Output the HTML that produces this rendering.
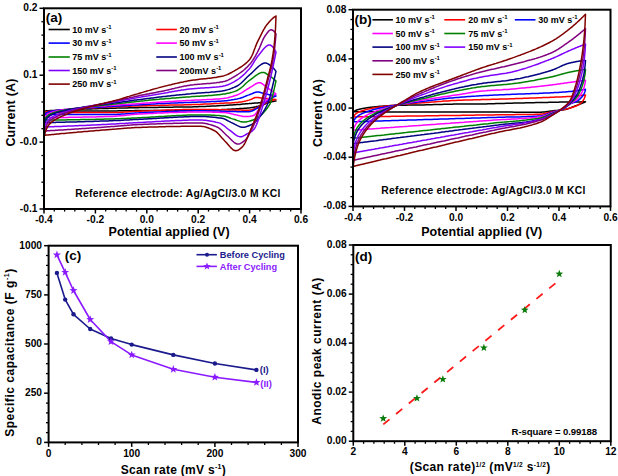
<!DOCTYPE html>
<html><head><meta charset="utf-8"><style>
html,body{margin:0;padding:0;background:#fff;}
svg{display:block;}
text{font-family:"Liberation Sans",sans-serif;font-weight:bold;fill:#000;}
.tk{font-size:10.2px;}
.lg{font-size:9px;}
.sup{font-size:6px;}
.ttl{font-size:12.5px;}
.pl{font-size:13.5px;}
.cv path{fill:none;stroke-width:1.5;stroke-linejoin:round;}
</style></head><body>
<svg width="618" height="476" viewBox="0 0 618 476">
<rect width="618" height="476" fill="#fff"/>
<g class="cv"><path d="M44.5,111.0 L45.0,111.0 L45.5,110.9 L46.0,110.9 L46.5,110.8 L47.0,110.8 L47.5,110.8 L48.0,110.7 L48.5,110.7 L49.0,110.7 L49.5,110.7 L50.0,110.6 L50.5,110.6 L51.0,110.6 L51.5,110.6 L52.0,110.5 L52.5,110.5 L53.0,110.5 L53.5,110.5 L54.0,110.4 L54.5,110.4 L55.0,110.4 L55.5,110.4 L56.0,110.3 L56.5,110.3 L57.0,110.3 L57.5,110.3 L58.0,110.2 L58.5,110.2 L59.0,110.2 L59.5,110.2 L60.0,110.1 L61.5,110.1 L63.0,110.0 L64.5,109.9 L66.0,109.9 L67.5,109.8 L69.0,109.7 L70.5,109.7 L72.0,109.6 L73.5,109.6 L75.0,109.5 L76.5,109.4 L78.0,109.4 L79.5,109.3 L81.0,109.3 L82.5,109.2 L84.0,109.1 L85.5,109.1 L87.0,109.0 L88.5,109.0 L90.0,108.9 L91.5,108.9 L93.0,108.8 L94.5,108.8 L96.0,108.7 L97.5,108.7 L99.0,108.6 L100.5,108.6 L102.0,108.5 L103.5,108.5 L105.0,108.4 L106.5,108.4 L108.0,108.4 L109.5,108.3 L111.0,108.3 L112.5,108.2 L114.0,108.2 L115.5,108.2 L117.0,108.1 L118.5,108.1 L120.0,108.0 L121.5,108.0 L123.0,108.0 L124.5,107.9 L126.0,107.9 L127.5,107.9 L129.0,107.8 L130.5,107.8 L132.0,107.8 L133.5,107.7 L135.0,107.7 L136.5,107.7 L138.0,107.7 L139.5,107.6 L141.0,107.6 L142.5,107.6 L144.0,107.6 L145.5,107.5 L147.0,107.5 L148.5,107.5 L150.0,107.5 L151.5,107.5 L153.0,107.4 L154.5,107.4 L156.0,107.4 L157.5,107.4 L159.0,107.3 L160.5,107.3 L162.0,107.3 L163.5,107.3 L165.0,107.3 L166.5,107.2 L168.0,107.2 L169.5,107.2 L171.0,107.2 L172.5,107.2 L174.0,107.1 L175.5,107.1 L177.0,107.1 L178.5,107.1 L180.0,107.1 L181.5,107.0 L183.0,107.0 L184.5,107.0 L186.0,107.0 L187.5,106.9 L189.0,106.9 L190.5,106.9 L192.0,106.9 L193.5,106.8 L195.0,106.8 L196.5,106.7 L198.0,106.7 L199.5,106.6 L201.0,106.6 L202.5,106.5 L204.0,106.4 L205.5,106.4 L207.0,106.3 L208.5,106.2 L210.0,106.2 L211.5,106.1 L213.0,106.0 L214.5,105.9 L216.0,105.9 L217.5,105.8 L219.0,105.7 L220.5,105.6 L222.0,105.6 L223.5,105.5 L225.0,105.4 L226.5,105.3 L228.0,105.2 L229.5,105.1 L231.0,105.0 L232.5,104.9 L234.0,104.8 L235.5,104.7 L237.0,104.6 L238.5,104.5 L240.0,104.4 L241.5,104.2 L243.0,104.1 L244.5,104.0 L246.0,103.8 L247.5,103.7 L249.0,103.6 L250.0,103.5 L250.5,103.5 L251.0,103.4 L251.5,103.4 L252.0,103.3 L252.5,103.3 L253.0,103.3 L253.5,103.2 L254.0,103.2 L254.5,103.1 L255.0,103.1 L255.5,103.1 L256.0,103.0 L256.5,103.0 L257.0,102.9 L257.5,102.9 L258.0,102.9 L258.5,102.8 L259.0,102.8 L259.5,102.7 L260.0,102.7 L260.5,102.6 L261.0,102.6 L261.5,102.5 L262.0,102.5 L262.5,102.5 L263.0,102.4 L263.5,102.4 L264.0,102.3 L264.5,102.3 L265.0,102.2 L265.5,102.2 L266.0,102.1 L266.5,102.1 L267.0,102.0 L267.5,102.0 L268.0,101.9 L268.5,101.8 L269.0,101.8 L269.5,101.7 L270.0,101.7 L270.5,101.6 L271.0,101.6 L271.5,101.5 L272.0,101.5 L272.5,101.4 L273.0,101.4 L273.5,101.3 L274.0,101.2 L274.5,101.2 L275.0,101.1 L275.5,101.1 L276.0,101.0 L276.0,101.0 L275.5,101.1 L275.0,101.1 L274.5,101.2 L274.0,101.3 L273.5,101.4 L273.0,101.5 L272.5,101.6 L272.0,101.7 L271.5,101.8 L271.0,101.9 L270.5,102.0 L270.0,102.1 L269.5,102.3 L269.0,102.4 L268.5,102.5 L268.0,102.7 L267.5,102.9 L267.0,103.1 L266.5,103.3 L266.0,103.6 L265.5,103.8 L265.0,104.0 L264.5,104.2 L264.0,104.5 L263.5,104.7 L263.0,104.9 L262.5,105.0 L262.0,105.2 L261.5,105.3 L261.0,105.5 L260.5,105.6 L260.0,105.8 L259.5,105.9 L259.0,106.0 L258.5,106.1 L258.0,106.3 L257.5,106.4 L257.0,106.5 L256.5,106.6 L256.0,106.8 L255.5,106.9 L255.0,107.0 L254.5,107.1 L254.0,107.2 L253.5,107.3 L253.0,107.4 L252.5,107.4 L252.0,107.5 L251.5,107.6 L251.0,107.7 L250.5,107.7 L250.0,107.8 L249.0,107.9 L247.5,108.0 L246.0,108.2 L244.5,108.3 L243.0,108.4 L241.5,108.5 L240.0,108.6 L238.5,108.7 L237.0,108.8 L235.5,108.9 L234.0,109.0 L232.5,109.1 L231.0,109.2 L229.5,109.3 L228.0,109.3 L226.5,109.4 L225.0,109.5 L223.5,109.6 L222.0,109.6 L220.5,109.7 L219.0,109.7 L217.5,109.8 L216.0,109.8 L214.5,109.9 L213.0,109.9 L211.5,110.0 L210.0,110.0 L208.5,110.1 L207.0,110.1 L205.5,110.1 L204.0,110.1 L202.5,110.2 L201.0,110.2 L199.5,110.2 L198.0,110.2 L196.5,110.2 L195.0,110.3 L193.5,110.3 L192.0,110.3 L190.5,110.3 L189.0,110.3 L187.5,110.3 L186.0,110.3 L184.5,110.3 L183.0,110.4 L181.5,110.4 L180.0,110.4 L178.5,110.4 L177.0,110.4 L175.5,110.4 L174.0,110.4 L172.5,110.4 L171.0,110.4 L169.5,110.4 L168.0,110.4 L166.5,110.4 L165.0,110.5 L163.5,110.5 L162.0,110.5 L160.5,110.5 L159.0,110.5 L157.5,110.5 L156.0,110.5 L154.5,110.5 L153.0,110.5 L151.5,110.5 L150.0,110.5 L148.5,110.5 L147.0,110.5 L145.5,110.6 L144.0,110.6 L142.5,110.6 L141.0,110.6 L139.5,110.6 L138.0,110.6 L136.5,110.6 L135.0,110.6 L133.5,110.7 L132.0,110.7 L130.5,110.7 L129.0,110.7 L127.5,110.7 L126.0,110.8 L124.5,110.8 L123.0,110.8 L121.5,110.8 L120.0,110.8 L118.5,110.8 L117.0,110.9 L115.5,110.9 L114.0,110.9 L112.5,110.9 L111.0,110.9 L109.5,110.9 L108.0,110.9 L106.5,110.9 L105.0,110.9 L103.5,110.9 L102.0,110.9 L100.5,110.9 L99.0,110.9 L97.5,110.9 L96.0,110.9 L94.5,110.9 L93.0,110.9 L91.5,110.9 L90.0,111.0 L88.5,111.0 L87.0,111.0 L85.5,111.0 L84.0,111.0 L82.5,111.0 L81.0,111.0 L79.5,111.0 L78.0,111.0 L76.5,111.0 L75.0,111.0 L73.5,111.0 L72.0,111.0 L70.5,111.0 L69.0,111.0 L67.5,111.0 L66.0,111.0 L64.5,111.0 L63.0,111.0 L61.5,111.0 L60.0,111.0 L59.5,111.0 L59.0,111.0 L58.5,111.0 L58.0,111.0 L57.5,111.0 L57.0,111.0 L56.5,111.0 L56.0,111.0 L55.5,111.0 L55.0,111.0 L54.5,111.0 L54.0,111.0 L53.5,111.0 L53.0,111.0 L52.5,111.0 L52.0,111.0 L51.5,111.0 L51.0,111.0 L50.5,111.0 L50.0,111.0 L49.5,111.0 L49.0,111.0 L48.5,111.0 L48.0,111.0 L47.5,111.0 L47.0,111.0 L46.5,111.0 L46.0,111.0 L45.5,111.0 L45.0,111.0 L44.5,111.0" stroke="#000000" stroke-width="1.80"/>
<path d="M44.5,112.5 L45.0,112.3 L45.5,112.1 L46.0,111.9 L46.5,111.8 L47.0,111.7 L47.5,111.6 L48.0,111.5 L48.5,111.4 L49.0,111.3 L49.5,111.3 L50.0,111.2 L50.5,111.1 L51.0,111.1 L51.5,111.0 L52.0,110.9 L52.5,110.9 L53.0,110.8 L53.5,110.8 L54.0,110.7 L54.5,110.7 L55.0,110.6 L55.5,110.6 L56.0,110.5 L56.5,110.5 L57.0,110.5 L57.5,110.4 L58.0,110.4 L58.5,110.3 L59.0,110.3 L59.5,110.2 L60.0,110.2 L61.5,110.1 L63.0,109.9 L64.5,109.8 L66.0,109.7 L67.5,109.6 L69.0,109.5 L70.5,109.4 L72.0,109.3 L73.5,109.2 L75.0,109.1 L76.5,109.0 L78.0,108.8 L79.5,108.7 L81.0,108.6 L82.5,108.5 L84.0,108.5 L85.5,108.4 L87.0,108.3 L88.5,108.2 L90.0,108.1 L91.5,108.0 L93.0,107.9 L94.5,107.8 L96.0,107.7 L97.5,107.6 L99.0,107.6 L100.5,107.5 L102.0,107.4 L103.5,107.3 L105.0,107.2 L106.5,107.2 L108.0,107.1 L109.5,107.0 L111.0,107.0 L112.5,106.9 L114.0,106.8 L115.5,106.8 L117.0,106.7 L118.5,106.6 L120.0,106.6 L121.5,106.5 L123.0,106.4 L124.5,106.4 L126.0,106.3 L127.5,106.3 L129.0,106.2 L130.5,106.2 L132.0,106.1 L133.5,106.1 L135.0,106.0 L136.5,106.0 L138.0,105.9 L139.5,105.9 L141.0,105.8 L142.5,105.8 L144.0,105.8 L145.5,105.7 L147.0,105.7 L148.5,105.6 L150.0,105.6 L151.5,105.6 L153.0,105.5 L154.5,105.5 L156.0,105.4 L157.5,105.4 L159.0,105.4 L160.5,105.3 L162.0,105.3 L163.5,105.3 L165.0,105.2 L166.5,105.2 L168.0,105.2 L169.5,105.1 L171.0,105.1 L172.5,105.1 L174.0,105.1 L175.5,105.0 L177.0,105.0 L178.5,105.0 L180.0,104.9 L181.5,104.9 L183.0,104.9 L184.5,104.8 L186.0,104.8 L187.5,104.8 L189.0,104.7 L190.5,104.7 L192.0,104.6 L193.5,104.6 L195.0,104.5 L196.5,104.5 L198.0,104.4 L199.5,104.4 L201.0,104.3 L202.5,104.2 L204.0,104.1 L205.5,104.1 L207.0,104.0 L208.5,103.9 L210.0,103.9 L211.5,103.8 L213.0,103.7 L214.5,103.6 L216.0,103.5 L217.5,103.5 L219.0,103.4 L220.5,103.3 L222.0,103.2 L223.5,103.2 L225.0,103.1 L226.5,103.0 L228.0,103.0 L229.5,102.9 L231.0,102.9 L232.5,102.8 L234.0,102.7 L235.5,102.6 L237.0,102.5 L238.5,102.3 L240.0,102.1 L241.5,101.9 L243.0,101.6 L244.5,101.2 L246.0,100.9 L247.5,100.5 L249.0,100.1 L250.0,99.8 L250.5,99.6 L251.0,99.4 L251.5,99.2 L252.0,99.0 L252.5,98.7 L253.0,98.4 L253.5,98.2 L254.0,98.0 L254.5,97.8 L255.0,97.6 L255.5,97.5 L256.0,97.5 L256.5,97.5 L257.0,97.5 L257.5,97.6 L258.0,97.6 L258.5,97.6 L259.0,97.7 L259.5,97.8 L260.0,97.8 L260.5,97.9 L261.0,98.0 L261.5,98.0 L262.0,98.1 L262.5,98.1 L263.0,98.2 L263.5,98.2 L264.0,98.3 L264.5,98.4 L265.0,98.4 L265.5,98.5 L266.0,98.5 L266.5,98.5 L267.0,98.6 L267.5,98.7 L268.0,98.7 L268.5,98.8 L269.0,98.8 L269.5,98.9 L270.0,98.9 L270.5,99.0 L271.0,99.0 L271.5,99.0 L272.0,99.1 L272.5,99.2 L273.0,99.2 L273.5,99.2 L274.0,99.3 L274.5,99.4 L275.0,99.4 L275.5,99.5 L276.0,99.5 L276.0,99.5 L275.5,99.6 L275.0,99.7 L274.5,99.8 L274.0,99.9 L273.5,100.1 L273.0,100.2 L272.5,100.3 L272.0,100.5 L271.5,100.6 L271.0,100.8 L270.5,101.0 L270.0,101.1 L269.5,101.3 L269.0,101.5 L268.5,101.7 L268.0,101.9 L267.5,102.1 L267.0,102.4 L266.5,102.6 L266.0,102.9 L265.5,103.2 L265.0,103.4 L264.5,103.7 L264.0,104.0 L263.5,104.3 L263.0,104.5 L262.5,104.8 L262.0,105.0 L261.5,105.2 L261.0,105.5 L260.5,105.7 L260.0,106.0 L259.5,106.2 L259.0,106.5 L258.5,106.8 L258.0,107.0 L257.5,107.3 L257.0,107.6 L256.5,107.8 L256.0,108.1 L255.5,108.3 L255.0,108.6 L254.5,108.8 L254.0,109.0 L253.5,109.2 L253.0,109.4 L252.5,109.6 L252.0,109.7 L251.5,109.9 L251.0,110.0 L250.5,110.1 L250.0,110.1 L249.0,110.2 L247.5,110.2 L246.0,110.2 L244.5,110.2 L243.0,110.2 L241.5,110.1 L240.0,110.1 L238.5,110.1 L237.0,110.1 L235.5,110.1 L234.0,110.0 L232.5,110.0 L231.0,110.0 L229.5,109.9 L228.0,109.9 L226.5,109.8 L225.0,109.8 L223.5,109.8 L222.0,109.7 L220.5,109.7 L219.0,109.7 L217.5,109.6 L216.0,109.6 L214.5,109.6 L213.0,109.5 L211.5,109.5 L210.0,109.5 L208.5,109.5 L207.0,109.4 L205.5,109.4 L204.0,109.4 L202.5,109.4 L201.0,109.4 L199.5,109.4 L198.0,109.4 L196.5,109.4 L195.0,109.4 L193.5,109.4 L192.0,109.5 L190.5,109.5 L189.0,109.5 L187.5,109.5 L186.0,109.6 L184.5,109.6 L183.0,109.6 L181.5,109.7 L180.0,109.7 L178.5,109.7 L177.0,109.8 L175.5,109.8 L174.0,109.9 L172.5,109.9 L171.0,110.0 L169.5,110.0 L168.0,110.1 L166.5,110.1 L165.0,110.2 L163.5,110.3 L162.0,110.3 L160.5,110.4 L159.0,110.4 L157.5,110.5 L156.0,110.6 L154.5,110.6 L153.0,110.7 L151.5,110.7 L150.0,110.8 L148.5,110.9 L147.0,110.9 L145.5,111.0 L144.0,111.0 L142.5,111.1 L141.0,111.2 L139.5,111.2 L138.0,111.3 L136.5,111.4 L135.0,111.4 L133.5,111.5 L132.0,111.6 L130.5,111.7 L129.0,111.8 L127.5,111.9 L126.0,112.0 L124.5,112.1 L123.0,112.2 L121.5,112.2 L120.0,112.3 L118.5,112.4 L117.0,112.5 L115.5,112.5 L114.0,112.5 L112.5,112.6 L111.0,112.6 L109.5,112.6 L108.0,112.6 L106.5,112.6 L105.0,112.6 L103.5,112.6 L102.0,112.6 L100.5,112.6 L99.0,112.6 L97.5,112.6 L96.0,112.6 L94.5,112.6 L93.0,112.6 L91.5,112.6 L90.0,112.6 L88.5,112.6 L87.0,112.6 L85.5,112.6 L84.0,112.6 L82.5,112.6 L81.0,112.6 L79.5,112.6 L78.0,112.6 L76.5,112.6 L75.0,112.6 L73.5,112.6 L72.0,112.6 L70.5,112.6 L69.0,112.6 L67.5,112.6 L66.0,112.6 L64.5,112.6 L63.0,112.6 L61.5,112.6 L60.0,112.6 L59.5,112.6 L59.0,112.6 L58.5,112.6 L58.0,112.5 L57.5,112.5 L57.0,112.5 L56.5,112.5 L56.0,112.5 L55.5,112.5 L55.0,112.5 L54.5,112.5 L54.0,112.5 L53.5,112.5 L53.0,112.5 L52.5,112.5 L52.0,112.5 L51.5,112.5 L51.0,112.5 L50.5,112.5 L50.0,112.5 L49.5,112.5 L49.0,112.5 L48.5,112.5 L48.0,112.5 L47.5,112.5 L47.0,112.5 L46.5,112.5 L46.0,112.5 L45.5,112.5 L45.0,112.5 L44.5,112.5" stroke="#ff0000" stroke-width="1.80"/>
<path d="M44.5,114.5 L45.0,114.0 L45.5,113.5 L46.0,113.2 L46.5,112.9 L47.0,112.6 L47.5,112.4 L48.0,112.2 L48.5,112.0 L49.0,111.8 L49.5,111.7 L50.0,111.5 L50.5,111.4 L51.0,111.3 L51.5,111.2 L52.0,111.1 L52.5,111.0 L53.0,110.9 L53.5,110.8 L54.0,110.8 L54.5,110.7 L55.0,110.6 L55.5,110.5 L56.0,110.5 L56.5,110.4 L57.0,110.3 L57.5,110.3 L58.0,110.2 L58.5,110.2 L59.0,110.1 L59.5,110.1 L60.0,110.0 L61.5,109.9 L63.0,109.7 L64.5,109.6 L66.0,109.5 L67.5,109.4 L69.0,109.2 L70.5,109.1 L72.0,109.0 L73.5,108.9 L75.0,108.8 L76.5,108.7 L78.0,108.6 L79.5,108.5 L81.0,108.4 L82.5,108.3 L84.0,108.2 L85.5,108.1 L87.0,108.0 L88.5,107.9 L90.0,107.8 L91.5,107.7 L93.0,107.6 L94.5,107.5 L96.0,107.4 L97.5,107.3 L99.0,107.2 L100.5,107.1 L102.0,107.0 L103.5,106.9 L105.0,106.8 L106.5,106.7 L108.0,106.6 L109.5,106.5 L111.0,106.4 L112.5,106.3 L114.0,106.3 L115.5,106.2 L117.0,106.1 L118.5,106.0 L120.0,105.9 L121.5,105.8 L123.0,105.7 L124.5,105.7 L126.0,105.6 L127.5,105.5 L129.0,105.4 L130.5,105.3 L132.0,105.2 L133.5,105.1 L135.0,105.1 L136.5,105.0 L138.0,104.9 L139.5,104.8 L141.0,104.7 L142.5,104.6 L144.0,104.5 L145.5,104.4 L147.0,104.3 L148.5,104.2 L150.0,104.2 L151.5,104.1 L153.0,104.0 L154.5,103.9 L156.0,103.8 L157.5,103.7 L159.0,103.6 L160.5,103.6 L162.0,103.5 L163.5,103.4 L165.0,103.4 L166.5,103.3 L168.0,103.2 L169.5,103.2 L171.0,103.1 L172.5,103.1 L174.0,103.0 L175.5,102.9 L177.0,102.9 L178.5,102.8 L180.0,102.8 L181.5,102.7 L183.0,102.7 L184.5,102.6 L186.0,102.6 L187.5,102.5 L189.0,102.4 L190.5,102.4 L192.0,102.3 L193.5,102.3 L195.0,102.2 L196.5,102.2 L198.0,102.1 L199.5,102.1 L201.0,102.0 L202.5,102.0 L204.0,101.9 L205.5,101.9 L207.0,101.8 L208.5,101.7 L210.0,101.7 L211.5,101.6 L213.0,101.6 L214.5,101.5 L216.0,101.4 L217.5,101.3 L219.0,101.3 L220.5,101.2 L222.0,101.1 L223.5,101.0 L225.0,100.8 L226.5,100.7 L228.0,100.5 L229.5,100.3 L231.0,100.1 L232.5,99.8 L234.0,99.6 L235.5,99.3 L237.0,99.0 L238.5,98.6 L240.0,98.2 L241.5,97.7 L243.0,97.2 L244.5,96.6 L246.0,96.0 L247.5,95.4 L249.0,94.9 L250.0,94.5 L250.5,94.3 L251.0,94.1 L251.5,93.9 L252.0,93.7 L252.5,93.5 L253.0,93.3 L253.5,93.0 L254.0,92.8 L254.5,92.6 L255.0,92.5 L255.5,92.3 L256.0,92.2 L256.5,92.1 L257.0,92.0 L257.5,92.0 L258.0,92.0 L258.5,92.1 L259.0,92.1 L259.5,92.2 L260.0,92.3 L260.5,92.5 L261.0,92.6 L261.5,92.8 L262.0,92.9 L262.5,93.1 L263.0,93.2 L263.5,93.4 L264.0,93.5 L264.5,93.7 L265.0,93.8 L265.5,93.9 L266.0,94.0 L266.5,94.1 L267.0,94.2 L267.5,94.3 L268.0,94.4 L268.5,94.5 L269.0,94.7 L269.5,94.8 L270.0,94.9 L270.5,95.0 L271.0,95.1 L271.5,95.2 L272.0,95.3 L272.5,95.4 L273.0,95.4 L273.5,95.5 L274.0,95.6 L274.5,95.7 L275.0,95.8 L275.5,95.9 L276.0,96.0 L276.0,96.0 L275.5,96.2 L275.0,96.4 L274.5,96.6 L274.0,96.8 L273.5,97.0 L273.0,97.2 L272.5,97.5 L272.0,97.7 L271.5,98.0 L271.0,98.2 L270.5,98.5 L270.0,98.8 L269.5,99.1 L269.0,99.4 L268.5,99.7 L268.0,100.1 L267.5,100.5 L267.0,100.9 L266.5,101.3 L266.0,101.7 L265.5,102.2 L265.0,102.6 L264.5,103.1 L264.0,103.5 L263.5,103.9 L263.0,104.3 L262.5,104.7 L262.0,105.0 L261.5,105.3 L261.0,105.6 L260.5,106.0 L260.0,106.3 L259.5,106.6 L259.0,107.0 L258.5,107.3 L258.0,107.6 L257.5,107.9 L257.0,108.3 L256.5,108.6 L256.0,108.9 L255.5,109.2 L255.0,109.5 L254.5,109.8 L254.0,110.0 L253.5,110.3 L253.0,110.5 L252.5,110.8 L252.0,111.0 L251.5,111.1 L251.0,111.3 L250.5,111.5 L250.0,111.6 L249.0,111.7 L247.5,111.8 L246.0,111.8 L244.5,111.8 L243.0,111.8 L241.5,111.7 L240.0,111.7 L238.5,111.7 L237.0,111.7 L235.5,111.6 L234.0,111.6 L232.5,111.6 L231.0,111.5 L229.5,111.5 L228.0,111.4 L226.5,111.4 L225.0,111.3 L223.5,111.3 L222.0,111.2 L220.5,111.2 L219.0,111.1 L217.5,111.1 L216.0,111.1 L214.5,111.0 L213.0,111.0 L211.5,110.9 L210.0,110.9 L208.5,110.9 L207.0,110.9 L205.5,110.8 L204.0,110.8 L202.5,110.8 L201.0,110.8 L199.5,110.8 L198.0,110.8 L196.5,110.8 L195.0,110.8 L193.5,110.8 L192.0,110.9 L190.5,110.9 L189.0,110.9 L187.5,110.9 L186.0,111.0 L184.5,111.0 L183.0,111.0 L181.5,111.1 L180.0,111.1 L178.5,111.2 L177.0,111.2 L175.5,111.3 L174.0,111.3 L172.5,111.4 L171.0,111.4 L169.5,111.5 L168.0,111.5 L166.5,111.6 L165.0,111.7 L163.5,111.7 L162.0,111.8 L160.5,111.9 L159.0,111.9 L157.5,112.0 L156.0,112.1 L154.5,112.1 L153.0,112.2 L151.5,112.3 L150.0,112.3 L148.5,112.4 L147.0,112.5 L145.5,112.6 L144.0,112.6 L142.5,112.7 L141.0,112.8 L139.5,112.8 L138.0,112.9 L136.5,113.0 L135.0,113.1 L133.5,113.2 L132.0,113.3 L130.5,113.4 L129.0,113.5 L127.5,113.7 L126.0,113.8 L124.5,113.9 L123.0,114.0 L121.5,114.1 L120.0,114.2 L118.5,114.3 L117.0,114.4 L115.5,114.5 L114.0,114.5 L112.5,114.6 L111.0,114.6 L109.5,114.6 L108.0,114.6 L106.5,114.6 L105.0,114.6 L103.5,114.6 L102.0,114.6 L100.5,114.6 L99.0,114.6 L97.5,114.6 L96.0,114.6 L94.5,114.6 L93.0,114.6 L91.5,114.6 L90.0,114.6 L88.5,114.6 L87.0,114.6 L85.5,114.6 L84.0,114.6 L82.5,114.6 L81.0,114.6 L79.5,114.6 L78.0,114.6 L76.5,114.6 L75.0,114.6 L73.5,114.6 L72.0,114.6 L70.5,114.6 L69.0,114.6 L67.5,114.6 L66.0,114.6 L64.5,114.6 L63.0,114.6 L61.5,114.6 L60.0,114.6 L59.5,114.6 L59.0,114.6 L58.5,114.6 L58.0,114.5 L57.5,114.5 L57.0,114.5 L56.5,114.5 L56.0,114.5 L55.5,114.5 L55.0,114.5 L54.5,114.5 L54.0,114.5 L53.5,114.5 L53.0,114.5 L52.5,114.5 L52.0,114.5 L51.5,114.5 L51.0,114.5 L50.5,114.5 L50.0,114.5 L49.5,114.5 L49.0,114.5 L48.5,114.5 L48.0,114.5 L47.5,114.5 L47.0,114.5 L46.5,114.5 L46.0,114.5 L45.5,114.5 L45.0,114.5 L44.5,114.5" stroke="#0000ff" stroke-width="1.80"/>
<path d="M44.5,117.5 L45.0,116.7 L45.5,116.0 L46.0,115.5 L46.5,115.0 L47.0,114.6 L47.5,114.2 L48.0,113.9 L48.5,113.6 L49.0,113.3 L49.5,113.1 L50.0,112.9 L50.5,112.7 L51.0,112.5 L51.5,112.3 L52.0,112.2 L52.5,112.0 L53.0,111.9 L53.5,111.7 L54.0,111.6 L54.5,111.5 L55.0,111.3 L55.5,111.2 L56.0,111.1 L56.5,111.0 L57.0,110.9 L57.5,110.8 L58.0,110.7 L58.5,110.6 L59.0,110.5 L59.5,110.4 L60.0,110.3 L61.5,110.0 L63.0,109.8 L64.5,109.6 L66.0,109.4 L67.5,109.2 L69.0,109.0 L70.5,108.9 L72.0,108.7 L73.5,108.5 L75.0,108.4 L76.5,108.2 L78.0,108.1 L79.5,107.9 L81.0,107.8 L82.5,107.7 L84.0,107.5 L85.5,107.4 L87.0,107.3 L88.5,107.2 L90.0,107.0 L91.5,106.9 L93.0,106.8 L94.5,106.7 L96.0,106.6 L97.5,106.4 L99.0,106.3 L100.5,106.2 L102.0,106.1 L103.5,106.0 L105.0,105.9 L106.5,105.8 L108.0,105.6 L109.5,105.5 L111.0,105.4 L112.5,105.3 L114.0,105.2 L115.5,105.1 L117.0,105.0 L118.5,104.9 L120.0,104.8 L121.5,104.7 L123.0,104.6 L124.5,104.5 L126.0,104.4 L127.5,104.4 L129.0,104.3 L130.5,104.2 L132.0,104.1 L133.5,104.0 L135.0,103.9 L136.5,103.8 L138.0,103.7 L139.5,103.6 L141.0,103.5 L142.5,103.3 L144.0,103.2 L145.5,103.1 L147.0,103.0 L148.5,102.9 L150.0,102.8 L151.5,102.7 L153.0,102.6 L154.5,102.5 L156.0,102.4 L157.5,102.3 L159.0,102.2 L160.5,102.1 L162.0,102.0 L163.5,101.9 L165.0,101.8 L166.5,101.7 L168.0,101.6 L169.5,101.5 L171.0,101.5 L172.5,101.4 L174.0,101.3 L175.5,101.2 L177.0,101.1 L178.5,101.0 L180.0,101.0 L181.5,100.9 L183.0,100.8 L184.5,100.7 L186.0,100.6 L187.5,100.5 L189.0,100.5 L190.5,100.4 L192.0,100.3 L193.5,100.2 L195.0,100.1 L196.5,100.1 L198.0,100.0 L199.5,99.9 L201.0,99.9 L202.5,99.8 L204.0,99.7 L205.5,99.7 L207.0,99.6 L208.5,99.5 L210.0,99.5 L211.5,99.4 L213.0,99.3 L214.5,99.2 L216.0,99.1 L217.5,99.0 L219.0,98.9 L220.5,98.7 L222.0,98.6 L223.5,98.4 L225.0,98.2 L226.5,98.0 L228.0,97.7 L229.5,97.3 L231.0,96.9 L232.5,96.5 L234.0,96.0 L235.5,95.5 L237.0,95.0 L238.5,94.4 L240.0,93.6 L241.5,92.8 L243.0,91.9 L244.5,90.9 L246.0,89.9 L247.5,89.0 L249.0,88.1 L250.0,87.5 L250.5,87.2 L251.0,86.9 L251.5,86.6 L252.0,86.3 L252.5,85.9 L253.0,85.6 L253.5,85.3 L254.0,84.9 L254.5,84.6 L255.0,84.3 L255.5,84.0 L256.0,83.7 L256.5,83.5 L257.0,83.3 L257.5,83.1 L258.0,82.9 L258.5,82.8 L259.0,82.7 L259.5,82.7 L260.0,82.7 L260.5,82.9 L261.0,83.0 L261.5,83.3 L262.0,83.6 L262.5,83.9 L263.0,84.3 L263.5,84.7 L264.0,85.1 L264.5,85.5 L265.0,85.9 L265.5,86.4 L266.0,86.8 L266.5,87.1 L267.0,87.5 L267.5,87.8 L268.0,88.2 L268.5,88.5 L269.0,88.9 L269.5,89.2 L270.0,89.6 L270.5,89.9 L271.0,90.3 L271.5,90.6 L272.0,91.0 L272.5,91.4 L273.0,91.7 L273.5,92.1 L274.0,92.5 L274.5,92.9 L275.0,93.2 L275.5,93.6 L276.0,94.0 L276.0,94.0 L275.5,94.2 L275.0,94.4 L274.5,94.7 L274.0,95.0 L273.5,95.2 L273.0,95.5 L272.5,95.8 L272.0,96.1 L271.5,96.4 L271.0,96.8 L270.5,97.1 L270.0,97.5 L269.5,97.8 L269.0,98.2 L268.5,98.6 L268.0,99.0 L267.5,99.4 L267.0,99.9 L266.5,100.3 L266.0,100.8 L265.5,101.3 L265.0,101.8 L264.5,102.3 L264.0,102.9 L263.5,103.4 L263.0,103.9 L262.5,104.5 L262.0,105.0 L261.5,105.6 L261.0,106.2 L260.5,106.9 L260.0,107.6 L259.5,108.3 L259.0,109.0 L258.5,109.8 L258.0,110.6 L257.5,111.3 L257.0,112.0 L256.5,112.7 L256.0,113.3 L255.5,113.9 L255.0,114.5 L254.5,114.9 L254.0,115.3 L253.5,115.5 L253.0,115.7 L252.5,115.8 L252.0,115.9 L251.5,116.0 L251.0,116.1 L250.5,116.2 L250.0,116.3 L249.0,116.4 L247.5,116.6 L246.0,116.6 L244.5,116.5 L243.0,116.4 L241.5,116.1 L240.0,115.8 L238.5,115.4 L237.0,115.1 L235.5,114.7 L234.0,114.4 L232.5,114.1 L231.0,113.7 L229.5,113.3 L228.0,113.0 L226.5,112.7 L225.0,112.6 L223.5,112.5 L222.0,112.5 L220.5,112.4 L219.0,112.3 L217.5,112.3 L216.0,112.2 L214.5,112.2 L213.0,112.2 L211.5,112.1 L210.0,112.1 L208.5,112.1 L207.0,112.0 L205.5,112.0 L204.0,112.0 L202.5,112.0 L201.0,112.0 L199.5,112.0 L198.0,112.0 L196.5,112.0 L195.0,112.0 L193.5,112.0 L192.0,112.1 L190.5,112.1 L189.0,112.1 L187.5,112.1 L186.0,112.2 L184.5,112.2 L183.0,112.2 L181.5,112.3 L180.0,112.3 L178.5,112.3 L177.0,112.4 L175.5,112.4 L174.0,112.5 L172.5,112.5 L171.0,112.6 L169.5,112.6 L168.0,112.7 L166.5,112.8 L165.0,112.8 L163.5,112.9 L162.0,112.9 L160.5,113.0 L159.0,113.1 L157.5,113.1 L156.0,113.2 L154.5,113.3 L153.0,113.4 L151.5,113.4 L150.0,113.5 L148.5,113.6 L147.0,113.7 L145.5,113.7 L144.0,113.8 L142.5,113.9 L141.0,114.0 L139.5,114.0 L138.0,114.1 L136.5,114.2 L135.0,114.3 L133.5,114.5 L132.0,114.6 L130.5,114.8 L129.0,114.9 L127.5,115.1 L126.0,115.2 L124.5,115.4 L123.0,115.5 L121.5,115.7 L120.0,115.8 L118.5,116.0 L117.0,116.1 L115.5,116.2 L114.0,116.3 L112.5,116.4 L111.0,116.5 L109.5,116.5 L108.0,116.6 L106.5,116.6 L105.0,116.6 L103.5,116.7 L102.0,116.7 L100.5,116.8 L99.0,116.8 L97.5,116.8 L96.0,116.9 L94.5,116.9 L93.0,116.9 L91.5,117.0 L90.0,117.0 L88.5,117.0 L87.0,117.1 L85.5,117.1 L84.0,117.1 L82.5,117.1 L81.0,117.2 L79.5,117.2 L78.0,117.2 L76.5,117.2 L75.0,117.3 L73.5,117.3 L72.0,117.3 L70.5,117.3 L69.0,117.3 L67.5,117.4 L66.0,117.4 L64.5,117.4 L63.0,117.4 L61.5,117.4 L60.0,117.4 L59.5,117.4 L59.0,117.4 L58.5,117.4 L58.0,117.5 L57.5,117.5 L57.0,117.5 L56.5,117.5 L56.0,117.5 L55.5,117.5 L55.0,117.5 L54.5,117.5 L54.0,117.5 L53.5,117.5 L53.0,117.5 L52.5,117.5 L52.0,117.5 L51.5,117.5 L51.0,117.5 L50.5,117.5 L50.0,117.5 L49.5,117.5 L49.0,117.5 L48.5,117.5 L48.0,117.5 L47.5,117.5 L47.0,117.5 L46.5,117.5 L46.0,117.5 L45.5,117.5 L45.0,117.5 L44.5,117.5" stroke="#ff00ff" stroke-width="1.80"/>
<path d="M44.5,120.0 L45.0,119.0 L45.5,118.2 L46.0,117.5 L46.5,116.9 L47.0,116.4 L47.5,115.9 L48.0,115.5 L48.5,115.1 L49.0,114.8 L49.5,114.5 L50.0,114.3 L50.5,114.0 L51.0,113.8 L51.5,113.6 L52.0,113.3 L52.5,113.2 L53.0,113.0 L53.5,112.8 L54.0,112.6 L54.5,112.5 L55.0,112.3 L55.5,112.2 L56.0,112.0 L56.5,111.9 L57.0,111.7 L57.5,111.6 L58.0,111.5 L58.5,111.3 L59.0,111.2 L59.5,111.1 L60.0,111.0 L61.5,110.7 L63.0,110.4 L64.5,110.1 L66.0,109.8 L67.5,109.6 L69.0,109.3 L70.5,109.1 L72.0,108.9 L73.5,108.7 L75.0,108.5 L76.5,108.3 L78.0,108.1 L79.5,107.9 L81.0,107.7 L82.5,107.5 L84.0,107.4 L85.5,107.2 L87.0,107.0 L88.5,106.8 L90.0,106.7 L91.5,106.5 L93.0,106.3 L94.5,106.2 L96.0,106.0 L97.5,105.9 L99.0,105.7 L100.5,105.5 L102.0,105.4 L103.5,105.2 L105.0,105.1 L106.5,104.9 L108.0,104.7 L109.5,104.6 L111.0,104.4 L112.5,104.2 L114.0,104.1 L115.5,103.9 L117.0,103.7 L118.5,103.6 L120.0,103.4 L121.5,103.2 L123.0,103.1 L124.5,102.9 L126.0,102.7 L127.5,102.5 L129.0,102.4 L130.5,102.2 L132.0,102.0 L133.5,101.9 L135.0,101.7 L136.5,101.5 L138.0,101.4 L139.5,101.2 L141.0,101.1 L142.5,100.9 L144.0,100.8 L145.5,100.6 L147.0,100.4 L148.5,100.3 L150.0,100.1 L151.5,100.0 L153.0,99.8 L154.5,99.7 L156.0,99.6 L157.5,99.4 L159.0,99.3 L160.5,99.1 L162.0,99.0 L163.5,98.9 L165.0,98.7 L166.5,98.6 L168.0,98.5 L169.5,98.4 L171.0,98.3 L172.5,98.1 L174.0,98.0 L175.5,97.9 L177.0,97.8 L178.5,97.7 L180.0,97.6 L181.5,97.5 L183.0,97.3 L184.5,97.2 L186.0,97.1 L187.5,97.0 L189.0,96.9 L190.5,96.8 L192.0,96.6 L193.5,96.5 L195.0,96.4 L196.5,96.3 L198.0,96.2 L199.5,96.2 L201.0,96.1 L202.5,96.0 L204.0,95.9 L205.5,95.8 L207.0,95.7 L208.5,95.6 L210.0,95.5 L211.5,95.4 L213.0,95.2 L214.5,95.1 L216.0,95.0 L217.5,94.8 L219.0,94.7 L220.5,94.5 L222.0,94.3 L223.5,94.1 L225.0,93.9 L226.5,93.6 L228.0,93.3 L229.5,93.0 L231.0,92.5 L232.5,92.1 L234.0,91.6 L235.5,91.1 L237.0,90.5 L238.5,89.7 L240.0,88.7 L241.5,87.5 L243.0,86.2 L244.5,84.8 L246.0,83.3 L247.5,82.0 L249.0,80.7 L250.0,80.0 L250.5,79.7 L251.0,79.3 L251.5,78.9 L252.0,78.5 L252.5,78.2 L253.0,77.8 L253.5,77.4 L254.0,77.0 L254.5,76.6 L255.0,76.2 L255.5,75.8 L256.0,75.5 L256.5,75.1 L257.0,74.8 L257.5,74.4 L258.0,74.1 L258.5,73.8 L259.0,73.5 L259.5,73.3 L260.0,73.1 L260.5,72.9 L261.0,72.7 L261.5,72.6 L262.0,72.5 L262.5,72.4 L263.0,72.4 L263.5,72.4 L264.0,72.5 L264.5,72.7 L265.0,72.9 L265.5,73.2 L266.0,73.5 L266.5,73.8 L267.0,74.1 L267.5,74.5 L268.0,74.8 L268.5,75.2 L269.0,75.5 L269.5,75.8 L270.0,76.1 L270.5,76.5 L271.0,76.8 L271.5,77.2 L272.0,77.6 L272.5,78.0 L273.0,78.4 L273.5,78.8 L274.0,79.2 L274.5,79.6 L275.0,80.1 L275.5,80.5 L276.0,81.0 L276.0,81.0 L275.5,83.2 L275.0,85.4 L274.5,87.7 L274.0,89.9 L273.5,92.1 L273.0,94.2 L272.5,96.2 L272.0,98.0 L271.5,99.8 L271.0,101.4 L270.5,102.7 L270.0,103.9 L269.5,104.9 L269.0,105.6 L268.5,106.4 L268.0,107.1 L267.5,107.8 L267.0,108.4 L266.5,109.1 L266.0,109.7 L265.5,110.3 L265.0,110.9 L264.5,111.5 L264.0,112.1 L263.5,112.6 L263.0,113.1 L262.5,113.6 L262.0,114.1 L261.5,114.6 L261.0,115.0 L260.5,115.4 L260.0,115.9 L259.5,116.2 L259.0,116.6 L258.5,117.0 L258.0,117.3 L257.5,117.7 L257.0,118.0 L256.5,118.3 L256.0,118.6 L255.5,118.8 L255.0,119.1 L254.5,119.3 L254.0,119.6 L253.5,119.8 L253.0,120.0 L252.5,120.2 L252.0,120.3 L251.5,120.5 L251.0,120.7 L250.5,120.8 L250.0,120.9 L249.0,121.2 L247.5,121.6 L246.0,121.9 L244.5,122.0 L243.0,122.0 L241.5,121.7 L240.0,121.4 L238.5,120.9 L237.0,120.4 L235.5,119.8 L234.0,119.3 L232.5,118.9 L231.0,118.4 L229.5,117.8 L228.0,117.2 L226.5,116.7 L225.0,116.3 L223.5,116.0 L222.0,115.9 L220.5,115.7 L219.0,115.6 L217.5,115.5 L216.0,115.4 L214.5,115.3 L213.0,115.2 L211.5,115.2 L210.0,115.1 L208.5,115.0 L207.0,115.0 L205.5,115.0 L204.0,114.9 L202.5,114.9 L201.0,114.9 L199.5,114.9 L198.0,114.9 L196.5,114.9 L195.0,114.9 L193.5,115.0 L192.0,115.0 L190.5,115.0 L189.0,115.1 L187.5,115.1 L186.0,115.2 L184.5,115.2 L183.0,115.3 L181.5,115.4 L180.0,115.4 L178.5,115.5 L177.0,115.6 L175.5,115.7 L174.0,115.7 L172.5,115.8 L171.0,115.9 L169.5,116.0 L168.0,116.1 L166.5,116.2 L165.0,116.3 L163.5,116.4 L162.0,116.5 L160.5,116.5 L159.0,116.6 L157.5,116.7 L156.0,116.8 L154.5,116.9 L153.0,117.0 L151.5,117.1 L150.0,117.2 L148.5,117.3 L147.0,117.4 L145.5,117.4 L144.0,117.5 L142.5,117.6 L141.0,117.7 L139.5,117.7 L138.0,117.8 L136.5,117.9 L135.0,117.9 L133.5,118.0 L132.0,118.1 L130.5,118.2 L129.0,118.2 L127.5,118.3 L126.0,118.4 L124.5,118.5 L123.0,118.5 L121.5,118.6 L120.0,118.7 L118.5,118.7 L117.0,118.8 L115.5,118.8 L114.0,118.9 L112.5,118.9 L111.0,119.0 L109.5,119.0 L108.0,119.0 L106.5,119.1 L105.0,119.1 L103.5,119.2 L102.0,119.2 L100.5,119.2 L99.0,119.3 L97.5,119.3 L96.0,119.3 L94.5,119.4 L93.0,119.4 L91.5,119.4 L90.0,119.5 L88.5,119.5 L87.0,119.5 L85.5,119.5 L84.0,119.6 L82.5,119.6 L81.0,119.6 L79.5,119.7 L78.0,119.7 L76.5,119.7 L75.0,119.7 L73.5,119.8 L72.0,119.8 L70.5,119.8 L69.0,119.8 L67.5,119.8 L66.0,119.9 L64.5,119.9 L63.0,119.9 L61.5,119.9 L60.0,119.9 L59.5,119.9 L59.0,119.9 L58.5,119.9 L58.0,119.9 L57.5,119.9 L57.0,120.0 L56.5,120.0 L56.0,120.0 L55.5,120.0 L55.0,120.0 L54.5,120.0 L54.0,120.0 L53.5,120.0 L53.0,120.0 L52.5,120.0 L52.0,120.0 L51.5,120.0 L51.0,120.0 L50.5,120.0 L50.0,120.0 L49.5,120.0 L49.0,120.0 L48.5,120.0 L48.0,120.0 L47.5,120.0 L47.0,120.0 L46.5,120.0 L46.0,120.0 L45.5,120.0 L45.0,120.0 L44.5,120.0" stroke="#008000" stroke-width="1.80"/>
<path d="M44.5,122.5 L45.0,121.3 L45.5,120.3 L46.0,119.5 L46.5,118.8 L47.0,118.2 L47.5,117.6 L48.0,117.1 L48.5,116.7 L49.0,116.3 L49.5,116.0 L50.0,115.6 L50.5,115.3 L51.0,115.1 L51.5,114.8 L52.0,114.6 L52.5,114.3 L53.0,114.1 L53.5,113.9 L54.0,113.7 L54.5,113.5 L55.0,113.3 L55.5,113.1 L56.0,112.9 L56.5,112.7 L57.0,112.6 L57.5,112.4 L58.0,112.3 L58.5,112.1 L59.0,111.9 L59.5,111.8 L60.0,111.7 L61.5,111.2 L63.0,110.9 L64.5,110.5 L66.0,110.2 L67.5,109.8 L69.0,109.5 L70.5,109.2 L72.0,109.0 L73.5,108.7 L75.0,108.4 L76.5,108.2 L78.0,107.9 L79.5,107.7 L81.0,107.5 L82.5,107.2 L84.0,107.0 L85.5,106.8 L87.0,106.6 L88.5,106.4 L90.0,106.2 L91.5,106.0 L93.0,105.8 L94.5,105.6 L96.0,105.4 L97.5,105.2 L99.0,105.0 L100.5,104.8 L102.0,104.6 L103.5,104.4 L105.0,104.2 L106.5,104.0 L108.0,103.8 L109.5,103.6 L111.0,103.4 L112.5,103.2 L114.0,103.0 L115.5,102.8 L117.0,102.6 L118.5,102.4 L120.0,102.2 L121.5,102.0 L123.0,101.8 L124.5,101.6 L126.0,101.4 L127.5,101.2 L129.0,100.9 L130.5,100.7 L132.0,100.5 L133.5,100.3 L135.0,100.1 L136.5,99.9 L138.0,99.7 L139.5,99.6 L141.0,99.4 L142.5,99.2 L144.0,99.0 L145.5,98.8 L147.0,98.6 L148.5,98.4 L150.0,98.2 L151.5,98.0 L153.0,97.9 L154.5,97.7 L156.0,97.5 L157.5,97.3 L159.0,97.1 L160.5,97.0 L162.0,96.8 L163.5,96.6 L165.0,96.5 L166.5,96.3 L168.0,96.1 L169.5,96.0 L171.0,95.8 L172.5,95.6 L174.0,95.5 L175.5,95.3 L177.0,95.1 L178.5,95.0 L180.0,94.8 L181.5,94.7 L183.0,94.5 L184.5,94.4 L186.0,94.2 L187.5,94.0 L189.0,93.9 L190.5,93.8 L192.0,93.6 L193.5,93.5 L195.0,93.4 L196.5,93.2 L198.0,93.1 L199.5,93.0 L201.0,92.9 L202.5,92.8 L204.0,92.7 L205.5,92.6 L207.0,92.5 L208.5,92.4 L210.0,92.3 L211.5,92.1 L213.0,92.0 L214.5,91.9 L216.0,91.7 L217.5,91.5 L219.0,91.4 L220.5,91.2 L222.0,91.0 L223.5,90.7 L225.0,90.4 L226.5,90.1 L228.0,89.6 L229.5,89.2 L231.0,88.6 L232.5,88.0 L234.0,87.4 L235.5,86.7 L237.0,86.0 L238.5,85.1 L240.0,84.0 L241.5,82.7 L243.0,81.3 L244.5,79.8 L246.0,78.2 L247.5,76.7 L249.0,75.4 L250.0,74.5 L250.5,74.1 L251.0,73.7 L251.5,73.2 L252.0,72.7 L252.5,72.3 L253.0,71.8 L253.5,71.3 L254.0,70.8 L254.5,70.3 L255.0,69.8 L255.5,69.3 L256.0,68.8 L256.5,68.3 L257.0,67.8 L257.5,67.4 L258.0,66.9 L258.5,66.5 L259.0,66.0 L259.5,65.6 L260.0,65.3 L260.5,64.9 L261.0,64.6 L261.5,64.2 L262.0,64.0 L262.5,63.7 L263.0,63.5 L263.5,63.3 L264.0,63.2 L264.5,63.1 L265.0,63.0 L265.5,63.0 L266.0,63.1 L266.5,63.2 L267.0,63.4 L267.5,63.6 L268.0,63.9 L268.5,64.2 L269.0,64.5 L269.5,64.8 L270.0,65.2 L270.5,65.5 L271.0,65.9 L271.5,66.3 L272.0,66.7 L272.5,67.2 L273.0,67.7 L273.5,68.2 L274.0,68.8 L274.5,69.4 L275.0,70.1 L275.5,70.7 L276.0,71.4 L276.0,71.4 L275.5,73.7 L275.0,75.9 L274.5,78.0 L274.0,80.1 L273.5,82.2 L273.0,84.2 L272.5,86.4 L272.0,88.5 L271.5,90.6 L271.0,92.7 L270.5,94.7 L270.0,96.6 L269.5,98.5 L269.0,100.2 L268.5,101.7 L268.0,103.1 L267.5,104.3 L267.0,105.4 L266.5,106.3 L266.0,107.2 L265.5,108.1 L265.0,109.0 L264.5,109.9 L264.0,110.7 L263.5,111.5 L263.0,112.3 L262.5,113.1 L262.0,113.8 L261.5,114.6 L261.0,115.3 L260.5,116.0 L260.0,116.6 L259.5,117.3 L259.0,117.9 L258.5,118.5 L258.0,119.1 L257.5,119.6 L257.0,120.2 L256.5,120.7 L256.0,121.2 L255.5,121.6 L255.0,122.1 L254.5,122.5 L254.0,122.9 L253.5,123.3 L253.0,123.6 L252.5,124.0 L252.0,124.3 L251.5,124.6 L251.0,124.8 L250.5,125.1 L250.0,125.3 L249.0,125.7 L247.5,126.3 L246.0,126.8 L244.5,127.2 L243.0,127.3 L241.5,127.2 L240.0,126.7 L238.5,126.1 L237.0,125.4 L235.5,124.6 L234.0,123.8 L232.5,123.1 L231.0,122.4 L229.5,121.6 L228.0,120.8 L226.5,120.0 L225.0,119.2 L223.5,118.6 L222.0,118.3 L220.5,118.1 L219.0,117.9 L217.5,117.7 L216.0,117.5 L214.5,117.3 L213.0,117.2 L211.5,117.0 L210.0,116.9 L208.5,116.8 L207.0,116.7 L205.5,116.6 L204.0,116.6 L202.5,116.5 L201.0,116.5 L199.5,116.5 L198.0,116.5 L196.5,116.5 L195.0,116.5 L193.5,116.6 L192.0,116.6 L190.5,116.6 L189.0,116.7 L187.5,116.7 L186.0,116.8 L184.5,116.8 L183.0,116.9 L181.5,116.9 L180.0,117.0 L178.5,117.1 L177.0,117.2 L175.5,117.2 L174.0,117.3 L172.5,117.4 L171.0,117.5 L169.5,117.6 L168.0,117.7 L166.5,117.7 L165.0,117.8 L163.5,117.9 L162.0,118.0 L160.5,118.1 L159.0,118.2 L157.5,118.3 L156.0,118.4 L154.5,118.5 L153.0,118.6 L151.5,118.7 L150.0,118.8 L148.5,118.8 L147.0,118.9 L145.5,119.0 L144.0,119.1 L142.5,119.2 L141.0,119.3 L139.5,119.3 L138.0,119.4 L136.5,119.5 L135.0,119.6 L133.5,119.6 L132.0,119.7 L130.5,119.8 L129.0,119.9 L127.5,120.0 L126.0,120.0 L124.5,120.1 L123.0,120.2 L121.5,120.3 L120.0,120.4 L118.5,120.4 L117.0,120.5 L115.5,120.6 L114.0,120.6 L112.5,120.7 L111.0,120.8 L109.5,120.8 L108.0,120.9 L106.5,120.9 L105.0,121.0 L103.5,121.0 L102.0,121.1 L100.5,121.1 L99.0,121.2 L97.5,121.2 L96.0,121.3 L94.5,121.3 L93.0,121.4 L91.5,121.4 L90.0,121.5 L88.5,121.5 L87.0,121.6 L85.5,121.6 L84.0,121.7 L82.5,121.7 L81.0,121.8 L79.5,121.8 L78.0,121.8 L76.5,121.9 L75.0,121.9 L73.5,122.0 L72.0,122.0 L70.5,122.0 L69.0,122.1 L67.5,122.1 L66.0,122.1 L64.5,122.2 L63.0,122.2 L61.5,122.2 L60.0,122.3 L59.5,122.3 L59.0,122.3 L58.5,122.3 L58.0,122.3 L57.5,122.3 L57.0,122.3 L56.5,122.3 L56.0,122.3 L55.5,122.4 L55.0,122.4 L54.5,122.4 L54.0,122.4 L53.5,122.4 L53.0,122.4 L52.5,122.4 L52.0,122.4 L51.5,122.4 L51.0,122.4 L50.5,122.4 L50.0,122.4 L49.5,122.4 L49.0,122.5 L48.5,122.5 L48.0,122.5 L47.5,122.5 L47.0,122.5 L46.5,122.5 L46.0,122.5 L45.5,122.5 L45.0,122.5 L44.5,122.5" stroke="#000080" stroke-width="1.80"/>
<path d="M44.5,127.0 L45.0,125.6 L45.5,124.3 L46.0,123.3 L46.5,122.4 L47.0,121.6 L47.5,121.0 L48.0,120.4 L48.5,119.8 L49.0,119.3 L49.5,118.9 L50.0,118.5 L50.5,118.1 L51.0,117.8 L51.5,117.5 L52.0,117.2 L52.5,116.9 L53.0,116.6 L53.5,116.3 L54.0,116.1 L54.5,115.8 L55.0,115.6 L55.5,115.4 L56.0,115.2 L56.5,114.9 L57.0,114.7 L57.5,114.5 L58.0,114.3 L58.5,114.1 L59.0,113.9 L59.5,113.8 L60.0,113.6 L61.5,113.0 L63.0,112.5 L64.5,112.1 L66.0,111.6 L67.5,111.2 L69.0,110.8 L70.5,110.4 L72.0,110.0 L73.5,109.6 L75.0,109.3 L76.5,108.9 L78.0,108.6 L79.5,108.3 L81.0,108.0 L82.5,107.7 L84.0,107.4 L85.5,107.1 L87.0,106.8 L88.5,106.5 L90.0,106.2 L91.5,105.9 L93.0,105.7 L94.5,105.4 L96.0,105.1 L97.5,104.9 L99.0,104.6 L100.5,104.3 L102.0,104.1 L103.5,103.8 L105.0,103.6 L106.5,103.3 L108.0,103.1 L109.5,102.8 L111.0,102.6 L112.5,102.3 L114.0,102.0 L115.5,101.7 L117.0,101.5 L118.5,101.2 L120.0,100.9 L121.5,100.6 L123.0,100.3 L124.5,100.0 L126.0,99.7 L127.5,99.4 L129.0,99.2 L130.5,98.9 L132.0,98.6 L133.5,98.3 L135.0,98.0 L136.5,97.8 L138.0,97.5 L139.5,97.2 L141.0,97.0 L142.5,96.7 L144.0,96.4 L145.5,96.2 L147.0,95.9 L148.5,95.7 L150.0,95.4 L151.5,95.2 L153.0,94.9 L154.5,94.7 L156.0,94.4 L157.5,94.2 L159.0,93.9 L160.5,93.7 L162.0,93.4 L163.5,93.2 L165.0,92.9 L166.5,92.7 L168.0,92.4 L169.5,92.1 L171.0,91.9 L172.5,91.6 L174.0,91.4 L175.5,91.1 L177.0,90.9 L178.5,90.6 L180.0,90.4 L181.5,90.1 L183.0,89.9 L184.5,89.7 L186.0,89.5 L187.5,89.3 L189.0,89.1 L190.5,88.9 L192.0,88.8 L193.5,88.7 L195.0,88.5 L196.5,88.4 L198.0,88.3 L199.5,88.2 L201.0,88.1 L202.5,88.0 L204.0,87.9 L205.5,87.8 L207.0,87.8 L208.5,87.7 L210.0,87.6 L211.5,87.5 L213.0,87.3 L214.5,87.2 L216.0,87.1 L217.5,86.9 L219.0,86.8 L220.5,86.6 L222.0,86.4 L223.5,86.1 L225.0,85.8 L226.5,85.3 L228.0,84.8 L229.5,84.1 L231.0,83.4 L232.5,82.6 L234.0,81.8 L235.5,80.9 L237.0,80.0 L238.5,79.0 L240.0,77.9 L241.5,76.7 L243.0,75.4 L244.5,74.0 L246.0,72.4 L247.5,70.8 L249.0,69.2 L250.0,68.0 L250.5,67.4 L251.0,66.7 L251.5,66.0 L252.0,65.3 L252.5,64.5 L253.0,63.7 L253.5,62.8 L254.0,62.0 L254.5,61.2 L255.0,60.4 L255.5,59.6 L256.0,58.8 L256.5,58.0 L257.0,57.3 L257.5,56.6 L258.0,56.0 L258.5,55.4 L259.0,54.8 L259.5,54.1 L260.0,53.5 L260.5,52.9 L261.0,52.2 L261.5,51.6 L262.0,50.9 L262.5,50.3 L263.0,49.7 L263.5,49.1 L264.0,48.5 L264.5,48.0 L265.0,47.5 L265.5,47.0 L266.0,46.6 L266.5,46.2 L267.0,45.8 L267.5,45.5 L268.0,45.3 L268.5,45.1 L269.0,45.0 L269.5,45.0 L270.0,45.1 L270.5,45.2 L271.0,45.5 L271.5,45.8 L272.0,46.2 L272.5,46.7 L273.0,47.3 L273.5,48.0 L274.0,48.7 L274.5,49.4 L275.0,50.3 L275.5,51.1 L276.0,52.0 L276.0,52.0 L275.5,54.5 L275.0,57.1 L274.5,59.5 L274.0,62.0 L273.5,64.4 L273.0,66.7 L272.5,69.1 L272.0,71.3 L271.5,73.6 L271.0,75.8 L270.5,77.9 L270.0,80.0 L269.5,82.0 L269.0,84.0 L268.5,86.0 L268.0,88.0 L267.5,89.9 L267.0,91.8 L266.5,93.7 L266.0,95.5 L265.5,97.3 L265.0,99.0 L264.5,100.7 L264.0,102.3 L263.5,103.9 L263.0,105.5 L262.5,107.0 L262.0,108.6 L261.5,110.1 L261.0,111.7 L260.5,113.3 L260.0,114.8 L259.5,116.4 L259.0,117.9 L258.5,119.3 L258.0,120.7 L257.5,122.1 L257.0,123.4 L256.5,124.6 L256.0,125.7 L255.5,126.8 L255.0,127.7 L254.5,128.5 L254.0,129.3 L253.5,129.8 L253.0,130.3 L252.5,130.8 L252.0,131.1 L251.5,131.5 L251.0,131.8 L250.5,132.1 L250.0,132.4 L249.0,132.9 L247.5,133.7 L246.0,134.5 L244.5,135.4 L243.0,136.2 L241.5,136.7 L240.0,136.8 L238.5,136.4 L237.0,135.7 L235.5,134.8 L234.0,133.6 L232.5,132.4 L231.0,131.2 L229.5,130.1 L228.0,129.0 L226.5,127.8 L225.0,126.5 L223.5,125.3 L222.0,124.3 L220.5,123.4 L219.0,122.9 L217.5,122.5 L216.0,122.2 L214.5,121.8 L213.0,121.5 L211.5,121.2 L210.0,120.9 L208.5,120.7 L207.0,120.5 L205.5,120.3 L204.0,120.2 L202.5,120.1 L201.0,120.0 L199.5,120.0 L198.0,120.0 L196.5,120.0 L195.0,120.0 L193.5,120.1 L192.0,120.1 L190.5,120.1 L189.0,120.1 L187.5,120.2 L186.0,120.2 L184.5,120.3 L183.0,120.3 L181.5,120.4 L180.0,120.4 L178.5,120.5 L177.0,120.6 L175.5,120.6 L174.0,120.7 L172.5,120.8 L171.0,120.8 L169.5,120.9 L168.0,121.0 L166.5,121.1 L165.0,121.1 L163.5,121.2 L162.0,121.3 L160.5,121.4 L159.0,121.5 L157.5,121.6 L156.0,121.6 L154.5,121.7 L153.0,121.8 L151.5,121.9 L150.0,122.0 L148.5,122.1 L147.0,122.1 L145.5,122.2 L144.0,122.3 L142.5,122.4 L141.0,122.5 L139.5,122.5 L138.0,122.6 L136.5,122.7 L135.0,122.8 L133.5,122.8 L132.0,122.9 L130.5,123.0 L129.0,123.1 L127.5,123.2 L126.0,123.3 L124.5,123.4 L123.0,123.5 L121.5,123.6 L120.0,123.6 L118.5,123.7 L117.0,123.8 L115.5,123.9 L114.0,124.0 L112.5,124.1 L111.0,124.1 L109.5,124.2 L108.0,124.3 L106.5,124.4 L105.0,124.4 L103.5,124.5 L102.0,124.6 L100.5,124.7 L99.0,124.7 L97.5,124.8 L96.0,124.9 L94.5,125.0 L93.0,125.0 L91.5,125.1 L90.0,125.2 L88.5,125.2 L87.0,125.3 L85.5,125.4 L84.0,125.4 L82.5,125.5 L81.0,125.6 L79.5,125.6 L78.0,125.7 L76.5,125.8 L75.0,125.8 L73.5,125.9 L72.0,126.0 L70.5,126.0 L69.0,126.1 L67.5,126.1 L66.0,126.2 L64.5,126.3 L63.0,126.3 L61.5,126.4 L60.0,126.4 L59.5,126.5 L59.0,126.5 L58.5,126.5 L58.0,126.5 L57.5,126.5 L57.0,126.6 L56.5,126.6 L56.0,126.6 L55.5,126.6 L55.0,126.6 L54.5,126.6 L54.0,126.7 L53.5,126.7 L53.0,126.7 L52.5,126.7 L52.0,126.7 L51.5,126.8 L51.0,126.8 L50.5,126.8 L50.0,126.8 L49.5,126.8 L49.0,126.8 L48.5,126.9 L48.0,126.9 L47.5,126.9 L47.0,126.9 L46.5,126.9 L46.0,126.9 L45.5,127.0 L45.0,127.0 L44.5,127.0" stroke="#8000ff" stroke-width="1.80"/>
<path d="M44.5,131.0 L45.0,129.3 L45.5,127.8 L46.0,126.6 L46.5,125.5 L47.0,124.6 L47.5,123.7 L48.0,123.0 L48.5,122.4 L49.0,121.8 L49.5,121.3 L50.0,120.8 L50.5,120.4 L51.0,120.0 L51.5,119.6 L52.0,119.2 L52.5,118.9 L53.0,118.6 L53.5,118.3 L54.0,118.0 L54.5,117.7 L55.0,117.4 L55.5,117.2 L56.0,116.9 L56.5,116.6 L57.0,116.4 L57.5,116.2 L58.0,115.9 L58.5,115.7 L59.0,115.5 L59.5,115.3 L60.0,115.0 L61.5,114.4 L63.0,113.8 L64.5,113.3 L66.0,112.7 L67.5,112.2 L69.0,111.7 L70.5,111.3 L72.0,110.8 L73.5,110.4 L75.0,109.9 L76.5,109.5 L78.0,109.1 L79.5,108.7 L81.0,108.4 L82.5,108.0 L84.0,107.6 L85.5,107.3 L87.0,106.9 L88.5,106.6 L90.0,106.3 L91.5,105.9 L93.0,105.6 L94.5,105.3 L96.0,105.0 L97.5,104.7 L99.0,104.3 L100.5,104.0 L102.0,103.7 L103.5,103.4 L105.0,103.1 L106.5,102.8 L108.0,102.6 L109.5,102.3 L111.0,102.0 L112.5,101.7 L114.0,101.3 L115.5,101.0 L117.0,100.7 L118.5,100.3 L120.0,100.0 L121.5,99.6 L123.0,99.3 L124.5,98.9 L126.0,98.6 L127.5,98.2 L129.0,97.9 L130.5,97.5 L132.0,97.2 L133.5,96.9 L135.0,96.5 L136.5,96.2 L138.0,95.9 L139.5,95.6 L141.0,95.3 L142.5,95.0 L144.0,94.7 L145.5,94.4 L147.0,94.1 L148.5,93.9 L150.0,93.6 L151.5,93.3 L153.0,93.0 L154.5,92.7 L156.0,92.4 L157.5,92.1 L159.0,91.8 L160.5,91.5 L162.0,91.2 L163.5,90.9 L165.0,90.6 L166.5,90.3 L168.0,89.9 L169.5,89.6 L171.0,89.2 L172.5,88.8 L174.0,88.5 L175.5,88.1 L177.0,87.8 L178.5,87.4 L180.0,87.1 L181.5,86.8 L183.0,86.4 L184.5,86.1 L186.0,85.9 L187.5,85.6 L189.0,85.4 L190.5,85.1 L192.0,84.9 L193.5,84.8 L195.0,84.6 L196.5,84.4 L198.0,84.3 L199.5,84.2 L201.0,84.1 L202.5,83.9 L204.0,83.8 L205.5,83.7 L207.0,83.6 L208.5,83.5 L210.0,83.4 L211.5,83.2 L213.0,83.1 L214.5,82.9 L216.0,82.8 L217.5,82.6 L219.0,82.4 L220.5,82.1 L222.0,81.9 L223.5,81.6 L225.0,81.2 L226.5,80.7 L228.0,80.1 L229.5,79.3 L231.0,78.6 L232.5,77.7 L234.0,76.8 L235.5,75.9 L237.0,75.0 L238.5,74.0 L240.0,73.0 L241.5,71.9 L243.0,70.8 L244.5,69.5 L246.0,68.1 L247.5,66.7 L249.0,65.1 L250.0,64.0 L250.5,63.4 L251.0,62.8 L251.5,62.1 L252.0,61.4 L252.5,60.7 L253.0,59.9 L253.5,59.1 L254.0,58.3 L254.5,57.5 L255.0,56.6 L255.5,55.8 L256.0,54.9 L256.5,54.0 L257.0,53.1 L257.5,52.2 L258.0,51.2 L258.5,50.2 L259.0,49.1 L259.5,48.0 L260.0,46.8 L260.5,45.6 L261.0,44.4 L261.5,43.1 L262.0,41.9 L262.5,40.8 L263.0,39.6 L263.5,38.6 L264.0,37.6 L264.5,36.8 L265.0,36.0 L265.5,35.3 L266.0,34.6 L266.5,33.9 L267.0,33.2 L267.5,32.5 L268.0,31.9 L268.5,31.3 L269.0,30.8 L269.5,30.4 L270.0,30.1 L270.5,29.9 L271.0,29.8 L271.5,29.8 L272.0,30.0 L272.5,30.2 L273.0,30.5 L273.5,30.8 L274.0,31.3 L274.5,31.8 L275.0,32.5 L275.5,33.2 L276.0,34.0 L276.0,34.0 L275.5,39.6 L275.0,45.0 L274.5,49.9 L274.0,54.0 L273.5,57.2 L273.0,60.1 L272.5,62.7 L272.0,65.1 L271.5,67.3 L271.0,69.3 L270.5,71.2 L270.0,73.1 L269.5,74.9 L269.0,76.8 L268.5,78.6 L268.0,80.6 L267.5,82.6 L267.0,84.5 L266.5,86.5 L266.0,88.4 L265.5,90.4 L265.0,92.2 L264.5,94.1 L264.0,95.9 L263.5,97.7 L263.0,99.5 L262.5,101.2 L262.0,102.8 L261.5,104.4 L261.0,105.9 L260.5,107.4 L260.0,108.9 L259.5,110.3 L259.0,111.8 L258.5,113.2 L258.0,114.6 L257.5,115.9 L257.0,117.3 L256.5,118.6 L256.0,119.9 L255.5,121.1 L255.0,122.3 L254.5,123.5 L254.0,124.7 L253.5,125.8 L253.0,126.9 L252.5,128.0 L252.0,129.0 L251.5,130.0 L251.0,130.9 L250.5,131.9 L250.0,132.9 L249.0,134.7 L247.5,137.3 L246.0,139.3 L244.5,140.7 L243.0,141.9 L241.5,142.9 L240.0,143.7 L238.5,144.1 L237.0,144.0 L235.5,143.3 L234.0,142.3 L232.5,141.0 L231.0,139.5 L229.5,138.0 L228.0,136.5 L226.5,135.2 L225.0,133.8 L223.5,132.3 L222.0,130.8 L220.5,129.3 L219.0,128.1 L217.5,127.2 L216.0,126.6 L214.5,126.0 L213.0,125.5 L211.5,125.0 L210.0,124.6 L208.5,124.2 L207.0,123.8 L205.5,123.5 L204.0,123.3 L202.5,123.1 L201.0,123.0 L199.5,123.0 L198.0,123.0 L196.5,123.0 L195.0,123.0 L193.5,123.0 L192.0,123.0 L190.5,123.1 L189.0,123.1 L187.5,123.1 L186.0,123.1 L184.5,123.1 L183.0,123.2 L181.5,123.2 L180.0,123.2 L178.5,123.2 L177.0,123.3 L175.5,123.3 L174.0,123.3 L172.5,123.4 L171.0,123.4 L169.5,123.5 L168.0,123.5 L166.5,123.6 L165.0,123.6 L163.5,123.6 L162.0,123.7 L160.5,123.7 L159.0,123.8 L157.5,123.8 L156.0,123.9 L154.5,124.0 L153.0,124.0 L151.5,124.1 L150.0,124.1 L148.5,124.2 L147.0,124.2 L145.5,124.3 L144.0,124.3 L142.5,124.4 L141.0,124.5 L139.5,124.5 L138.0,124.6 L136.5,124.7 L135.0,124.8 L133.5,124.8 L132.0,124.9 L130.5,125.1 L129.0,125.2 L127.5,125.3 L126.0,125.4 L124.5,125.5 L123.0,125.7 L121.5,125.8 L120.0,125.9 L118.5,126.0 L117.0,126.2 L115.5,126.3 L114.0,126.4 L112.5,126.5 L111.0,126.6 L109.5,126.7 L108.0,126.8 L106.5,126.9 L105.0,127.0 L103.5,127.2 L102.0,127.3 L100.5,127.4 L99.0,127.5 L97.5,127.6 L96.0,127.7 L94.5,127.8 L93.0,127.9 L91.5,128.0 L90.0,128.1 L88.5,128.2 L87.0,128.3 L85.5,128.4 L84.0,128.5 L82.5,128.6 L81.0,128.7 L79.5,128.8 L78.0,128.9 L76.5,129.0 L75.0,129.1 L73.5,129.2 L72.0,129.3 L70.5,129.4 L69.0,129.5 L67.5,129.6 L66.0,129.7 L64.5,129.8 L63.0,129.9 L61.5,129.9 L60.0,130.0 L59.5,130.1 L59.0,130.1 L58.5,130.1 L58.0,130.2 L57.5,130.2 L57.0,130.2 L56.5,130.3 L56.0,130.3 L55.5,130.3 L55.0,130.4 L54.5,130.4 L54.0,130.4 L53.5,130.4 L53.0,130.5 L52.5,130.5 L52.0,130.5 L51.5,130.6 L51.0,130.6 L50.5,130.6 L50.0,130.7 L49.5,130.7 L49.0,130.7 L48.5,130.8 L48.0,130.8 L47.5,130.8 L47.0,130.8 L46.5,130.9 L46.0,130.9 L45.5,130.9 L45.0,131.0 L44.5,131.0" stroke="#800080" stroke-width="1.80"/>
<path d="M44.5,135.3 L45.0,133.3 L45.5,131.6 L46.0,130.2 L46.5,129.0 L47.0,127.9 L47.5,126.9 L48.0,126.1 L48.5,125.4 L49.0,124.7 L49.5,124.1 L50.0,123.6 L50.5,123.1 L51.0,122.6 L51.5,122.2 L52.0,121.8 L52.5,121.4 L53.0,121.1 L53.5,120.7 L54.0,120.4 L54.5,120.1 L55.0,119.8 L55.5,119.5 L56.0,119.2 L56.5,118.9 L57.0,118.6 L57.5,118.4 L58.0,118.1 L58.5,117.9 L59.0,117.6 L59.5,117.4 L60.0,117.1 L61.5,116.4 L63.0,115.8 L64.5,115.1 L66.0,114.5 L67.5,113.9 L69.0,113.3 L70.5,112.8 L72.0,112.2 L73.5,111.7 L75.0,111.2 L76.5,110.7 L78.0,110.3 L79.5,109.8 L81.0,109.3 L82.5,108.9 L84.0,108.5 L85.5,108.0 L87.0,107.6 L88.5,107.2 L90.0,106.8 L91.5,106.4 L93.0,106.0 L94.5,105.6 L96.0,105.2 L97.5,104.8 L99.0,104.5 L100.5,104.1 L102.0,103.7 L103.5,103.4 L105.0,103.0 L106.5,102.6 L108.0,102.3 L109.5,101.9 L111.0,101.6 L112.5,101.2 L114.0,100.8 L115.5,100.4 L117.0,100.0 L118.5,99.6 L120.0,99.1 L121.5,98.7 L123.0,98.2 L124.5,97.7 L126.0,97.3 L127.5,96.8 L129.0,96.4 L130.5,95.9 L132.0,95.4 L133.5,95.0 L135.0,94.5 L136.5,94.1 L138.0,93.7 L139.5,93.2 L141.0,92.8 L142.5,92.4 L144.0,91.9 L145.5,91.5 L147.0,91.0 L148.5,90.6 L150.0,90.2 L151.5,89.7 L153.0,89.3 L154.5,88.9 L156.0,88.5 L157.5,88.1 L159.0,87.6 L160.5,87.3 L162.0,86.9 L163.5,86.5 L165.0,86.1 L166.5,85.8 L168.0,85.4 L169.5,85.0 L171.0,84.7 L172.5,84.3 L174.0,83.9 L175.5,83.6 L177.0,83.3 L178.5,82.9 L180.0,82.6 L181.5,82.3 L183.0,82.0 L184.5,81.6 L186.0,81.4 L187.5,81.1 L189.0,80.8 L190.5,80.5 L192.0,80.3 L193.5,80.1 L195.0,79.9 L196.5,79.7 L198.0,79.5 L199.5,79.3 L201.0,79.1 L202.5,79.0 L204.0,78.8 L205.5,78.7 L207.0,78.5 L208.5,78.3 L210.0,78.2 L211.5,78.0 L213.0,77.8 L214.5,77.6 L216.0,77.4 L217.5,77.1 L219.0,76.8 L220.5,76.5 L222.0,76.2 L223.5,75.9 L225.0,75.4 L226.5,74.9 L228.0,74.3 L229.5,73.5 L231.0,72.8 L232.5,71.9 L234.0,71.1 L235.5,70.2 L237.0,69.3 L238.5,68.4 L240.0,67.5 L241.5,66.6 L243.0,65.5 L244.5,64.4 L246.0,63.2 L247.5,61.8 L249.0,60.2 L250.0,59.0 L250.5,58.3 L251.0,57.5 L251.5,56.5 L252.0,55.5 L252.5,54.4 L253.0,53.2 L253.5,51.9 L254.0,50.6 L254.5,49.3 L255.0,48.0 L255.5,46.6 L256.0,45.4 L256.5,44.1 L257.0,42.9 L257.5,41.8 L258.0,40.8 L258.5,39.8 L259.0,38.8 L259.5,37.8 L260.0,36.8 L260.5,35.8 L261.0,34.8 L261.5,33.8 L262.0,32.8 L262.5,31.9 L263.0,30.9 L263.5,30.0 L264.0,29.2 L264.5,28.3 L265.0,27.5 L265.5,26.7 L266.0,25.9 L266.5,25.2 L267.0,24.6 L267.5,24.0 L268.0,23.4 L268.5,22.8 L269.0,22.2 L269.5,21.6 L270.0,21.1 L270.5,20.5 L271.0,20.0 L271.5,19.5 L272.0,19.0 L272.5,18.6 L273.0,18.1 L273.5,17.7 L274.0,17.3 L274.5,16.9 L275.0,16.6 L275.5,16.3 L276.0,16.0 L276.0,16.0 L275.5,28.5 L275.0,35.8 L274.5,41.7 L274.0,46.6 L273.5,50.6 L273.0,54.1 L272.5,57.2 L272.0,60.1 L271.5,62.7 L271.0,65.0 L270.5,67.2 L270.0,69.3 L269.5,71.2 L269.0,73.1 L268.5,75.0 L268.0,76.8 L267.5,78.7 L267.0,80.6 L266.5,82.6 L266.0,84.6 L265.5,86.5 L265.0,88.5 L264.5,90.4 L264.0,92.3 L263.5,94.1 L263.0,96.0 L262.5,97.8 L262.0,99.5 L261.5,101.2 L261.0,102.8 L260.5,104.4 L260.0,105.9 L259.5,107.4 L259.0,108.8 L258.5,110.2 L258.0,111.6 L257.5,113.0 L257.0,114.3 L256.5,115.6 L256.0,116.9 L255.5,118.1 L255.0,119.4 L254.5,120.6 L254.0,121.8 L253.5,123.0 L253.0,124.2 L252.5,125.4 L252.0,126.5 L251.5,127.7 L251.0,128.8 L250.5,130.0 L250.0,131.2 L249.0,133.6 L247.5,137.4 L246.0,141.0 L244.5,144.0 L243.0,146.2 L241.5,147.6 L240.0,148.9 L238.5,150.0 L237.0,150.6 L235.5,150.8 L234.0,150.3 L232.5,149.3 L231.0,147.9 L229.5,146.3 L228.0,144.5 L226.5,142.7 L225.0,141.2 L223.5,139.6 L222.0,137.9 L220.5,136.2 L219.0,134.5 L217.5,132.9 L216.0,131.6 L214.5,130.7 L213.0,130.0 L211.5,129.3 L210.0,128.6 L208.5,128.0 L207.0,127.5 L205.5,127.0 L204.0,126.6 L202.5,126.4 L201.0,126.2 L199.5,126.2 L198.0,126.2 L196.5,126.2 L195.0,126.2 L193.5,126.2 L192.0,126.2 L190.5,126.2 L189.0,126.3 L187.5,126.3 L186.0,126.3 L184.5,126.3 L183.0,126.3 L181.5,126.3 L180.0,126.4 L178.5,126.4 L177.0,126.4 L175.5,126.4 L174.0,126.5 L172.5,126.5 L171.0,126.5 L169.5,126.6 L168.0,126.6 L166.5,126.6 L165.0,126.7 L163.5,126.7 L162.0,126.7 L160.5,126.8 L159.0,126.8 L157.5,126.9 L156.0,126.9 L154.5,126.9 L153.0,127.0 L151.5,127.0 L150.0,127.1 L148.5,127.1 L147.0,127.2 L145.5,127.2 L144.0,127.3 L142.5,127.3 L141.0,127.4 L139.5,127.4 L138.0,127.5 L136.5,127.5 L135.0,127.6 L133.5,127.7 L132.0,127.8 L130.5,127.9 L129.0,128.0 L127.5,128.1 L126.0,128.2 L124.5,128.3 L123.0,128.4 L121.5,128.6 L120.0,128.7 L118.5,128.8 L117.0,128.9 L115.5,129.1 L114.0,129.2 L112.5,129.3 L111.0,129.4 L109.5,129.5 L108.0,129.7 L106.5,129.8 L105.0,129.9 L103.5,130.0 L102.0,130.1 L100.5,130.2 L99.0,130.4 L97.5,130.5 L96.0,130.6 L94.5,130.7 L93.0,130.9 L91.5,131.0 L90.0,131.1 L88.5,131.2 L87.0,131.4 L85.5,131.5 L84.0,131.6 L82.5,131.7 L81.0,131.9 L79.5,132.0 L78.0,132.1 L76.5,132.3 L75.0,132.4 L73.5,132.5 L72.0,132.7 L70.5,132.8 L69.0,132.9 L67.5,133.1 L66.0,133.2 L64.5,133.4 L63.0,133.5 L61.5,133.6 L60.0,133.8 L59.5,133.8 L59.0,133.9 L58.5,133.9 L58.0,134.0 L57.5,134.0 L57.0,134.1 L56.5,134.1 L56.0,134.2 L55.5,134.2 L55.0,134.3 L54.5,134.3 L54.0,134.4 L53.5,134.4 L53.0,134.5 L52.5,134.5 L52.0,134.6 L51.5,134.6 L51.0,134.7 L50.5,134.7 L50.0,134.7 L49.5,134.8 L49.0,134.8 L48.5,134.9 L48.0,134.9 L47.5,135.0 L47.0,135.0 L46.5,135.1 L46.0,135.1 L45.5,135.2 L45.0,135.2 L44.5,135.3" stroke="#800000" stroke-width="1.80"/></g>
<rect x="44.0" y="8.3" width="257.0" height="200.7" fill="none" stroke="#000" stroke-width="2"/>
<line x1="54.3" y1="209.0" x2="54.3" y2="211.6" stroke="#000" stroke-width="1.3"/>
<line x1="64.6" y1="209.0" x2="64.6" y2="211.6" stroke="#000" stroke-width="1.3"/>
<line x1="74.8" y1="209.0" x2="74.8" y2="211.6" stroke="#000" stroke-width="1.3"/>
<line x1="85.1" y1="209.0" x2="85.1" y2="211.6" stroke="#000" stroke-width="1.3"/>
<line x1="105.7" y1="209.0" x2="105.7" y2="211.6" stroke="#000" stroke-width="1.3"/>
<line x1="116.0" y1="209.0" x2="116.0" y2="211.6" stroke="#000" stroke-width="1.3"/>
<line x1="126.2" y1="209.0" x2="126.2" y2="211.6" stroke="#000" stroke-width="1.3"/>
<line x1="136.5" y1="209.0" x2="136.5" y2="211.6" stroke="#000" stroke-width="1.3"/>
<line x1="157.1" y1="209.0" x2="157.1" y2="211.6" stroke="#000" stroke-width="1.3"/>
<line x1="167.4" y1="209.0" x2="167.4" y2="211.6" stroke="#000" stroke-width="1.3"/>
<line x1="177.6" y1="209.0" x2="177.6" y2="211.6" stroke="#000" stroke-width="1.3"/>
<line x1="187.9" y1="209.0" x2="187.9" y2="211.6" stroke="#000" stroke-width="1.3"/>
<line x1="208.5" y1="209.0" x2="208.5" y2="211.6" stroke="#000" stroke-width="1.3"/>
<line x1="218.8" y1="209.0" x2="218.8" y2="211.6" stroke="#000" stroke-width="1.3"/>
<line x1="229.0" y1="209.0" x2="229.0" y2="211.6" stroke="#000" stroke-width="1.3"/>
<line x1="239.3" y1="209.0" x2="239.3" y2="211.6" stroke="#000" stroke-width="1.3"/>
<line x1="259.9" y1="209.0" x2="259.9" y2="211.6" stroke="#000" stroke-width="1.3"/>
<line x1="270.2" y1="209.0" x2="270.2" y2="211.6" stroke="#000" stroke-width="1.3"/>
<line x1="280.4" y1="209.0" x2="280.4" y2="211.6" stroke="#000" stroke-width="1.3"/>
<line x1="290.7" y1="209.0" x2="290.7" y2="211.6" stroke="#000" stroke-width="1.3"/>
<line x1="44.0" y1="21.7" x2="41.4" y2="21.7" stroke="#000" stroke-width="1.3"/>
<line x1="44.0" y1="35.1" x2="41.4" y2="35.1" stroke="#000" stroke-width="1.3"/>
<line x1="44.0" y1="48.4" x2="41.4" y2="48.4" stroke="#000" stroke-width="1.3"/>
<line x1="44.0" y1="61.8" x2="41.4" y2="61.8" stroke="#000" stroke-width="1.3"/>
<line x1="44.0" y1="88.6" x2="41.4" y2="88.6" stroke="#000" stroke-width="1.3"/>
<line x1="44.0" y1="102.0" x2="41.4" y2="102.0" stroke="#000" stroke-width="1.3"/>
<line x1="44.0" y1="115.3" x2="41.4" y2="115.3" stroke="#000" stroke-width="1.3"/>
<line x1="44.0" y1="128.7" x2="41.4" y2="128.7" stroke="#000" stroke-width="1.3"/>
<line x1="44.0" y1="155.5" x2="41.4" y2="155.5" stroke="#000" stroke-width="1.3"/>
<line x1="44.0" y1="168.9" x2="41.4" y2="168.9" stroke="#000" stroke-width="1.3"/>
<line x1="44.0" y1="182.2" x2="41.4" y2="182.2" stroke="#000" stroke-width="1.3"/>
<line x1="44.0" y1="195.6" x2="41.4" y2="195.6" stroke="#000" stroke-width="1.3"/>
<line x1="44.0" y1="209.0" x2="44.0" y2="213.5" stroke="#000" stroke-width="1.5"/>
<text x="44.0" y="223.2" class="tk" text-anchor="middle">-0.4</text>
<line x1="95.4" y1="209.0" x2="95.4" y2="213.5" stroke="#000" stroke-width="1.5"/>
<text x="95.4" y="223.2" class="tk" text-anchor="middle">-0.2</text>
<line x1="146.8" y1="209.0" x2="146.8" y2="213.5" stroke="#000" stroke-width="1.5"/>
<text x="146.8" y="223.2" class="tk" text-anchor="middle">0.0</text>
<line x1="198.2" y1="209.0" x2="198.2" y2="213.5" stroke="#000" stroke-width="1.5"/>
<text x="198.2" y="223.2" class="tk" text-anchor="middle">0.2</text>
<line x1="249.6" y1="209.0" x2="249.6" y2="213.5" stroke="#000" stroke-width="1.5"/>
<text x="249.6" y="223.2" class="tk" text-anchor="middle">0.4</text>
<line x1="301.0" y1="209.0" x2="301.0" y2="213.5" stroke="#000" stroke-width="1.5"/>
<text x="301.0" y="223.2" class="tk" text-anchor="middle">0.6</text>
<line x1="44.0" y1="8.3" x2="39.5" y2="8.3" stroke="#000" stroke-width="1.5"/>
<text x="37.4" y="11.1" class="tk" text-anchor="end">0.2</text>
<line x1="44.0" y1="75.2" x2="39.5" y2="75.2" stroke="#000" stroke-width="1.5"/>
<text x="37.4" y="78.0" class="tk" text-anchor="end">0.1</text>
<line x1="44.0" y1="142.1" x2="39.5" y2="142.1" stroke="#000" stroke-width="1.5"/>
<text x="37.4" y="144.9" class="tk" text-anchor="end">-0.0</text>
<line x1="44.0" y1="209.0" x2="39.5" y2="209.0" stroke="#000" stroke-width="1.5"/>
<text x="37.4" y="211.8" class="tk" text-anchor="end">-0.1</text>
<g class="cv"><path d="M353.2,111.8 L353.7,111.4 L354.2,111.1 L354.7,110.9 L355.2,110.6 L355.7,110.4 L356.2,110.2 L356.7,110.0 L357.2,109.8 L357.7,109.7 L358.2,109.5 L358.7,109.4 L359.2,109.3 L359.7,109.2 L360.2,109.0 L360.7,108.9 L361.2,108.8 L361.7,108.7 L362.2,108.6 L362.7,108.5 L363.2,108.4 L363.7,108.3 L364.2,108.2 L364.7,108.2 L365.2,108.1 L365.7,108.0 L366.2,107.9 L366.7,107.8 L367.2,107.8 L367.7,107.7 L368.2,107.6 L368.7,107.5 L369.2,107.5 L369.7,107.4 L370.2,107.3 L370.7,107.3 L371.2,107.2 L371.7,107.2 L372.0,107.1 L374.0,106.9 L376.0,106.7 L378.0,106.5 L380.0,106.3 L382.0,106.2 L384.0,106.0 L386.0,105.9 L388.0,105.8 L390.0,105.7 L392.0,105.6 L394.0,105.5 L396.0,105.4 L398.0,105.3 L400.0,105.3 L402.0,105.2 L404.0,105.2 L406.0,105.2 L408.0,105.1 L410.0,105.1 L412.0,105.1 L414.0,105.0 L416.0,105.0 L418.0,105.0 L420.0,105.0 L422.0,104.9 L424.0,104.9 L426.0,104.8 L428.0,104.8 L430.0,104.7 L432.0,104.7 L434.0,104.6 L436.0,104.6 L438.0,104.5 L440.0,104.5 L442.0,104.4 L444.0,104.3 L446.0,104.3 L448.0,104.2 L450.0,104.2 L452.0,104.2 L454.0,104.1 L456.0,104.1 L458.0,104.1 L460.0,104.1 L462.0,104.1 L464.0,104.0 L466.0,104.0 L468.0,104.0 L470.0,104.0 L472.0,104.0 L474.0,104.0 L476.0,104.0 L478.0,104.0 L480.0,104.0 L482.0,103.9 L484.0,103.9 L486.0,103.9 L488.0,103.8 L490.0,103.8 L492.0,103.7 L494.0,103.7 L496.0,103.6 L498.0,103.6 L500.0,103.5 L502.0,103.4 L504.0,103.4 L506.0,103.3 L508.0,103.3 L510.0,103.2 L512.0,103.2 L514.0,103.1 L516.0,103.1 L518.0,103.0 L520.0,103.0 L522.0,102.9 L524.0,102.9 L526.0,102.8 L528.0,102.8 L530.0,102.7 L532.0,102.7 L534.0,102.7 L536.0,102.6 L538.0,102.6 L540.0,102.5 L540.5,102.5 L541.0,102.5 L541.5,102.5 L542.0,102.5 L542.5,102.5 L543.0,102.5 L543.5,102.4 L544.0,102.4 L544.5,102.4 L545.0,102.4 L545.5,102.4 L546.0,102.4 L546.5,102.4 L547.0,102.4 L547.5,102.4 L548.0,102.4 L548.5,102.3 L549.0,102.3 L549.5,102.3 L550.0,102.3 L550.5,102.3 L551.0,102.3 L551.5,102.3 L552.0,102.3 L552.5,102.3 L553.0,102.3 L553.5,102.3 L554.0,102.2 L554.5,102.2 L555.0,102.2 L555.5,102.2 L556.0,102.2 L556.5,102.2 L557.0,102.2 L557.5,102.2 L558.0,102.2 L558.5,102.2 L559.0,102.2 L559.5,102.1 L560.0,102.1 L560.5,102.1 L561.0,102.1 L561.5,102.1 L562.0,102.1 L562.5,102.1 L563.0,102.1 L563.5,102.1 L564.0,102.1 L564.5,102.1 L565.0,102.1 L565.5,102.1 L566.0,102.0 L566.5,102.0 L567.0,102.0 L567.5,102.0 L568.0,102.0 L568.5,102.0 L569.0,102.0 L569.5,102.0 L570.0,102.0 L570.5,102.0 L571.0,102.0 L571.5,102.0 L572.0,102.0 L572.5,102.0 L573.0,101.9 L573.5,101.9 L574.0,101.9 L574.5,101.9 L575.0,101.9 L575.5,101.9 L576.0,101.9 L576.5,101.9 L577.0,101.9 L577.5,101.9 L578.0,101.9 L578.5,101.9 L579.0,101.9 L579.5,101.9 L580.0,101.9 L580.5,101.9 L581.0,101.8 L581.5,101.8 L582.0,101.8 L582.5,101.8 L583.0,101.8 L583.5,101.8 L584.0,101.8 L584.5,101.8 L585.0,101.8 L585.5,101.8 L585.5,101.8 L585.0,102.0 L584.5,102.2 L584.0,102.5 L583.5,102.7 L583.0,102.9 L582.5,103.1 L582.0,103.3 L581.5,103.5 L581.0,103.7 L580.5,103.9 L580.0,104.1 L579.5,104.3 L579.0,104.5 L578.5,104.7 L578.0,104.9 L577.5,105.1 L577.0,105.3 L576.5,105.4 L576.0,105.6 L575.5,105.8 L575.0,106.0 L574.5,106.2 L574.0,106.4 L573.5,106.6 L573.0,106.8 L572.5,107.0 L572.0,107.2 L571.5,107.4 L571.0,107.6 L570.5,107.8 L570.0,108.0 L569.5,108.2 L569.0,108.4 L568.5,108.6 L568.0,108.7 L567.5,108.9 L567.0,109.0 L566.5,109.2 L566.0,109.3 L565.5,109.4 L565.0,109.5 L564.5,109.6 L564.0,109.7 L563.5,109.7 L563.0,109.8 L562.5,109.9 L562.0,109.9 L561.5,110.0 L561.0,110.0 L560.5,110.1 L560.0,110.1 L559.5,110.2 L559.0,110.2 L558.5,110.3 L558.0,110.3 L557.5,110.4 L557.0,110.4 L556.5,110.5 L556.0,110.5 L555.5,110.6 L555.0,110.6 L554.5,110.6 L554.0,110.7 L553.5,110.7 L553.0,110.8 L552.5,110.9 L552.0,110.9 L551.5,111.0 L551.0,111.0 L550.5,111.1 L550.0,111.2 L549.5,111.3 L549.0,111.3 L548.5,111.4 L548.0,111.5 L547.5,111.5 L547.0,111.6 L546.5,111.7 L546.0,111.7 L545.5,111.8 L545.0,111.9 L544.5,111.9 L544.0,112.0 L543.5,112.0 L543.0,112.1 L542.5,112.1 L542.0,112.1 L541.5,112.2 L541.0,112.2 L540.5,112.2 L540.0,112.2 L538.0,112.2 L536.0,112.2 L534.0,112.2 L532.0,112.2 L530.0,112.2 L528.0,112.2 L526.0,112.2 L524.0,112.2 L522.0,112.2 L520.0,112.2 L518.0,112.2 L516.0,112.2 L514.0,112.2 L512.0,112.1 L510.0,112.1 L508.0,112.1 L506.0,112.1 L504.0,112.1 L502.0,112.1 L500.0,112.1 L498.0,112.1 L496.0,112.1 L494.0,112.1 L492.0,112.1 L490.0,112.1 L488.0,112.1 L486.0,112.1 L484.0,112.1 L482.0,112.1 L480.0,112.1 L478.0,112.1 L476.0,112.1 L474.0,112.1 L472.0,112.1 L470.0,112.1 L468.0,112.0 L466.0,112.0 L464.0,112.0 L462.0,112.0 L460.0,112.0 L458.0,112.0 L456.0,112.0 L454.0,112.0 L452.0,112.0 L450.0,112.0 L448.0,112.0 L446.0,112.0 L444.0,112.0 L442.0,112.0 L440.0,112.0 L438.0,112.0 L436.0,112.0 L434.0,112.0 L432.0,112.0 L430.0,112.0 L428.0,112.0 L426.0,112.0 L424.0,112.0 L422.0,111.9 L420.0,111.9 L418.0,111.9 L416.0,111.9 L414.0,111.9 L412.0,111.9 L410.0,111.9 L408.0,111.9 L406.0,111.9 L404.0,111.9 L402.0,111.9 L400.0,111.9 L398.0,111.9 L396.0,111.9 L394.0,111.9 L392.0,111.9 L390.0,111.9 L388.0,111.9 L386.0,111.9 L384.0,111.9 L382.0,111.9 L380.0,111.9 L378.0,111.9 L376.0,111.8 L374.0,111.8 L372.0,111.8 L371.7,111.8 L371.2,111.8 L370.7,111.8 L370.2,111.8 L369.7,111.8 L369.2,111.8 L368.7,111.8 L368.2,111.8 L367.7,111.8 L367.2,111.8 L366.7,111.8 L366.2,111.8 L365.7,111.8 L365.2,111.8 L364.7,111.8 L364.2,111.8 L363.7,111.8 L363.2,111.8 L362.7,111.8 L362.2,111.8 L361.7,111.8 L361.2,111.8 L360.7,111.8 L360.2,111.8 L359.7,111.8 L359.2,111.8 L358.7,111.8 L358.2,111.8 L357.7,111.8 L357.2,111.8 L356.7,111.8 L356.2,111.8 L355.7,111.8 L355.2,111.8 L354.7,111.8 L354.2,111.8 L353.7,111.8 L353.2,111.8" stroke="#000000" stroke-width="1.80"/>
<path d="M353.2,116.9 L353.7,116.1 L354.2,115.5 L354.7,114.9 L355.2,114.4 L355.7,114.0 L356.2,113.6 L356.7,113.2 L357.2,112.9 L357.7,112.6 L358.2,112.3 L358.7,112.1 L359.2,111.9 L359.7,111.7 L360.2,111.5 L360.7,111.3 L361.2,111.1 L361.7,110.9 L362.2,110.7 L362.7,110.6 L363.2,110.4 L363.7,110.3 L364.2,110.1 L364.7,110.0 L365.2,109.9 L365.7,109.7 L366.2,109.6 L366.7,109.5 L367.2,109.4 L367.7,109.2 L368.2,109.1 L368.7,109.0 L369.2,108.9 L369.7,108.8 L370.2,108.7 L370.7,108.6 L371.2,108.5 L371.7,108.4 L372.0,108.3 L374.0,107.9 L376.0,107.6 L378.0,107.2 L380.0,106.9 L382.0,106.6 L384.0,106.4 L386.0,106.1 L388.0,105.9 L390.0,105.6 L392.0,105.4 L394.0,105.2 L396.0,105.0 L398.0,104.8 L400.0,104.6 L402.0,104.4 L404.0,104.2 L406.0,104.1 L408.0,103.9 L410.0,103.7 L412.0,103.6 L414.0,103.4 L416.0,103.3 L418.0,103.1 L420.0,103.0 L422.0,102.8 L424.0,102.7 L426.0,102.5 L428.0,102.4 L430.0,102.2 L432.0,102.0 L434.0,101.9 L436.0,101.7 L438.0,101.6 L440.0,101.4 L442.0,101.3 L444.0,101.1 L446.0,101.0 L448.0,100.9 L450.0,100.7 L452.0,100.6 L454.0,100.5 L456.0,100.4 L458.0,100.3 L460.0,100.3 L462.0,100.2 L464.0,100.1 L466.0,100.1 L468.0,100.0 L470.0,99.9 L472.0,99.9 L474.0,99.8 L476.0,99.8 L478.0,99.7 L480.0,99.7 L482.0,99.6 L484.0,99.5 L486.0,99.5 L488.0,99.4 L490.0,99.4 L492.0,99.3 L494.0,99.3 L496.0,99.2 L498.0,99.2 L500.0,99.1 L502.0,99.0 L504.0,99.0 L506.0,98.9 L508.0,98.9 L510.0,98.8 L512.0,98.7 L514.0,98.7 L516.0,98.6 L518.0,98.5 L520.0,98.5 L522.0,98.4 L524.0,98.3 L526.0,98.3 L528.0,98.2 L530.0,98.1 L532.0,98.0 L534.0,98.0 L536.0,97.9 L538.0,97.8 L540.0,97.7 L540.5,97.7 L541.0,97.7 L541.5,97.7 L542.0,97.7 L542.5,97.6 L543.0,97.6 L543.5,97.6 L544.0,97.6 L544.5,97.6 L545.0,97.5 L545.5,97.5 L546.0,97.5 L546.5,97.5 L547.0,97.5 L547.5,97.4 L548.0,97.4 L548.5,97.4 L549.0,97.4 L549.5,97.4 L550.0,97.3 L550.5,97.3 L551.0,97.3 L551.5,97.3 L552.0,97.3 L552.5,97.2 L553.0,97.2 L553.5,97.2 L554.0,97.2 L554.5,97.2 L555.0,97.1 L555.5,97.1 L556.0,97.1 L556.5,97.1 L557.0,97.1 L557.5,97.0 L558.0,97.0 L558.5,97.0 L559.0,97.0 L559.5,97.0 L560.0,96.9 L560.5,96.9 L561.0,96.9 L561.5,96.9 L562.0,96.9 L562.5,96.8 L563.0,96.8 L563.5,96.8 L564.0,96.8 L564.5,96.7 L565.0,96.7 L565.5,96.7 L566.0,96.7 L566.5,96.6 L567.0,96.6 L567.5,96.6 L568.0,96.6 L568.5,96.5 L569.0,96.5 L569.5,96.5 L570.0,96.4 L570.5,96.4 L571.0,96.4 L571.5,96.3 L572.0,96.3 L572.5,96.3 L573.0,96.2 L573.5,96.2 L574.0,96.1 L574.5,96.1 L575.0,96.1 L575.5,96.0 L576.0,96.0 L576.5,95.9 L577.0,95.9 L577.5,95.8 L578.0,95.8 L578.5,95.7 L579.0,95.7 L579.5,95.6 L580.0,95.6 L580.5,95.5 L581.0,95.5 L581.5,95.4 L582.0,95.4 L582.5,95.3 L583.0,95.3 L583.5,95.2 L584.0,95.2 L584.5,95.1 L585.0,95.1 L585.5,95.0 L585.5,95.0 L585.0,96.5 L584.5,97.9 L584.0,99.1 L583.5,100.0 L583.0,100.7 L582.5,101.4 L582.0,102.0 L581.5,102.5 L581.0,103.0 L580.5,103.4 L580.0,103.8 L579.5,104.2 L579.0,104.5 L578.5,104.8 L578.0,105.1 L577.5,105.3 L577.0,105.6 L576.5,105.8 L576.0,106.0 L575.5,106.3 L575.0,106.5 L574.5,106.6 L574.0,106.8 L573.5,107.0 L573.0,107.2 L572.5,107.3 L572.0,107.5 L571.5,107.7 L571.0,107.8 L570.5,108.0 L570.0,108.1 L569.5,108.3 L569.0,108.4 L568.5,108.5 L568.0,108.7 L567.5,108.8 L567.0,108.9 L566.5,109.0 L566.0,109.1 L565.5,109.3 L565.0,109.4 L564.5,109.5 L564.0,109.6 L563.5,109.7 L563.0,109.8 L562.5,109.9 L562.0,110.0 L561.5,110.1 L561.0,110.2 L560.5,110.3 L560.0,110.4 L559.5,110.4 L559.0,110.5 L558.5,110.6 L558.0,110.7 L557.5,110.8 L557.0,110.8 L556.5,110.9 L556.0,111.0 L555.5,111.1 L555.0,111.2 L554.5,111.2 L554.0,111.3 L553.5,111.4 L553.0,111.5 L552.5,111.6 L552.0,111.7 L551.5,111.8 L551.0,111.9 L550.5,112.1 L550.0,112.2 L549.5,112.3 L549.0,112.4 L548.5,112.6 L548.0,112.7 L547.5,112.8 L547.0,113.0 L546.5,113.1 L546.0,113.2 L545.5,113.3 L545.0,113.5 L544.5,113.6 L544.0,113.7 L543.5,113.8 L543.0,113.9 L542.5,114.0 L542.0,114.0 L541.5,114.1 L541.0,114.1 L540.5,114.2 L540.0,114.2 L538.0,114.3 L536.0,114.3 L534.0,114.4 L532.0,114.4 L530.0,114.5 L528.0,114.5 L526.0,114.5 L524.0,114.6 L522.0,114.6 L520.0,114.6 L518.0,114.6 L516.0,114.6 L514.0,114.7 L512.0,114.7 L510.0,114.7 L508.0,114.7 L506.0,114.7 L504.0,114.8 L502.0,114.8 L500.0,114.8 L498.0,114.8 L496.0,114.8 L494.0,114.9 L492.0,114.9 L490.0,114.9 L488.0,115.0 L486.0,115.0 L484.0,115.0 L482.0,115.0 L480.0,115.1 L478.0,115.1 L476.0,115.1 L474.0,115.2 L472.0,115.2 L470.0,115.2 L468.0,115.2 L466.0,115.3 L464.0,115.3 L462.0,115.3 L460.0,115.4 L458.0,115.4 L456.0,115.4 L454.0,115.4 L452.0,115.5 L450.0,115.5 L448.0,115.5 L446.0,115.6 L444.0,115.6 L442.0,115.6 L440.0,115.6 L438.0,115.7 L436.0,115.7 L434.0,115.7 L432.0,115.8 L430.0,115.8 L428.0,115.8 L426.0,115.8 L424.0,115.9 L422.0,115.9 L420.0,115.9 L418.0,116.0 L416.0,116.0 L414.0,116.0 L412.0,116.1 L410.0,116.1 L408.0,116.1 L406.0,116.1 L404.0,116.2 L402.0,116.2 L400.0,116.2 L398.0,116.3 L396.0,116.3 L394.0,116.3 L392.0,116.3 L390.0,116.4 L388.0,116.4 L386.0,116.4 L384.0,116.5 L382.0,116.5 L380.0,116.5 L378.0,116.5 L376.0,116.6 L374.0,116.6 L372.0,116.6 L371.7,116.6 L371.2,116.6 L370.7,116.6 L370.2,116.7 L369.7,116.7 L369.2,116.7 L368.7,116.7 L368.2,116.7 L367.7,116.7 L367.2,116.7 L366.7,116.7 L366.2,116.7 L365.7,116.7 L365.2,116.7 L364.7,116.7 L364.2,116.7 L363.7,116.7 L363.2,116.8 L362.7,116.8 L362.2,116.8 L361.7,116.8 L361.2,116.8 L360.7,116.8 L360.2,116.8 L359.7,116.8 L359.2,116.8 L358.7,116.8 L358.2,116.8 L357.7,116.8 L357.2,116.8 L356.7,116.8 L356.2,116.9 L355.7,116.9 L355.2,116.9 L354.7,116.9 L354.2,116.9 L353.7,116.9 L353.2,116.9" stroke="#ff0000" stroke-width="1.80"/>
<path d="M353.2,121.8 L353.7,120.8 L354.2,119.9 L354.7,119.2 L355.2,118.5 L355.7,118.0 L356.2,117.4 L356.7,117.0 L357.2,116.5 L357.7,116.1 L358.2,115.8 L358.7,115.4 L359.2,115.1 L359.7,114.8 L360.2,114.6 L360.7,114.3 L361.2,114.1 L361.7,113.8 L362.2,113.6 L362.7,113.4 L363.2,113.1 L363.7,112.9 L364.2,112.7 L364.7,112.5 L365.2,112.4 L365.7,112.2 L366.2,112.0 L366.7,111.8 L367.2,111.6 L367.7,111.5 L368.2,111.3 L368.7,111.1 L369.2,111.0 L369.7,110.8 L370.2,110.7 L370.7,110.5 L371.2,110.4 L371.7,110.2 L372.0,110.1 L374.0,109.6 L376.0,109.1 L378.0,108.6 L380.0,108.1 L382.0,107.7 L384.0,107.3 L386.0,106.9 L388.0,106.5 L390.0,106.1 L392.0,105.8 L394.0,105.5 L396.0,105.1 L398.0,104.8 L400.0,104.5 L402.0,104.2 L404.0,103.9 L406.0,103.6 L408.0,103.3 L410.0,103.1 L412.0,102.8 L414.0,102.5 L416.0,102.2 L418.0,102.0 L420.0,101.7 L422.0,101.5 L424.0,101.2 L426.0,101.0 L428.0,100.7 L430.0,100.5 L432.0,100.2 L434.0,100.0 L436.0,99.7 L438.0,99.5 L440.0,99.2 L442.0,99.0 L444.0,98.7 L446.0,98.5 L448.0,98.3 L450.0,98.1 L452.0,97.9 L454.0,97.7 L456.0,97.5 L458.0,97.4 L460.0,97.2 L462.0,97.0 L464.0,96.9 L466.0,96.7 L468.0,96.6 L470.0,96.5 L472.0,96.3 L474.0,96.2 L476.0,96.1 L478.0,95.9 L480.0,95.8 L482.0,95.7 L484.0,95.6 L486.0,95.5 L488.0,95.4 L490.0,95.3 L492.0,95.2 L494.0,95.1 L496.0,95.0 L498.0,94.9 L500.0,94.8 L502.0,94.7 L504.0,94.7 L506.0,94.6 L508.0,94.5 L510.0,94.4 L512.0,94.3 L514.0,94.2 L516.0,94.2 L518.0,94.1 L520.0,94.0 L522.0,93.9 L524.0,93.9 L526.0,93.8 L528.0,93.7 L530.0,93.7 L532.0,93.6 L534.0,93.5 L536.0,93.4 L538.0,93.4 L540.0,93.3 L540.5,93.3 L541.0,93.3 L541.5,93.2 L542.0,93.2 L542.5,93.2 L543.0,93.2 L543.5,93.1 L544.0,93.1 L544.5,93.1 L545.0,93.1 L545.5,93.1 L546.0,93.0 L546.5,93.0 L547.0,93.0 L547.5,93.0 L548.0,92.9 L548.5,92.9 L549.0,92.9 L549.5,92.9 L550.0,92.9 L550.5,92.8 L551.0,92.8 L551.5,92.8 L552.0,92.7 L552.5,92.7 L553.0,92.7 L553.5,92.7 L554.0,92.6 L554.5,92.6 L555.0,92.6 L555.5,92.6 L556.0,92.5 L556.5,92.5 L557.0,92.5 L557.5,92.4 L558.0,92.4 L558.5,92.4 L559.0,92.4 L559.5,92.3 L560.0,92.3 L560.5,92.3 L561.0,92.2 L561.5,92.2 L562.0,92.2 L562.5,92.1 L563.0,92.1 L563.5,92.0 L564.0,92.0 L564.5,92.0 L565.0,91.9 L565.5,91.9 L566.0,91.9 L566.5,91.8 L567.0,91.8 L567.5,91.7 L568.0,91.7 L568.5,91.6 L569.0,91.6 L569.5,91.6 L570.0,91.5 L570.5,91.5 L571.0,91.4 L571.5,91.4 L572.0,91.3 L572.5,91.2 L573.0,91.2 L573.5,91.1 L574.0,91.1 L574.5,91.0 L575.0,90.9 L575.5,90.9 L576.0,90.8 L576.5,90.7 L577.0,90.7 L577.5,90.6 L578.0,90.5 L578.5,90.4 L579.0,90.4 L579.5,90.3 L580.0,90.2 L580.5,90.1 L581.0,90.1 L581.5,90.0 L582.0,89.9 L582.5,89.8 L583.0,89.7 L583.5,89.6 L584.0,89.6 L584.5,89.5 L585.0,89.4 L585.5,89.3 L585.5,89.3 L585.0,91.5 L584.5,92.8 L584.0,93.9 L583.5,94.7 L583.0,95.5 L582.5,96.2 L582.0,96.8 L581.5,97.4 L581.0,97.9 L580.5,98.4 L580.0,98.9 L579.5,99.4 L579.0,99.8 L578.5,100.2 L578.0,100.6 L577.5,100.9 L577.0,101.2 L576.5,101.5 L576.0,101.7 L575.5,101.9 L575.0,102.1 L574.5,102.3 L574.0,102.5 L573.5,102.6 L573.0,102.8 L572.5,103.0 L572.0,103.2 L571.5,103.4 L571.0,103.6 L570.5,103.9 L570.0,104.2 L569.5,104.5 L569.0,104.8 L568.5,105.2 L568.0,105.5 L567.5,105.9 L567.0,106.3 L566.5,106.7 L566.0,107.0 L565.5,107.4 L565.0,107.8 L564.5,108.1 L564.0,108.5 L563.5,108.8 L563.0,109.1 L562.5,109.4 L562.0,109.6 L561.5,109.8 L561.0,110.0 L560.5,110.1 L560.0,110.3 L559.5,110.4 L559.0,110.6 L558.5,110.7 L558.0,110.8 L557.5,110.9 L557.0,111.0 L556.5,111.2 L556.0,111.3 L555.5,111.4 L555.0,111.5 L554.5,111.6 L554.0,111.7 L553.5,111.9 L553.0,112.0 L552.5,112.1 L552.0,112.3 L551.5,112.5 L551.0,112.6 L550.5,112.8 L550.0,113.0 L549.5,113.2 L549.0,113.4 L548.5,113.6 L548.0,113.8 L547.5,114.0 L547.0,114.2 L546.5,114.3 L546.0,114.5 L545.5,114.7 L545.0,114.9 L544.5,115.1 L544.0,115.2 L543.5,115.4 L543.0,115.5 L542.5,115.6 L542.0,115.7 L541.5,115.8 L541.0,115.9 L540.5,116.0 L540.0,116.0 L538.0,116.1 L536.0,116.2 L534.0,116.3 L532.0,116.4 L530.0,116.5 L528.0,116.6 L526.0,116.7 L524.0,116.7 L522.0,116.8 L520.0,116.9 L518.0,116.9 L516.0,116.9 L514.0,117.0 L512.0,117.0 L510.0,117.1 L508.0,117.1 L506.0,117.1 L504.0,117.2 L502.0,117.2 L500.0,117.3 L498.0,117.3 L496.0,117.4 L494.0,117.4 L492.0,117.5 L490.0,117.6 L488.0,117.6 L486.0,117.7 L484.0,117.7 L482.0,117.8 L480.0,117.9 L478.0,117.9 L476.0,118.0 L474.0,118.0 L472.0,118.1 L470.0,118.2 L468.0,118.2 L466.0,118.3 L464.0,118.4 L462.0,118.4 L460.0,118.5 L458.0,118.5 L456.0,118.6 L454.0,118.7 L452.0,118.7 L450.0,118.8 L448.0,118.9 L446.0,118.9 L444.0,119.0 L442.0,119.0 L440.0,119.1 L438.0,119.2 L436.0,119.2 L434.0,119.3 L432.0,119.4 L430.0,119.4 L428.0,119.5 L426.0,119.5 L424.0,119.6 L422.0,119.7 L420.0,119.7 L418.0,119.8 L416.0,119.9 L414.0,119.9 L412.0,120.0 L410.0,120.0 L408.0,120.1 L406.0,120.2 L404.0,120.2 L402.0,120.3 L400.0,120.3 L398.0,120.4 L396.0,120.5 L394.0,120.5 L392.0,120.6 L390.0,120.7 L388.0,120.7 L386.0,120.8 L384.0,120.8 L382.0,120.9 L380.0,121.0 L378.0,121.0 L376.0,121.1 L374.0,121.2 L372.0,121.2 L371.7,121.2 L371.2,121.2 L370.7,121.3 L370.2,121.3 L369.7,121.3 L369.2,121.3 L368.7,121.3 L368.2,121.3 L367.7,121.3 L367.2,121.4 L366.7,121.4 L366.2,121.4 L365.7,121.4 L365.2,121.4 L364.7,121.4 L364.2,121.5 L363.7,121.5 L363.2,121.5 L362.7,121.5 L362.2,121.5 L361.7,121.5 L361.2,121.6 L360.7,121.6 L360.2,121.6 L359.7,121.6 L359.2,121.6 L358.7,121.6 L358.2,121.6 L357.7,121.7 L357.2,121.7 L356.7,121.7 L356.2,121.7 L355.7,121.7 L355.2,121.7 L354.7,121.8 L354.2,121.8 L353.7,121.8 L353.2,121.8" stroke="#0000ff" stroke-width="1.80"/>
<path d="M353.2,130.2 L353.7,128.7 L354.2,127.4 L354.7,126.3 L355.2,125.3 L355.7,124.4 L356.2,123.6 L356.7,122.9 L357.2,122.3 L357.7,121.7 L358.2,121.1 L358.7,120.6 L359.2,120.2 L359.7,119.7 L360.2,119.3 L360.7,118.9 L361.2,118.5 L361.7,118.2 L362.2,117.8 L362.7,117.5 L363.2,117.2 L363.7,116.9 L364.2,116.6 L364.7,116.3 L365.2,116.0 L365.7,115.7 L366.2,115.4 L366.7,115.2 L367.2,114.9 L367.7,114.7 L368.2,114.4 L368.7,114.2 L369.2,113.9 L369.7,113.7 L370.2,113.5 L370.7,113.3 L371.2,113.0 L371.7,112.8 L372.0,112.7 L374.0,111.9 L376.0,111.1 L378.0,110.4 L380.0,109.7 L382.0,109.1 L384.0,108.5 L386.0,107.9 L388.0,107.4 L390.0,106.9 L392.0,106.4 L394.0,105.9 L396.0,105.4 L398.0,105.0 L400.0,104.5 L402.0,104.1 L404.0,103.7 L406.0,103.2 L408.0,102.8 L410.0,102.4 L412.0,102.0 L414.0,101.6 L416.0,101.2 L418.0,100.9 L420.0,100.5 L422.0,100.2 L424.0,99.8 L426.0,99.5 L428.0,99.2 L430.0,98.9 L432.0,98.6 L434.0,98.3 L436.0,98.0 L438.0,97.7 L440.0,97.4 L442.0,97.1 L444.0,96.8 L446.0,96.5 L448.0,96.2 L450.0,95.9 L452.0,95.6 L454.0,95.3 L456.0,95.0 L458.0,94.7 L460.0,94.4 L462.0,94.1 L464.0,93.7 L466.0,93.4 L468.0,93.1 L470.0,92.7 L472.0,92.4 L474.0,92.1 L476.0,91.8 L478.0,91.5 L480.0,91.3 L482.0,91.1 L484.0,90.9 L486.0,90.8 L488.0,90.6 L490.0,90.5 L492.0,90.3 L494.0,90.2 L496.0,90.1 L498.0,90.0 L500.0,89.9 L502.0,89.8 L504.0,89.6 L506.0,89.5 L508.0,89.4 L510.0,89.2 L512.0,89.0 L514.0,88.9 L516.0,88.7 L518.0,88.5 L520.0,88.3 L522.0,88.1 L524.0,88.0 L526.0,87.8 L528.0,87.6 L530.0,87.4 L532.0,87.1 L534.0,86.9 L536.0,86.7 L538.0,86.5 L540.0,86.3 L540.5,86.2 L541.0,86.2 L541.5,86.1 L542.0,86.1 L542.5,86.0 L543.0,85.9 L543.5,85.9 L544.0,85.8 L544.5,85.8 L545.0,85.7 L545.5,85.7 L546.0,85.6 L546.5,85.5 L547.0,85.5 L547.5,85.4 L548.0,85.4 L548.5,85.3 L549.0,85.2 L549.5,85.2 L550.0,85.1 L550.5,85.1 L551.0,85.0 L551.5,84.9 L552.0,84.9 L552.5,84.8 L553.0,84.8 L553.5,84.7 L554.0,84.6 L554.5,84.6 L555.0,84.5 L555.5,84.4 L556.0,84.4 L556.5,84.3 L557.0,84.2 L557.5,84.1 L558.0,84.1 L558.5,84.0 L559.0,83.9 L559.5,83.9 L560.0,83.8 L560.5,83.7 L561.0,83.6 L561.5,83.6 L562.0,83.5 L562.5,83.4 L563.0,83.4 L563.5,83.3 L564.0,83.2 L564.5,83.1 L565.0,83.1 L565.5,83.0 L566.0,82.9 L566.5,82.9 L567.0,82.8 L567.5,82.7 L568.0,82.6 L568.5,82.6 L569.0,82.5 L569.5,82.4 L570.0,82.4 L570.5,82.3 L571.0,82.2 L571.5,82.2 L572.0,82.1 L572.5,82.0 L573.0,81.9 L573.5,81.9 L574.0,81.8 L574.5,81.7 L575.0,81.7 L575.5,81.6 L576.0,81.5 L576.5,81.5 L577.0,81.4 L577.5,81.3 L578.0,81.2 L578.5,81.2 L579.0,81.1 L579.5,81.0 L580.0,81.0 L580.5,80.9 L581.0,80.8 L581.5,80.8 L582.0,80.7 L582.5,80.6 L583.0,80.5 L583.5,80.5 L584.0,80.4 L584.5,80.3 L585.0,80.3 L585.5,80.2 L585.5,80.2 L585.0,83.6 L584.5,85.8 L584.0,87.5 L583.5,88.9 L583.0,90.1 L582.5,91.2 L582.0,92.2 L581.5,93.1 L581.0,94.0 L580.5,94.8 L580.0,95.5 L579.5,96.3 L579.0,96.9 L578.5,97.6 L578.0,98.2 L577.5,98.8 L577.0,99.2 L576.5,99.7 L576.0,100.1 L575.5,100.5 L575.0,100.8 L574.5,101.1 L574.0,101.4 L573.5,101.7 L573.0,102.0 L572.5,102.3 L572.0,102.6 L571.5,102.9 L571.0,103.2 L570.5,103.5 L570.0,103.9 L569.5,104.2 L569.0,104.6 L568.5,104.9 L568.0,105.3 L567.5,105.7 L567.0,106.0 L566.5,106.4 L566.0,106.8 L565.5,107.1 L565.0,107.5 L564.5,107.8 L564.0,108.1 L563.5,108.4 L563.0,108.7 L562.5,109.0 L562.0,109.3 L561.5,109.5 L561.0,109.7 L560.5,109.9 L560.0,110.1 L559.5,110.3 L559.0,110.5 L558.5,110.7 L558.0,110.9 L557.5,111.0 L557.0,111.2 L556.5,111.4 L556.0,111.5 L555.5,111.7 L555.0,111.8 L554.5,112.0 L554.0,112.2 L553.5,112.3 L553.0,112.5 L552.5,112.7 L552.0,112.9 L551.5,113.0 L551.0,113.2 L550.5,113.4 L550.0,113.6 L549.5,113.8 L549.0,114.0 L548.5,114.2 L548.0,114.4 L547.5,114.6 L547.0,114.8 L546.5,115.0 L546.0,115.2 L545.5,115.4 L545.0,115.5 L544.5,115.7 L544.0,115.9 L543.5,116.0 L543.0,116.2 L542.5,116.3 L542.0,116.4 L541.5,116.5 L541.0,116.6 L540.5,116.7 L540.0,116.8 L538.0,117.1 L536.0,117.3 L534.0,117.5 L532.0,117.7 L530.0,117.9 L528.0,118.1 L526.0,118.2 L524.0,118.4 L522.0,118.5 L520.0,118.6 L518.0,118.8 L516.0,118.9 L514.0,119.0 L512.0,119.1 L510.0,119.2 L508.0,119.3 L506.0,119.4 L504.0,119.5 L502.0,119.6 L500.0,119.7 L498.0,119.8 L496.0,120.0 L494.0,120.1 L492.0,120.2 L490.0,120.4 L488.0,120.5 L486.0,120.7 L484.0,120.8 L482.0,121.0 L480.0,121.1 L478.0,121.2 L476.0,121.4 L474.0,121.5 L472.0,121.7 L470.0,121.8 L468.0,122.0 L466.0,122.1 L464.0,122.3 L462.0,122.4 L460.0,122.5 L458.0,122.7 L456.0,122.8 L454.0,123.0 L452.0,123.1 L450.0,123.3 L448.0,123.4 L446.0,123.5 L444.0,123.7 L442.0,123.8 L440.0,124.0 L438.0,124.1 L436.0,124.3 L434.0,124.4 L432.0,124.5 L430.0,124.7 L428.0,124.8 L426.0,125.0 L424.0,125.1 L422.0,125.3 L420.0,125.4 L418.0,125.6 L416.0,125.7 L414.0,125.8 L412.0,126.0 L410.0,126.1 L408.0,126.3 L406.0,126.4 L404.0,126.6 L402.0,126.7 L400.0,126.8 L398.0,127.0 L396.0,127.1 L394.0,127.3 L392.0,127.4 L390.0,127.6 L388.0,127.7 L386.0,127.8 L384.0,128.0 L382.0,128.1 L380.0,128.3 L378.0,128.4 L376.0,128.6 L374.0,128.7 L372.0,128.9 L371.7,128.9 L371.2,128.9 L370.7,128.9 L370.2,129.0 L369.7,129.0 L369.2,129.1 L368.7,129.1 L368.2,129.1 L367.7,129.2 L367.2,129.2 L366.7,129.2 L366.2,129.3 L365.7,129.3 L365.2,129.3 L364.7,129.4 L364.2,129.4 L363.7,129.4 L363.2,129.5 L362.7,129.5 L362.2,129.6 L361.7,129.6 L361.2,129.6 L360.7,129.7 L360.2,129.7 L359.7,129.7 L359.2,129.8 L358.7,129.8 L358.2,129.8 L357.7,129.9 L357.2,129.9 L356.7,129.9 L356.2,130.0 L355.7,130.0 L355.2,130.1 L354.7,130.1 L354.2,130.1 L353.7,130.2 L353.2,130.2" stroke="#ff00ff" stroke-width="1.80"/>
<path d="M353.2,138.3 L353.7,136.3 L354.2,134.6 L354.7,133.1 L355.2,131.8 L355.7,130.6 L356.2,129.5 L356.7,128.6 L357.2,127.7 L357.7,126.9 L358.2,126.2 L358.7,125.5 L359.2,124.9 L359.7,124.3 L360.2,123.8 L360.7,123.2 L361.2,122.7 L361.7,122.3 L362.2,121.8 L362.7,121.3 L363.2,120.9 L363.7,120.5 L364.2,120.1 L364.7,119.7 L365.2,119.3 L365.7,119.0 L366.2,118.6 L366.7,118.3 L367.2,117.9 L367.7,117.6 L368.2,117.3 L368.7,116.9 L369.2,116.6 L369.7,116.3 L370.2,116.0 L370.7,115.7 L371.2,115.5 L371.7,115.2 L372.0,115.0 L374.0,113.9 L376.0,113.0 L378.0,112.0 L380.0,111.2 L382.0,110.4 L384.0,109.6 L386.0,108.9 L388.0,108.2 L390.0,107.5 L392.0,106.9 L394.0,106.2 L396.0,105.6 L398.0,105.1 L400.0,104.5 L402.0,103.9 L404.0,103.4 L406.0,102.8 L408.0,102.3 L410.0,101.8 L412.0,101.3 L414.0,100.8 L416.0,100.3 L418.0,99.8 L420.0,99.3 L422.0,98.8 L424.0,98.3 L426.0,97.9 L428.0,97.4 L430.0,96.9 L432.0,96.4 L434.0,96.0 L436.0,95.5 L438.0,95.0 L440.0,94.6 L442.0,94.1 L444.0,93.7 L446.0,93.2 L448.0,92.8 L450.0,92.3 L452.0,91.9 L454.0,91.5 L456.0,91.1 L458.0,90.7 L460.0,90.3 L462.0,90.0 L464.0,89.6 L466.0,89.2 L468.0,88.8 L470.0,88.5 L472.0,88.1 L474.0,87.8 L476.0,87.4 L478.0,87.1 L480.0,86.9 L482.0,86.6 L484.0,86.4 L486.0,86.2 L488.0,86.0 L490.0,85.8 L492.0,85.6 L494.0,85.5 L496.0,85.3 L498.0,85.1 L500.0,85.0 L502.0,84.8 L504.0,84.6 L506.0,84.4 L508.0,84.2 L510.0,84.0 L512.0,83.8 L514.0,83.5 L516.0,83.2 L518.0,83.0 L520.0,82.7 L522.0,82.4 L524.0,82.1 L526.0,81.7 L528.0,81.4 L530.0,81.1 L532.0,80.7 L534.0,80.4 L536.0,80.0 L538.0,79.6 L540.0,79.2 L540.5,79.1 L541.0,79.0 L541.5,78.9 L542.0,78.8 L542.5,78.7 L543.0,78.6 L543.5,78.5 L544.0,78.4 L544.5,78.3 L545.0,78.2 L545.5,78.1 L546.0,78.0 L546.5,77.9 L547.0,77.8 L547.5,77.7 L548.0,77.6 L548.5,77.5 L549.0,77.4 L549.5,77.3 L550.0,77.2 L550.5,77.1 L551.0,77.0 L551.5,76.9 L552.0,76.8 L552.5,76.7 L553.0,76.5 L553.5,76.4 L554.0,76.3 L554.5,76.2 L555.0,76.0 L555.5,75.9 L556.0,75.8 L556.5,75.6 L557.0,75.5 L557.5,75.4 L558.0,75.2 L558.5,75.1 L559.0,74.9 L559.5,74.8 L560.0,74.6 L560.5,74.5 L561.0,74.4 L561.5,74.2 L562.0,74.1 L562.5,73.9 L563.0,73.8 L563.5,73.7 L564.0,73.5 L564.5,73.4 L565.0,73.3 L565.5,73.1 L566.0,73.0 L566.5,72.9 L567.0,72.8 L567.5,72.6 L568.0,72.5 L568.5,72.4 L569.0,72.3 L569.5,72.2 L570.0,72.1 L570.5,72.0 L571.0,71.9 L571.5,71.8 L572.0,71.7 L572.5,71.6 L573.0,71.5 L573.5,71.4 L574.0,71.3 L574.5,71.2 L575.0,71.1 L575.5,71.0 L576.0,70.9 L576.5,70.8 L577.0,70.7 L577.5,70.7 L578.0,70.6 L578.5,70.5 L579.0,70.4 L579.5,70.3 L580.0,70.2 L580.5,70.1 L581.0,70.1 L581.5,70.0 L582.0,69.9 L582.5,69.8 L583.0,69.8 L583.5,69.7 L584.0,69.6 L584.5,69.5 L585.0,69.5 L585.5,69.4 L585.5,69.4 L585.0,74.3 L584.5,77.4 L584.0,79.8 L583.5,81.8 L583.0,83.5 L582.5,85.1 L582.0,86.6 L581.5,87.9 L581.0,89.1 L580.5,90.2 L580.0,91.3 L579.5,92.3 L579.0,93.3 L578.5,94.3 L578.0,95.2 L577.5,96.0 L577.0,96.7 L576.5,97.4 L576.0,98.0 L575.5,98.6 L575.0,99.1 L574.5,99.6 L574.0,100.1 L573.5,100.5 L573.0,101.0 L572.5,101.4 L572.0,101.8 L571.5,102.2 L571.0,102.7 L570.5,103.1 L570.0,103.5 L569.5,103.9 L569.0,104.3 L568.5,104.7 L568.0,105.1 L567.5,105.5 L567.0,105.9 L566.5,106.3 L566.0,106.6 L565.5,107.0 L565.0,107.3 L564.5,107.7 L564.0,108.0 L563.5,108.3 L563.0,108.7 L562.5,108.9 L562.0,109.2 L561.5,109.5 L561.0,109.8 L560.5,110.0 L560.0,110.2 L559.5,110.5 L559.0,110.7 L558.5,110.9 L558.0,111.1 L557.5,111.3 L557.0,111.5 L556.5,111.7 L556.0,111.9 L555.5,112.0 L555.0,112.2 L554.5,112.4 L554.0,112.6 L553.5,112.8 L553.0,113.0 L552.5,113.2 L552.0,113.4 L551.5,113.6 L551.0,113.8 L550.5,114.1 L550.0,114.3 L549.5,114.5 L549.0,114.7 L548.5,115.0 L548.0,115.2 L547.5,115.4 L547.0,115.6 L546.5,115.8 L546.0,116.1 L545.5,116.3 L545.0,116.5 L544.5,116.7 L544.0,116.8 L543.5,117.0 L543.0,117.2 L542.5,117.4 L542.0,117.5 L541.5,117.7 L541.0,117.8 L540.5,117.9 L540.0,118.0 L538.0,118.4 L536.0,118.7 L534.0,119.0 L532.0,119.3 L530.0,119.6 L528.0,119.8 L526.0,120.1 L524.0,120.3 L522.0,120.5 L520.0,120.7 L518.0,120.9 L516.0,121.1 L514.0,121.2 L512.0,121.4 L510.0,121.6 L508.0,121.7 L506.0,121.9 L504.0,122.1 L502.0,122.2 L500.0,122.4 L498.0,122.6 L496.0,122.8 L494.0,123.0 L492.0,123.2 L490.0,123.4 L488.0,123.7 L486.0,123.9 L484.0,124.1 L482.0,124.3 L480.0,124.5 L478.0,124.7 L476.0,125.0 L474.0,125.2 L472.0,125.4 L470.0,125.6 L468.0,125.8 L466.0,126.0 L464.0,126.3 L462.0,126.5 L460.0,126.7 L458.0,126.9 L456.0,127.1 L454.0,127.3 L452.0,127.6 L450.0,127.8 L448.0,128.0 L446.0,128.2 L444.0,128.4 L442.0,128.6 L440.0,128.9 L438.0,129.1 L436.0,129.3 L434.0,129.5 L432.0,129.7 L430.0,130.0 L428.0,130.2 L426.0,130.4 L424.0,130.6 L422.0,130.8 L420.0,131.0 L418.0,131.3 L416.0,131.5 L414.0,131.7 L412.0,131.9 L410.0,132.1 L408.0,132.3 L406.0,132.6 L404.0,132.8 L402.0,133.0 L400.0,133.2 L398.0,133.4 L396.0,133.6 L394.0,133.9 L392.0,134.1 L390.0,134.3 L388.0,134.5 L386.0,134.7 L384.0,135.0 L382.0,135.2 L380.0,135.4 L378.0,135.6 L376.0,135.8 L374.0,136.0 L372.0,136.3 L371.7,136.3 L371.2,136.3 L370.7,136.4 L370.2,136.5 L369.7,136.5 L369.2,136.6 L368.7,136.6 L368.2,136.7 L367.7,136.7 L367.2,136.8 L366.7,136.8 L366.2,136.9 L365.7,136.9 L365.2,137.0 L364.7,137.1 L364.2,137.1 L363.7,137.2 L363.2,137.2 L362.7,137.3 L362.2,137.3 L361.7,137.4 L361.2,137.4 L360.7,137.5 L360.2,137.5 L359.7,137.6 L359.2,137.6 L358.7,137.7 L358.2,137.8 L357.7,137.8 L357.2,137.9 L356.7,137.9 L356.2,138.0 L355.7,138.0 L355.2,138.1 L354.7,138.1 L354.2,138.2 L353.7,138.2 L353.2,138.3" stroke="#008000" stroke-width="1.80"/>
<path d="M353.2,143.6 L353.7,141.3 L354.2,139.4 L354.7,137.6 L355.2,136.1 L355.7,134.7 L356.2,133.5 L356.7,132.4 L357.2,131.4 L357.7,130.5 L358.2,129.7 L358.7,128.9 L359.2,128.1 L359.7,127.4 L360.2,126.8 L360.7,126.2 L361.2,125.6 L361.7,125.0 L362.2,124.5 L362.7,124.0 L363.2,123.5 L363.7,123.0 L364.2,122.5 L364.7,122.0 L365.2,121.6 L365.7,121.2 L366.2,120.8 L366.7,120.4 L367.2,120.0 L367.7,119.6 L368.2,119.2 L368.7,118.8 L369.2,118.5 L369.7,118.1 L370.2,117.8 L370.7,117.4 L371.2,117.1 L371.7,116.8 L372.0,116.6 L374.0,115.3 L376.0,114.2 L378.0,113.1 L380.0,112.1 L382.0,111.2 L384.0,110.3 L386.0,109.4 L388.0,108.6 L390.0,107.8 L392.0,107.1 L394.0,106.3 L396.0,105.6 L398.0,104.9 L400.0,104.3 L402.0,103.6 L404.0,102.9 L406.0,102.3 L408.0,101.6 L410.0,101.0 L412.0,100.4 L414.0,99.8 L416.0,99.2 L418.0,98.6 L420.0,98.0 L422.0,97.4 L424.0,96.9 L426.0,96.3 L428.0,95.8 L430.0,95.2 L432.0,94.6 L434.0,94.1 L436.0,93.5 L438.0,93.0 L440.0,92.5 L442.0,91.9 L444.0,91.4 L446.0,90.9 L448.0,90.4 L450.0,89.9 L452.0,89.4 L454.0,89.0 L456.0,88.5 L458.0,88.1 L460.0,87.6 L462.0,87.2 L464.0,86.8 L466.0,86.3 L468.0,85.9 L470.0,85.5 L472.0,85.1 L474.0,84.7 L476.0,84.4 L478.0,84.0 L480.0,83.7 L482.0,83.4 L484.0,83.1 L486.0,82.9 L488.0,82.6 L490.0,82.4 L492.0,82.2 L494.0,82.0 L496.0,81.8 L498.0,81.6 L500.0,81.4 L502.0,81.1 L504.0,80.9 L506.0,80.7 L508.0,80.4 L510.0,80.1 L512.0,79.8 L514.0,79.5 L516.0,79.1 L518.0,78.7 L520.0,78.4 L522.0,78.0 L524.0,77.5 L526.0,77.1 L528.0,76.7 L530.0,76.2 L532.0,75.7 L534.0,75.2 L536.0,74.7 L538.0,74.2 L540.0,73.7 L540.5,73.5 L541.0,73.4 L541.5,73.3 L542.0,73.1 L542.5,73.0 L543.0,72.9 L543.5,72.7 L544.0,72.6 L544.5,72.4 L545.0,72.3 L545.5,72.1 L546.0,72.0 L546.5,71.9 L547.0,71.7 L547.5,71.6 L548.0,71.4 L548.5,71.3 L549.0,71.1 L549.5,71.0 L550.0,70.8 L550.5,70.7 L551.0,70.5 L551.5,70.3 L552.0,70.2 L552.5,70.0 L553.0,69.8 L553.5,69.6 L554.0,69.4 L554.5,69.2 L555.0,69.0 L555.5,68.8 L556.0,68.6 L556.5,68.3 L557.0,68.1 L557.5,67.9 L558.0,67.6 L558.5,67.4 L559.0,67.2 L559.5,66.9 L560.0,66.7 L560.5,66.4 L561.0,66.2 L561.5,66.0 L562.0,65.7 L562.5,65.5 L563.0,65.3 L563.5,65.1 L564.0,64.9 L564.5,64.7 L565.0,64.5 L565.5,64.3 L566.0,64.1 L566.5,63.9 L567.0,63.8 L567.5,63.6 L568.0,63.5 L568.5,63.3 L569.0,63.2 L569.5,63.1 L570.0,63.0 L570.5,62.9 L571.0,62.7 L571.5,62.6 L572.0,62.5 L572.5,62.4 L573.0,62.3 L573.5,62.2 L574.0,62.1 L574.5,62.0 L575.0,61.9 L575.5,61.8 L576.0,61.7 L576.5,61.6 L577.0,61.5 L577.5,61.4 L578.0,61.3 L578.5,61.3 L579.0,61.2 L579.5,61.1 L580.0,61.0 L580.5,61.0 L581.0,60.9 L581.5,60.8 L582.0,60.8 L582.5,60.7 L583.0,60.7 L583.5,60.6 L584.0,60.6 L584.5,60.6 L585.0,60.5 L585.5,60.5 L585.5,60.5 L585.0,66.5 L584.5,70.4 L584.0,73.4 L583.5,75.8 L583.0,78.0 L582.5,80.0 L582.0,81.8 L581.5,83.4 L581.0,84.9 L580.5,86.3 L580.0,87.7 L579.5,89.0 L579.0,90.2 L578.5,91.4 L578.0,92.5 L577.5,93.5 L577.0,94.5 L576.5,95.3 L576.0,96.1 L575.5,96.9 L575.0,97.6 L574.5,98.2 L574.0,98.9 L573.5,99.5 L573.0,100.1 L572.5,100.6 L572.0,101.2 L571.5,101.7 L571.0,102.2 L570.5,102.6 L570.0,103.1 L569.5,103.5 L569.0,104.0 L568.5,104.4 L568.0,104.8 L567.5,105.2 L567.0,105.6 L566.5,106.0 L566.0,106.3 L565.5,106.7 L565.0,107.1 L564.5,107.4 L564.0,107.7 L563.5,108.1 L563.0,108.4 L562.5,108.7 L562.0,109.0 L561.5,109.3 L561.0,109.6 L560.5,109.9 L560.0,110.1 L559.5,110.4 L559.0,110.7 L558.5,110.9 L558.0,111.2 L557.5,111.4 L557.0,111.6 L556.5,111.9 L556.0,112.1 L555.5,112.3 L555.0,112.6 L554.5,112.8 L554.0,113.0 L553.5,113.3 L553.0,113.5 L552.5,113.7 L552.0,114.0 L551.5,114.2 L551.0,114.5 L550.5,114.8 L550.0,115.0 L549.5,115.3 L549.0,115.6 L548.5,115.8 L548.0,116.1 L547.5,116.4 L547.0,116.7 L546.5,116.9 L546.0,117.2 L545.5,117.4 L545.0,117.7 L544.5,117.9 L544.0,118.1 L543.5,118.3 L543.0,118.5 L542.5,118.7 L542.0,118.9 L541.5,119.1 L541.0,119.2 L540.5,119.4 L540.0,119.5 L538.0,119.9 L536.0,120.3 L534.0,120.7 L532.0,121.1 L530.0,121.4 L528.0,121.7 L526.0,122.0 L524.0,122.2 L522.0,122.5 L520.0,122.7 L518.0,122.9 L516.0,123.1 L514.0,123.3 L512.0,123.5 L510.0,123.7 L508.0,123.9 L506.0,124.1 L504.0,124.3 L502.0,124.5 L500.0,124.7 L498.0,125.0 L496.0,125.2 L494.0,125.4 L492.0,125.7 L490.0,126.0 L488.0,126.2 L486.0,126.5 L484.0,126.7 L482.0,127.0 L480.0,127.2 L478.0,127.5 L476.0,127.8 L474.0,128.0 L472.0,128.3 L470.0,128.5 L468.0,128.8 L466.0,129.0 L464.0,129.3 L462.0,129.6 L460.0,129.8 L458.0,130.1 L456.0,130.3 L454.0,130.6 L452.0,130.9 L450.0,131.1 L448.0,131.4 L446.0,131.6 L444.0,131.9 L442.0,132.1 L440.0,132.4 L438.0,132.7 L436.0,132.9 L434.0,133.2 L432.0,133.4 L430.0,133.7 L428.0,133.9 L426.0,134.2 L424.0,134.5 L422.0,134.7 L420.0,135.0 L418.0,135.2 L416.0,135.5 L414.0,135.8 L412.0,136.0 L410.0,136.3 L408.0,136.5 L406.0,136.8 L404.0,137.0 L402.0,137.3 L400.0,137.6 L398.0,137.8 L396.0,138.1 L394.0,138.3 L392.0,138.6 L390.0,138.9 L388.0,139.1 L386.0,139.4 L384.0,139.6 L382.0,139.9 L380.0,140.1 L378.0,140.4 L376.0,140.7 L374.0,140.9 L372.0,141.2 L371.7,141.2 L371.2,141.3 L370.7,141.3 L370.2,141.4 L369.7,141.5 L369.2,141.5 L368.7,141.6 L368.2,141.7 L367.7,141.7 L367.2,141.8 L366.7,141.9 L366.2,141.9 L365.7,142.0 L365.2,142.1 L364.7,142.1 L364.2,142.2 L363.7,142.2 L363.2,142.3 L362.7,142.4 L362.2,142.4 L361.7,142.5 L361.2,142.6 L360.7,142.6 L360.2,142.7 L359.7,142.8 L359.2,142.8 L358.7,142.9 L358.2,143.0 L357.7,143.0 L357.2,143.1 L356.7,143.1 L356.2,143.2 L355.7,143.3 L355.2,143.3 L354.7,143.4 L354.2,143.5 L353.7,143.5 L353.2,143.6" stroke="#000080" stroke-width="1.80"/>
<path d="M353.2,152.9 L353.7,150.2 L354.2,147.8 L354.7,145.7 L355.2,143.8 L355.7,142.1 L356.2,140.6 L356.7,139.3 L357.2,138.1 L357.7,136.9 L358.2,135.9 L358.7,134.9 L359.2,134.0 L359.7,133.1 L360.2,132.3 L360.7,131.6 L361.2,130.8 L361.7,130.1 L362.2,129.4 L362.7,128.8 L363.2,128.2 L363.7,127.6 L364.2,127.0 L364.7,126.4 L365.2,125.9 L365.7,125.3 L366.2,124.8 L366.7,124.3 L367.2,123.8 L367.7,123.3 L368.2,122.9 L368.7,122.4 L369.2,121.9 L369.7,121.5 L370.2,121.1 L370.7,120.7 L371.2,120.2 L371.7,119.8 L372.0,119.6 L374.0,118.1 L376.0,116.6 L378.0,115.3 L380.0,114.0 L382.0,112.8 L384.0,111.7 L386.0,110.6 L388.0,109.6 L390.0,108.6 L392.0,107.6 L394.0,106.6 L396.0,105.7 L398.0,104.8 L400.0,103.9 L402.0,103.0 L404.0,102.2 L406.0,101.3 L408.0,100.4 L410.0,99.6 L412.0,98.8 L414.0,97.9 L416.0,97.1 L418.0,96.3 L420.0,95.6 L422.0,94.8 L424.0,94.1 L426.0,93.4 L428.0,92.6 L430.0,91.9 L432.0,91.2 L434.0,90.5 L436.0,89.8 L438.0,89.1 L440.0,88.4 L442.0,87.8 L444.0,87.1 L446.0,86.4 L448.0,85.8 L450.0,85.2 L452.0,84.6 L454.0,84.0 L456.0,83.4 L458.0,82.9 L460.0,82.3 L462.0,81.7 L464.0,81.2 L466.0,80.7 L468.0,80.1 L470.0,79.6 L472.0,79.1 L474.0,78.6 L476.0,78.2 L478.0,77.7 L480.0,77.3 L482.0,76.9 L484.0,76.5 L486.0,76.2 L488.0,75.9 L490.0,75.6 L492.0,75.3 L494.0,75.0 L496.0,74.7 L498.0,74.4 L500.0,74.1 L502.0,73.8 L504.0,73.5 L506.0,73.2 L508.0,72.8 L510.0,72.4 L512.0,72.0 L514.0,71.5 L516.0,71.0 L518.0,70.5 L520.0,69.9 L522.0,69.3 L524.0,68.7 L526.0,68.1 L528.0,67.4 L530.0,66.8 L532.0,66.1 L534.0,65.4 L536.0,64.7 L538.0,64.0 L540.0,63.2 L540.5,63.0 L541.0,62.8 L541.5,62.6 L542.0,62.5 L542.5,62.3 L543.0,62.1 L543.5,61.9 L544.0,61.7 L544.5,61.5 L545.0,61.3 L545.5,61.1 L546.0,60.9 L546.5,60.7 L547.0,60.6 L547.5,60.4 L548.0,60.2 L548.5,60.0 L549.0,59.8 L549.5,59.6 L550.0,59.4 L550.5,59.2 L551.0,59.0 L551.5,58.8 L552.0,58.6 L552.5,58.4 L553.0,58.2 L553.5,58.0 L554.0,57.8 L554.5,57.5 L555.0,57.3 L555.5,57.1 L556.0,56.9 L556.5,56.6 L557.0,56.4 L557.5,56.2 L558.0,55.9 L558.5,55.7 L559.0,55.5 L559.5,55.2 L560.0,55.0 L560.5,54.8 L561.0,54.5 L561.5,54.3 L562.0,54.0 L562.5,53.8 L563.0,53.6 L563.5,53.3 L564.0,53.1 L564.5,52.8 L565.0,52.6 L565.5,52.4 L566.0,52.1 L566.5,51.9 L567.0,51.7 L567.5,51.5 L568.0,51.2 L568.5,51.0 L569.0,50.8 L569.5,50.6 L570.0,50.4 L570.5,50.2 L571.0,49.9 L571.5,49.7 L572.0,49.5 L572.5,49.3 L573.0,49.1 L573.5,48.9 L574.0,48.7 L574.5,48.5 L575.0,48.2 L575.5,48.0 L576.0,47.8 L576.5,47.6 L577.0,47.4 L577.5,47.2 L578.0,47.0 L578.5,46.8 L579.0,46.6 L579.5,46.4 L580.0,46.2 L580.5,46.0 L581.0,45.8 L581.5,45.6 L582.0,45.4 L582.5,45.2 L583.0,45.0 L583.5,44.8 L584.0,44.6 L584.5,44.4 L585.0,44.2 L585.5,44.0 L585.5,44.0 L585.0,52.0 L584.5,57.3 L584.0,61.3 L583.5,64.6 L583.0,67.6 L582.5,70.3 L582.0,72.7 L581.5,74.9 L581.0,77.0 L580.5,78.9 L580.0,80.7 L579.5,82.4 L579.0,84.1 L578.5,85.7 L578.0,87.2 L577.5,88.6 L577.0,89.9 L576.5,91.2 L576.0,92.3 L575.5,93.4 L575.0,94.4 L574.5,95.4 L574.0,96.3 L573.5,97.3 L573.0,98.1 L572.5,98.9 L572.0,99.7 L571.5,100.4 L571.0,101.1 L570.5,101.7 L570.0,102.3 L569.5,102.8 L569.0,103.3 L568.5,103.8 L568.0,104.3 L567.5,104.8 L567.0,105.2 L566.5,105.6 L566.0,106.0 L565.5,106.4 L565.0,106.8 L564.5,107.1 L564.0,107.5 L563.5,107.8 L563.0,108.2 L562.5,108.5 L562.0,108.9 L561.5,109.2 L561.0,109.5 L560.5,109.9 L560.0,110.2 L559.5,110.5 L559.0,110.8 L558.5,111.1 L558.0,111.4 L557.5,111.7 L557.0,111.9 L556.5,112.2 L556.0,112.5 L555.5,112.7 L555.0,113.0 L554.5,113.3 L554.0,113.5 L553.5,113.8 L553.0,114.0 L552.5,114.2 L552.0,114.5 L551.5,114.7 L551.0,115.0 L550.5,115.2 L550.0,115.5 L549.5,115.7 L549.0,115.9 L548.5,116.2 L548.0,116.4 L547.5,116.6 L547.0,116.9 L546.5,117.1 L546.0,117.3 L545.5,117.5 L545.0,117.7 L544.5,118.0 L544.0,118.2 L543.5,118.3 L543.0,118.5 L542.5,118.7 L542.0,118.9 L541.5,119.1 L541.0,119.2 L540.5,119.4 L540.0,119.5 L538.0,120.0 L536.0,120.5 L534.0,121.0 L532.0,121.4 L530.0,121.9 L528.0,122.3 L526.0,122.6 L524.0,123.0 L522.0,123.4 L520.0,123.7 L518.0,124.0 L516.0,124.3 L514.0,124.6 L512.0,124.9 L510.0,125.2 L508.0,125.5 L506.0,125.8 L504.0,126.1 L502.0,126.4 L500.0,126.7 L498.0,127.0 L496.0,127.4 L494.0,127.7 L492.0,128.1 L490.0,128.4 L488.0,128.8 L486.0,129.2 L484.0,129.5 L482.0,129.9 L480.0,130.2 L478.0,130.6 L476.0,130.9 L474.0,131.3 L472.0,131.7 L470.0,132.0 L468.0,132.4 L466.0,132.7 L464.0,133.1 L462.0,133.4 L460.0,133.8 L458.0,134.2 L456.0,134.5 L454.0,134.9 L452.0,135.2 L450.0,135.6 L448.0,135.9 L446.0,136.3 L444.0,136.7 L442.0,137.0 L440.0,137.4 L438.0,137.7 L436.0,138.1 L434.0,138.5 L432.0,138.8 L430.0,139.2 L428.0,139.5 L426.0,139.9 L424.0,140.2 L422.0,140.6 L420.0,141.0 L418.0,141.3 L416.0,141.7 L414.0,142.0 L412.0,142.4 L410.0,142.7 L408.0,143.1 L406.0,143.5 L404.0,143.8 L402.0,144.2 L400.0,144.5 L398.0,144.9 L396.0,145.2 L394.0,145.6 L392.0,146.0 L390.0,146.3 L388.0,146.7 L386.0,147.0 L384.0,147.4 L382.0,147.8 L380.0,148.1 L378.0,148.5 L376.0,148.8 L374.0,149.2 L372.0,149.5 L371.7,149.6 L371.2,149.7 L370.7,149.8 L370.2,149.9 L369.7,149.9 L369.2,150.0 L368.7,150.1 L368.2,150.2 L367.7,150.3 L367.2,150.4 L366.7,150.5 L366.2,150.6 L365.7,150.7 L365.2,150.8 L364.7,150.8 L364.2,150.9 L363.7,151.0 L363.2,151.1 L362.7,151.2 L362.2,151.3 L361.7,151.4 L361.2,151.5 L360.7,151.6 L360.2,151.6 L359.7,151.7 L359.2,151.8 L358.7,151.9 L358.2,152.0 L357.7,152.1 L357.2,152.2 L356.7,152.3 L356.2,152.4 L355.7,152.5 L355.2,152.5 L354.7,152.6 L354.2,152.7 L353.7,152.8 L353.2,152.9" stroke="#8000ff" stroke-width="1.80"/>
<path d="M353.2,160.3 L353.7,157.2 L354.2,154.4 L354.7,152.0 L355.2,149.8 L355.7,147.9 L356.2,146.2 L356.7,144.6 L357.2,143.2 L357.7,141.9 L358.2,140.6 L358.7,139.5 L359.2,138.4 L359.7,137.4 L360.2,136.5 L360.7,135.6 L361.2,134.7 L361.7,133.9 L362.2,133.2 L362.7,132.4 L363.2,131.7 L363.7,131.0 L364.2,130.3 L364.7,129.6 L365.2,129.0 L365.7,128.4 L366.2,127.8 L366.7,127.2 L367.2,126.6 L367.7,126.1 L368.2,125.5 L368.7,125.0 L369.2,124.5 L369.7,124.0 L370.2,123.5 L370.7,123.0 L371.2,122.5 L371.7,122.0 L372.0,121.8 L374.0,120.0 L376.0,118.3 L378.0,116.8 L380.0,115.4 L382.0,114.0 L384.0,112.7 L386.0,111.4 L388.0,110.2 L390.0,109.0 L392.0,107.9 L394.0,106.8 L396.0,105.7 L398.0,104.6 L400.0,103.6 L402.0,102.5 L404.0,101.5 L406.0,100.4 L408.0,99.4 L410.0,98.4 L412.0,97.4 L414.0,96.4 L416.0,95.4 L418.0,94.5 L420.0,93.6 L422.0,92.7 L424.0,91.9 L426.0,91.0 L428.0,90.2 L430.0,89.3 L432.0,88.5 L434.0,87.7 L436.0,86.9 L438.0,86.1 L440.0,85.3 L442.0,84.5 L444.0,83.8 L446.0,83.0 L448.0,82.3 L450.0,81.6 L452.0,80.9 L454.0,80.2 L456.0,79.5 L458.0,78.8 L460.0,78.2 L462.0,77.5 L464.0,76.9 L466.0,76.3 L468.0,75.7 L470.0,75.1 L472.0,74.5 L474.0,73.9 L476.0,73.3 L478.0,72.8 L480.0,72.2 L482.0,71.7 L484.0,71.2 L486.0,70.7 L488.0,70.2 L490.0,69.8 L492.0,69.3 L494.0,68.9 L496.0,68.4 L498.0,68.0 L500.0,67.6 L502.0,67.1 L504.0,66.7 L506.0,66.2 L508.0,65.7 L510.0,65.2 L512.0,64.7 L514.0,64.2 L516.0,63.7 L518.0,63.2 L520.0,62.7 L522.0,62.2 L524.0,61.7 L526.0,61.1 L528.0,60.6 L530.0,60.1 L532.0,59.5 L534.0,59.0 L536.0,58.4 L538.0,57.7 L540.0,57.1 L540.5,56.9 L541.0,56.8 L541.5,56.6 L542.0,56.4 L542.5,56.3 L543.0,56.1 L543.5,55.9 L544.0,55.7 L544.5,55.5 L545.0,55.4 L545.5,55.2 L546.0,55.0 L546.5,54.8 L547.0,54.6 L547.5,54.4 L548.0,54.2 L548.5,54.0 L549.0,53.8 L549.5,53.6 L550.0,53.4 L550.5,53.2 L551.0,53.0 L551.5,52.8 L552.0,52.6 L552.5,52.3 L553.0,52.1 L553.5,51.8 L554.0,51.6 L554.5,51.3 L555.0,51.0 L555.5,50.8 L556.0,50.5 L556.5,50.2 L557.0,49.9 L557.5,49.6 L558.0,49.3 L558.5,48.9 L559.0,48.6 L559.5,48.3 L560.0,48.0 L560.5,47.6 L561.0,47.3 L561.5,47.0 L562.0,46.6 L562.5,46.3 L563.0,45.9 L563.5,45.6 L564.0,45.2 L564.5,44.9 L565.0,44.5 L565.5,44.2 L566.0,43.8 L566.5,43.5 L567.0,43.1 L567.5,42.8 L568.0,42.4 L568.5,42.1 L569.0,41.7 L569.5,41.3 L570.0,41.0 L570.5,40.6 L571.0,40.3 L571.5,39.9 L572.0,39.5 L572.5,39.2 L573.0,38.8 L573.5,38.4 L574.0,38.0 L574.5,37.7 L575.0,37.3 L575.5,36.9 L576.0,36.5 L576.5,36.1 L577.0,35.7 L577.5,35.3 L578.0,34.9 L578.5,34.5 L579.0,34.1 L579.5,33.7 L580.0,33.3 L580.5,32.9 L581.0,32.4 L581.5,32.0 L582.0,31.6 L582.5,31.2 L583.0,30.8 L583.5,30.3 L584.0,29.9 L584.5,29.5 L585.0,29.0 L585.5,28.6 L585.5,28.6 L585.0,38.4 L584.5,44.8 L584.0,49.8 L583.5,54.0 L583.0,57.6 L582.5,60.9 L582.0,63.9 L581.5,66.7 L581.0,69.2 L580.5,71.6 L580.0,73.8 L579.5,76.0 L579.0,78.0 L578.5,80.0 L578.0,81.9 L577.5,83.6 L577.0,85.3 L576.5,86.9 L576.0,88.3 L575.5,89.7 L575.0,91.0 L574.5,92.3 L574.0,93.6 L573.5,94.8 L573.0,96.0 L572.5,97.1 L572.0,98.1 L571.5,99.1 L571.0,99.9 L570.5,100.7 L570.0,101.4 L569.5,102.1 L569.0,102.7 L568.5,103.2 L568.0,103.7 L567.5,104.2 L567.0,104.7 L566.5,105.2 L566.0,105.6 L565.5,106.0 L565.0,106.4 L564.5,106.8 L564.0,107.2 L563.5,107.5 L563.0,107.9 L562.5,108.3 L562.0,108.6 L561.5,109.0 L561.0,109.4 L560.5,109.7 L560.0,110.1 L559.5,110.5 L559.0,110.8 L558.5,111.1 L558.0,111.5 L557.5,111.8 L557.0,112.1 L556.5,112.5 L556.0,112.8 L555.5,113.1 L555.0,113.4 L554.5,113.7 L554.0,114.0 L553.5,114.2 L553.0,114.5 L552.5,114.8 L552.0,115.0 L551.5,115.3 L551.0,115.6 L550.5,115.8 L550.0,116.1 L549.5,116.3 L549.0,116.6 L548.5,116.8 L548.0,117.1 L547.5,117.3 L547.0,117.5 L546.5,117.8 L546.0,118.0 L545.5,118.2 L545.0,118.4 L544.5,118.6 L544.0,118.9 L543.5,119.1 L543.0,119.3 L542.5,119.4 L542.0,119.6 L541.5,119.8 L541.0,120.0 L540.5,120.1 L540.0,120.3 L538.0,120.9 L536.0,121.5 L534.0,122.0 L532.0,122.5 L530.0,123.0 L528.0,123.5 L526.0,124.0 L524.0,124.4 L522.0,124.8 L520.0,125.2 L518.0,125.6 L516.0,126.0 L514.0,126.4 L512.0,126.7 L510.0,127.1 L508.0,127.5 L506.0,127.8 L504.0,128.2 L502.0,128.6 L500.0,128.9 L498.0,129.3 L496.0,129.7 L494.0,130.2 L492.0,130.6 L490.0,131.0 L488.0,131.4 L486.0,131.9 L484.0,132.3 L482.0,132.7 L480.0,133.1 L478.0,133.6 L476.0,134.0 L474.0,134.4 L472.0,134.9 L470.0,135.3 L468.0,135.7 L466.0,136.1 L464.0,136.6 L462.0,137.0 L460.0,137.4 L458.0,137.9 L456.0,138.3 L454.0,138.7 L452.0,139.1 L450.0,139.6 L448.0,140.0 L446.0,140.4 L444.0,140.9 L442.0,141.3 L440.0,141.7 L438.0,142.1 L436.0,142.6 L434.0,143.0 L432.0,143.4 L430.0,143.9 L428.0,144.3 L426.0,144.7 L424.0,145.1 L422.0,145.6 L420.0,146.0 L418.0,146.4 L416.0,146.9 L414.0,147.3 L412.0,147.7 L410.0,148.1 L408.0,148.6 L406.0,149.0 L404.0,149.4 L402.0,149.9 L400.0,150.3 L398.0,150.7 L396.0,151.1 L394.0,151.6 L392.0,152.0 L390.0,152.4 L388.0,152.8 L386.0,153.3 L384.0,153.7 L382.0,154.1 L380.0,154.6 L378.0,155.0 L376.0,155.4 L374.0,155.8 L372.0,156.3 L371.7,156.3 L371.2,156.4 L370.7,156.6 L370.2,156.7 L369.7,156.8 L369.2,156.9 L368.7,157.0 L368.2,157.1 L367.7,157.2 L367.2,157.3 L366.7,157.4 L366.2,157.5 L365.7,157.6 L365.2,157.7 L364.7,157.8 L364.2,157.9 L363.7,158.1 L363.2,158.2 L362.7,158.3 L362.2,158.4 L361.7,158.5 L361.2,158.6 L360.7,158.7 L360.2,158.8 L359.7,158.9 L359.2,159.0 L358.7,159.1 L358.2,159.2 L357.7,159.3 L357.2,159.4 L356.7,159.6 L356.2,159.7 L355.7,159.8 L355.2,159.9 L354.7,160.0 L354.2,160.1 L353.7,160.2 L353.2,160.3" stroke="#800080" stroke-width="1.80"/>
<path d="M353.2,166.4 L353.7,162.9 L354.2,159.9 L354.7,157.2 L355.2,154.8 L355.7,152.6 L356.2,150.7 L356.7,149.0 L357.2,147.4 L357.7,145.9 L358.2,144.5 L358.7,143.3 L359.2,142.1 L359.7,141.0 L360.2,139.9 L360.7,138.9 L361.2,137.9 L361.7,137.0 L362.2,136.1 L362.7,135.3 L363.2,134.5 L363.7,133.7 L364.2,133.0 L364.7,132.2 L365.2,131.5 L365.7,130.8 L366.2,130.2 L366.7,129.5 L367.2,128.9 L367.7,128.3 L368.2,127.7 L368.7,127.1 L369.2,126.5 L369.7,125.9 L370.2,125.4 L370.7,124.8 L371.2,124.3 L371.7,123.8 L372.0,123.5 L374.0,121.5 L376.0,119.7 L378.0,118.0 L380.0,116.4 L382.0,114.9 L384.0,113.4 L386.0,112.0 L388.0,110.7 L390.0,109.4 L392.0,108.1 L394.0,106.9 L396.0,105.6 L398.0,104.4 L400.0,103.2 L402.0,102.0 L404.0,100.8 L406.0,99.6 L408.0,98.3 L410.0,97.2 L412.0,96.0 L414.0,94.8 L416.0,93.7 L418.0,92.7 L420.0,91.7 L422.0,90.8 L424.0,89.9 L426.0,89.0 L428.0,88.1 L430.0,87.3 L432.0,86.5 L434.0,85.7 L436.0,84.9 L438.0,84.2 L440.0,83.4 L442.0,82.7 L444.0,81.9 L446.0,81.2 L448.0,80.5 L450.0,79.7 L452.0,79.0 L454.0,78.3 L456.0,77.5 L458.0,76.7 L460.0,76.0 L462.0,75.2 L464.0,74.4 L466.0,73.7 L468.0,72.9 L470.0,72.2 L472.0,71.4 L474.0,70.7 L476.0,69.9 L478.0,69.2 L480.0,68.5 L482.0,67.8 L484.0,67.1 L486.0,66.5 L488.0,65.8 L490.0,65.2 L492.0,64.6 L494.0,64.0 L496.0,63.4 L498.0,62.7 L500.0,62.1 L502.0,61.5 L504.0,60.8 L506.0,60.2 L508.0,59.5 L510.0,58.8 L512.0,58.1 L514.0,57.4 L516.0,56.6 L518.0,55.9 L520.0,55.2 L522.0,54.4 L524.0,53.7 L526.0,52.9 L528.0,52.1 L530.0,51.4 L532.0,50.5 L534.0,49.7 L536.0,48.9 L538.0,48.0 L540.0,47.1 L540.5,46.9 L541.0,46.7 L541.5,46.4 L542.0,46.2 L542.5,46.0 L543.0,45.7 L543.5,45.5 L544.0,45.3 L544.5,45.0 L545.0,44.8 L545.5,44.5 L546.0,44.3 L546.5,44.0 L547.0,43.8 L547.5,43.5 L548.0,43.3 L548.5,43.0 L549.0,42.8 L549.5,42.5 L550.0,42.2 L550.5,42.0 L551.0,41.7 L551.5,41.4 L552.0,41.2 L552.5,40.9 L553.0,40.6 L553.5,40.3 L554.0,40.0 L554.5,39.7 L555.0,39.4 L555.5,39.1 L556.0,38.8 L556.5,38.4 L557.0,38.1 L557.5,37.8 L558.0,37.4 L558.5,37.1 L559.0,36.8 L559.5,36.4 L560.0,36.1 L560.5,35.7 L561.0,35.4 L561.5,35.0 L562.0,34.6 L562.5,34.3 L563.0,33.9 L563.5,33.5 L564.0,33.2 L564.5,32.8 L565.0,32.4 L565.5,32.0 L566.0,31.6 L566.5,31.3 L567.0,30.9 L567.5,30.5 L568.0,30.1 L568.5,29.7 L569.0,29.3 L569.5,28.9 L570.0,28.5 L570.5,28.1 L571.0,27.7 L571.5,27.3 L572.0,26.9 L572.5,26.4 L573.0,26.0 L573.5,25.6 L574.0,25.1 L574.5,24.7 L575.0,24.3 L575.5,23.8 L576.0,23.4 L576.5,22.9 L577.0,22.5 L577.5,22.0 L578.0,21.5 L578.5,21.1 L579.0,20.6 L579.5,20.1 L580.0,19.7 L580.5,19.2 L581.0,18.7 L581.5,18.2 L582.0,17.7 L582.5,17.2 L583.0,16.7 L583.5,16.2 L584.0,15.7 L584.5,15.2 L585.0,14.7 L585.5,14.2 L585.5,14.2 L585.0,25.5 L584.5,33.1 L584.0,39.0 L583.5,43.8 L583.0,48.1 L582.5,51.9 L582.0,55.5 L581.5,58.7 L581.0,61.7 L580.5,64.5 L580.0,67.2 L579.5,69.7 L579.0,72.1 L578.5,74.3 L578.0,76.5 L577.5,78.6 L577.0,80.6 L576.5,82.5 L576.0,84.3 L575.5,85.9 L575.0,87.5 L574.5,89.1 L574.0,90.7 L573.5,92.2 L573.0,93.6 L572.5,95.0 L572.0,96.3 L571.5,97.5 L571.0,98.7 L570.5,99.7 L570.0,100.5 L569.5,101.3 L569.0,102.0 L568.5,102.6 L568.0,103.2 L567.5,103.8 L567.0,104.3 L566.5,104.8 L566.0,105.3 L565.5,105.8 L565.0,106.2 L564.5,106.6 L564.0,107.0 L563.5,107.4 L563.0,107.8 L562.5,108.2 L562.0,108.6 L561.5,109.0 L561.0,109.4 L560.5,109.8 L560.0,110.2 L559.5,110.5 L559.0,110.9 L558.5,111.2 L558.0,111.6 L557.5,111.9 L557.0,112.3 L556.5,112.6 L556.0,112.9 L555.5,113.2 L555.0,113.5 L554.5,113.9 L554.0,114.2 L553.5,114.5 L553.0,114.8 L552.5,115.1 L552.0,115.4 L551.5,115.8 L551.0,116.1 L550.5,116.4 L550.0,116.7 L549.5,117.1 L549.0,117.4 L548.5,117.7 L548.0,118.0 L547.5,118.4 L547.0,118.7 L546.5,119.0 L546.0,119.3 L545.5,119.6 L545.0,119.9 L544.5,120.2 L544.0,120.4 L543.5,120.7 L543.0,121.0 L542.5,121.2 L542.0,121.5 L541.5,121.7 L541.0,121.9 L540.5,122.1 L540.0,122.3 L538.0,123.0 L536.0,123.7 L534.0,124.3 L532.0,124.9 L530.0,125.4 L528.0,126.0 L526.0,126.5 L524.0,127.0 L522.0,127.4 L520.0,127.9 L518.0,128.3 L516.0,128.7 L514.0,129.1 L512.0,129.5 L510.0,129.9 L508.0,130.3 L506.0,130.6 L504.0,131.0 L502.0,131.4 L500.0,131.8 L498.0,132.3 L496.0,132.7 L494.0,133.2 L492.0,133.6 L490.0,134.1 L488.0,134.6 L486.0,135.0 L484.0,135.5 L482.0,136.0 L480.0,136.5 L478.0,136.9 L476.0,137.4 L474.0,137.9 L472.0,138.4 L470.0,138.8 L468.0,139.3 L466.0,139.8 L464.0,140.2 L462.0,140.7 L460.0,141.2 L458.0,141.7 L456.0,142.1 L454.0,142.6 L452.0,143.1 L450.0,143.5 L448.0,144.0 L446.0,144.5 L444.0,145.0 L442.0,145.4 L440.0,145.9 L438.0,146.4 L436.0,146.9 L434.0,147.3 L432.0,147.8 L430.0,148.3 L428.0,148.7 L426.0,149.2 L424.0,149.7 L422.0,150.2 L420.0,150.6 L418.0,151.1 L416.0,151.6 L414.0,152.0 L412.0,152.5 L410.0,153.0 L408.0,153.5 L406.0,153.9 L404.0,154.4 L402.0,154.9 L400.0,155.4 L398.0,155.8 L396.0,156.3 L394.0,156.8 L392.0,157.2 L390.0,157.7 L388.0,158.2 L386.0,158.7 L384.0,159.1 L382.0,159.6 L380.0,160.1 L378.0,160.5 L376.0,161.0 L374.0,161.5 L372.0,162.0 L371.7,162.0 L371.2,162.2 L370.7,162.3 L370.2,162.4 L369.7,162.5 L369.2,162.6 L368.7,162.7 L368.2,162.9 L367.7,163.0 L367.2,163.1 L366.7,163.2 L366.2,163.3 L365.7,163.4 L365.2,163.6 L364.7,163.7 L364.2,163.8 L363.7,163.9 L363.2,164.0 L362.7,164.2 L362.2,164.3 L361.7,164.4 L361.2,164.5 L360.7,164.6 L360.2,164.7 L359.7,164.9 L359.2,165.0 L358.7,165.1 L358.2,165.2 L357.7,165.3 L357.2,165.5 L356.7,165.6 L356.2,165.7 L355.7,165.8 L355.2,165.9 L354.7,166.0 L354.2,166.2 L353.7,166.3 L353.2,166.4" stroke="#800000" stroke-width="1.80"/></g>
<rect x="353.0" y="9.7" width="257.5" height="196.7" fill="none" stroke="#000" stroke-width="2"/>
<line x1="363.3" y1="206.4" x2="363.3" y2="209.0" stroke="#000" stroke-width="1.3"/>
<line x1="373.6" y1="206.4" x2="373.6" y2="209.0" stroke="#000" stroke-width="1.3"/>
<line x1="383.9" y1="206.4" x2="383.9" y2="209.0" stroke="#000" stroke-width="1.3"/>
<line x1="394.2" y1="206.4" x2="394.2" y2="209.0" stroke="#000" stroke-width="1.3"/>
<line x1="414.8" y1="206.4" x2="414.8" y2="209.0" stroke="#000" stroke-width="1.3"/>
<line x1="425.1" y1="206.4" x2="425.1" y2="209.0" stroke="#000" stroke-width="1.3"/>
<line x1="435.4" y1="206.4" x2="435.4" y2="209.0" stroke="#000" stroke-width="1.3"/>
<line x1="445.7" y1="206.4" x2="445.7" y2="209.0" stroke="#000" stroke-width="1.3"/>
<line x1="466.3" y1="206.4" x2="466.3" y2="209.0" stroke="#000" stroke-width="1.3"/>
<line x1="476.6" y1="206.4" x2="476.6" y2="209.0" stroke="#000" stroke-width="1.3"/>
<line x1="486.9" y1="206.4" x2="486.9" y2="209.0" stroke="#000" stroke-width="1.3"/>
<line x1="497.2" y1="206.4" x2="497.2" y2="209.0" stroke="#000" stroke-width="1.3"/>
<line x1="517.8" y1="206.4" x2="517.8" y2="209.0" stroke="#000" stroke-width="1.3"/>
<line x1="528.1" y1="206.4" x2="528.1" y2="209.0" stroke="#000" stroke-width="1.3"/>
<line x1="538.4" y1="206.4" x2="538.4" y2="209.0" stroke="#000" stroke-width="1.3"/>
<line x1="548.7" y1="206.4" x2="548.7" y2="209.0" stroke="#000" stroke-width="1.3"/>
<line x1="569.3" y1="206.4" x2="569.3" y2="209.0" stroke="#000" stroke-width="1.3"/>
<line x1="579.6" y1="206.4" x2="579.6" y2="209.0" stroke="#000" stroke-width="1.3"/>
<line x1="589.9" y1="206.4" x2="589.9" y2="209.0" stroke="#000" stroke-width="1.3"/>
<line x1="600.2" y1="206.4" x2="600.2" y2="209.0" stroke="#000" stroke-width="1.3"/>
<line x1="353.0" y1="19.5" x2="350.4" y2="19.5" stroke="#000" stroke-width="1.3"/>
<line x1="353.0" y1="29.4" x2="350.4" y2="29.4" stroke="#000" stroke-width="1.3"/>
<line x1="353.0" y1="39.2" x2="350.4" y2="39.2" stroke="#000" stroke-width="1.3"/>
<line x1="353.0" y1="49.0" x2="350.4" y2="49.0" stroke="#000" stroke-width="1.3"/>
<line x1="353.0" y1="68.7" x2="350.4" y2="68.7" stroke="#000" stroke-width="1.3"/>
<line x1="353.0" y1="78.5" x2="350.4" y2="78.5" stroke="#000" stroke-width="1.3"/>
<line x1="353.0" y1="88.4" x2="350.4" y2="88.4" stroke="#000" stroke-width="1.3"/>
<line x1="353.0" y1="98.2" x2="350.4" y2="98.2" stroke="#000" stroke-width="1.3"/>
<line x1="353.0" y1="117.9" x2="350.4" y2="117.9" stroke="#000" stroke-width="1.3"/>
<line x1="353.0" y1="127.7" x2="350.4" y2="127.7" stroke="#000" stroke-width="1.3"/>
<line x1="353.0" y1="137.6" x2="350.4" y2="137.6" stroke="#000" stroke-width="1.3"/>
<line x1="353.0" y1="147.4" x2="350.4" y2="147.4" stroke="#000" stroke-width="1.3"/>
<line x1="353.0" y1="167.1" x2="350.4" y2="167.1" stroke="#000" stroke-width="1.3"/>
<line x1="353.0" y1="176.9" x2="350.4" y2="176.9" stroke="#000" stroke-width="1.3"/>
<line x1="353.0" y1="186.7" x2="350.4" y2="186.7" stroke="#000" stroke-width="1.3"/>
<line x1="353.0" y1="196.6" x2="350.4" y2="196.6" stroke="#000" stroke-width="1.3"/>
<line x1="353.0" y1="206.4" x2="353.0" y2="210.9" stroke="#000" stroke-width="1.5"/>
<text x="353.0" y="220.6" class="tk" text-anchor="middle">-0.4</text>
<line x1="404.5" y1="206.4" x2="404.5" y2="210.9" stroke="#000" stroke-width="1.5"/>
<text x="404.5" y="220.6" class="tk" text-anchor="middle">-0.2</text>
<line x1="456.0" y1="206.4" x2="456.0" y2="210.9" stroke="#000" stroke-width="1.5"/>
<text x="456.0" y="220.6" class="tk" text-anchor="middle">0.0</text>
<line x1="507.5" y1="206.4" x2="507.5" y2="210.9" stroke="#000" stroke-width="1.5"/>
<text x="507.5" y="220.6" class="tk" text-anchor="middle">0.2</text>
<line x1="559.0" y1="206.4" x2="559.0" y2="210.9" stroke="#000" stroke-width="1.5"/>
<text x="559.0" y="220.6" class="tk" text-anchor="middle">0.4</text>
<line x1="610.5" y1="206.4" x2="610.5" y2="210.9" stroke="#000" stroke-width="1.5"/>
<text x="610.5" y="220.6" class="tk" text-anchor="middle">0.6</text>
<line x1="353.0" y1="9.7" x2="348.5" y2="9.7" stroke="#000" stroke-width="1.5"/>
<text x="346.4" y="12.5" class="tk" text-anchor="end">0.08</text>
<line x1="353.0" y1="58.9" x2="348.5" y2="58.9" stroke="#000" stroke-width="1.5"/>
<text x="346.4" y="61.7" class="tk" text-anchor="end">0.04</text>
<line x1="353.0" y1="108.1" x2="348.5" y2="108.1" stroke="#000" stroke-width="1.5"/>
<text x="346.4" y="110.9" class="tk" text-anchor="end">0.00</text>
<line x1="353.0" y1="157.2" x2="348.5" y2="157.2" stroke="#000" stroke-width="1.5"/>
<text x="346.4" y="160.0" class="tk" text-anchor="end">-0.04</text>
<line x1="353.0" y1="206.4" x2="348.5" y2="206.4" stroke="#000" stroke-width="1.5"/>
<text x="346.4" y="209.2" class="tk" text-anchor="end">-0.08</text>
<polyline points="56.9,272.9 65.2,299.6 73.5,314.3 90.2,329.0 111.0,338.4 131.7,344.6 173.3,354.9 214.9,363.5 256.4,369.9" stroke="#1a1a8c" stroke-width="1.6" fill="none" stroke-linejoin="round"/>
<polyline points="56.9,254.8 65.2,272.3 73.5,290.5 90.2,319.5 111.0,341.6 131.7,354.9 173.3,369.3 214.9,377.2 256.4,382.4" stroke="#8a1aff" stroke-width="1.6" fill="none" stroke-linejoin="round"/>
<circle cx="56.9" cy="272.9" r="2.2" fill="#1a1a8c"/>
<circle cx="65.2" cy="299.6" r="2.2" fill="#1a1a8c"/>
<circle cx="73.5" cy="314.3" r="2.2" fill="#1a1a8c"/>
<circle cx="90.2" cy="329.0" r="2.2" fill="#1a1a8c"/>
<circle cx="111.0" cy="338.4" r="2.2" fill="#1a1a8c"/>
<circle cx="131.7" cy="344.6" r="2.2" fill="#1a1a8c"/>
<circle cx="173.3" cy="354.9" r="2.2" fill="#1a1a8c"/>
<circle cx="214.9" cy="363.5" r="2.2" fill="#1a1a8c"/>
<circle cx="256.4" cy="369.9" r="2.2" fill="#1a1a8c"/>
<polygon points="56.9,250.6 58.0,253.4 60.9,253.5 58.6,255.4 59.4,258.2 56.9,256.6 54.4,258.2 55.2,255.4 52.9,253.5 55.9,253.4" fill="#8a1aff"/>
<polygon points="65.2,268.1 66.3,270.9 69.2,271.0 66.9,272.8 67.7,275.7 65.2,274.1 62.8,275.7 63.5,272.8 61.2,271.0 64.2,270.9" fill="#8a1aff"/>
<polygon points="73.5,286.3 74.6,289.1 77.5,289.2 75.2,291.1 76.0,293.9 73.5,292.3 71.1,293.9 71.9,291.1 69.5,289.2 72.5,289.1" fill="#8a1aff"/>
<polygon points="90.2,315.3 91.2,318.1 94.2,318.2 91.8,320.0 92.6,322.9 90.2,321.3 87.7,322.9 88.5,320.0 86.2,318.2 89.1,318.1" fill="#8a1aff"/>
<polygon points="111.0,337.4 112.0,340.2 114.9,340.3 112.6,342.1 113.4,345.0 111.0,343.4 108.5,345.0 109.3,342.1 107.0,340.3 109.9,340.2" fill="#8a1aff"/>
<polygon points="131.7,350.7 132.8,353.4 135.7,353.6 133.4,355.4 134.2,358.3 131.7,356.6 129.3,358.3 130.1,355.4 127.7,353.6 130.7,353.4" fill="#8a1aff"/>
<polygon points="173.3,365.1 174.3,367.9 177.3,368.0 175.0,369.9 175.8,372.7 173.3,371.1 170.8,372.7 171.6,369.9 169.3,368.0 172.3,367.9" fill="#8a1aff"/>
<polygon points="214.9,373.0 215.9,375.8 218.9,375.9 216.5,377.7 217.3,380.6 214.9,379.0 212.4,380.6 213.2,377.7 210.9,375.9 213.8,375.8" fill="#8a1aff"/>
<polygon points="256.4,378.2 257.5,381.0 260.4,381.1 258.1,383.0 258.9,385.8 256.4,384.2 254.0,385.8 254.8,383.0 252.4,381.1 255.4,381.0" fill="#8a1aff"/>
<rect x="48.6" y="245.7" width="249.4" height="196.7" fill="none" stroke="#000" stroke-width="2"/>
<line x1="65.2" y1="442.4" x2="65.2" y2="445.0" stroke="#000" stroke-width="1.3"/>
<line x1="81.9" y1="442.4" x2="81.9" y2="445.0" stroke="#000" stroke-width="1.3"/>
<line x1="98.5" y1="442.4" x2="98.5" y2="445.0" stroke="#000" stroke-width="1.3"/>
<line x1="115.1" y1="442.4" x2="115.1" y2="445.0" stroke="#000" stroke-width="1.3"/>
<line x1="148.4" y1="442.4" x2="148.4" y2="445.0" stroke="#000" stroke-width="1.3"/>
<line x1="165.0" y1="442.4" x2="165.0" y2="445.0" stroke="#000" stroke-width="1.3"/>
<line x1="181.6" y1="442.4" x2="181.6" y2="445.0" stroke="#000" stroke-width="1.3"/>
<line x1="198.2" y1="442.4" x2="198.2" y2="445.0" stroke="#000" stroke-width="1.3"/>
<line x1="231.5" y1="442.4" x2="231.5" y2="445.0" stroke="#000" stroke-width="1.3"/>
<line x1="248.1" y1="442.4" x2="248.1" y2="445.0" stroke="#000" stroke-width="1.3"/>
<line x1="264.7" y1="442.4" x2="264.7" y2="445.0" stroke="#000" stroke-width="1.3"/>
<line x1="281.4" y1="442.4" x2="281.4" y2="445.0" stroke="#000" stroke-width="1.3"/>
<line x1="48.6" y1="432.6" x2="46.0" y2="432.6" stroke="#000" stroke-width="1.3"/>
<line x1="48.6" y1="422.7" x2="46.0" y2="422.7" stroke="#000" stroke-width="1.3"/>
<line x1="48.6" y1="412.9" x2="46.0" y2="412.9" stroke="#000" stroke-width="1.3"/>
<line x1="48.6" y1="403.1" x2="46.0" y2="403.1" stroke="#000" stroke-width="1.3"/>
<line x1="48.6" y1="383.4" x2="46.0" y2="383.4" stroke="#000" stroke-width="1.3"/>
<line x1="48.6" y1="373.6" x2="46.0" y2="373.6" stroke="#000" stroke-width="1.3"/>
<line x1="48.6" y1="363.7" x2="46.0" y2="363.7" stroke="#000" stroke-width="1.3"/>
<line x1="48.6" y1="353.9" x2="46.0" y2="353.9" stroke="#000" stroke-width="1.3"/>
<line x1="48.6" y1="334.2" x2="46.0" y2="334.2" stroke="#000" stroke-width="1.3"/>
<line x1="48.6" y1="324.4" x2="46.0" y2="324.4" stroke="#000" stroke-width="1.3"/>
<line x1="48.6" y1="314.5" x2="46.0" y2="314.5" stroke="#000" stroke-width="1.3"/>
<line x1="48.6" y1="304.7" x2="46.0" y2="304.7" stroke="#000" stroke-width="1.3"/>
<line x1="48.6" y1="285.0" x2="46.0" y2="285.0" stroke="#000" stroke-width="1.3"/>
<line x1="48.6" y1="275.2" x2="46.0" y2="275.2" stroke="#000" stroke-width="1.3"/>
<line x1="48.6" y1="265.4" x2="46.0" y2="265.4" stroke="#000" stroke-width="1.3"/>
<line x1="48.6" y1="255.5" x2="46.0" y2="255.5" stroke="#000" stroke-width="1.3"/>
<line x1="48.6" y1="442.4" x2="48.6" y2="446.9" stroke="#000" stroke-width="1.5"/>
<text x="48.6" y="456.6" class="tk" text-anchor="middle">0</text>
<line x1="131.7" y1="442.4" x2="131.7" y2="446.9" stroke="#000" stroke-width="1.5"/>
<text x="131.7" y="456.6" class="tk" text-anchor="middle">100</text>
<line x1="214.9" y1="442.4" x2="214.9" y2="446.9" stroke="#000" stroke-width="1.5"/>
<text x="214.9" y="456.6" class="tk" text-anchor="middle">200</text>
<line x1="298.0" y1="442.4" x2="298.0" y2="446.9" stroke="#000" stroke-width="1.5"/>
<text x="298.0" y="456.6" class="tk" text-anchor="middle">300</text>
<line x1="48.6" y1="442.4" x2="44.1" y2="442.4" stroke="#000" stroke-width="1.5"/>
<text x="42.0" y="445.2" class="tk" text-anchor="end">0</text>
<line x1="48.6" y1="393.2" x2="44.1" y2="393.2" stroke="#000" stroke-width="1.5"/>
<text x="42.0" y="396.0" class="tk" text-anchor="end">250</text>
<line x1="48.6" y1="344.0" x2="44.1" y2="344.0" stroke="#000" stroke-width="1.5"/>
<text x="42.0" y="346.8" class="tk" text-anchor="end">500</text>
<line x1="48.6" y1="294.9" x2="44.1" y2="294.9" stroke="#000" stroke-width="1.5"/>
<text x="42.0" y="297.7" class="tk" text-anchor="end">750</text>
<line x1="48.6" y1="245.7" x2="44.1" y2="245.7" stroke="#000" stroke-width="1.5"/>
<text x="42.0" y="248.5" class="tk" text-anchor="end">1000</text>
<line x1="383.3" y1="424.4" x2="559.3" y2="280.1" stroke="#ff1a1a" stroke-width="1.8" stroke-dasharray="8,8.5"/>
<polygon points="383.2,414.4 384.2,417.1 387.1,417.2 384.9,419.0 385.6,421.8 383.2,420.2 380.8,421.8 381.6,419.0 379.3,417.2 382.2,417.1" fill="#0a7a0a"/>
<polygon points="417.0,394.2 418.0,396.9 420.9,397.0 418.6,398.8 419.4,401.6 417.0,400.0 414.5,401.6 415.3,398.8 413.1,397.0 415.9,396.9" fill="#0a7a0a"/>
<polygon points="442.8,375.2 443.9,377.9 446.7,378.0 444.5,379.8 445.2,382.6 442.8,381.0 440.4,382.6 441.2,379.8 438.9,378.0 441.8,377.9" fill="#0a7a0a"/>
<polygon points="483.9,343.7 484.9,346.4 487.8,346.5 485.5,348.3 486.3,351.1 483.9,349.5 481.5,351.1 482.2,348.3 480.0,346.5 482.9,346.4" fill="#0a7a0a"/>
<polygon points="524.8,305.9 525.8,308.6 528.7,308.7 526.4,310.5 527.2,313.3 524.8,311.7 522.4,313.3 523.2,310.5 520.9,308.7 523.8,308.6" fill="#0a7a0a"/>
<polygon points="559.3,269.8 560.3,272.5 563.2,272.7 560.9,274.5 561.7,277.3 559.3,275.7 556.9,277.3 557.7,274.5 555.4,272.7 558.3,272.5" fill="#0a7a0a"/>
<rect x="353.3" y="245.0" width="257.5" height="196.2" fill="none" stroke="#000" stroke-width="2"/>
<line x1="363.6" y1="441.2" x2="363.6" y2="443.8" stroke="#000" stroke-width="1.3"/>
<line x1="373.9" y1="441.2" x2="373.9" y2="443.8" stroke="#000" stroke-width="1.3"/>
<line x1="384.2" y1="441.2" x2="384.2" y2="443.8" stroke="#000" stroke-width="1.3"/>
<line x1="394.5" y1="441.2" x2="394.5" y2="443.8" stroke="#000" stroke-width="1.3"/>
<line x1="415.1" y1="441.2" x2="415.1" y2="443.8" stroke="#000" stroke-width="1.3"/>
<line x1="425.4" y1="441.2" x2="425.4" y2="443.8" stroke="#000" stroke-width="1.3"/>
<line x1="435.7" y1="441.2" x2="435.7" y2="443.8" stroke="#000" stroke-width="1.3"/>
<line x1="446.0" y1="441.2" x2="446.0" y2="443.8" stroke="#000" stroke-width="1.3"/>
<line x1="466.6" y1="441.2" x2="466.6" y2="443.8" stroke="#000" stroke-width="1.3"/>
<line x1="476.9" y1="441.2" x2="476.9" y2="443.8" stroke="#000" stroke-width="1.3"/>
<line x1="487.2" y1="441.2" x2="487.2" y2="443.8" stroke="#000" stroke-width="1.3"/>
<line x1="497.5" y1="441.2" x2="497.5" y2="443.8" stroke="#000" stroke-width="1.3"/>
<line x1="518.1" y1="441.2" x2="518.1" y2="443.8" stroke="#000" stroke-width="1.3"/>
<line x1="528.4" y1="441.2" x2="528.4" y2="443.8" stroke="#000" stroke-width="1.3"/>
<line x1="538.7" y1="441.2" x2="538.7" y2="443.8" stroke="#000" stroke-width="1.3"/>
<line x1="549.0" y1="441.2" x2="549.0" y2="443.8" stroke="#000" stroke-width="1.3"/>
<line x1="569.6" y1="441.2" x2="569.6" y2="443.8" stroke="#000" stroke-width="1.3"/>
<line x1="579.9" y1="441.2" x2="579.9" y2="443.8" stroke="#000" stroke-width="1.3"/>
<line x1="590.2" y1="441.2" x2="590.2" y2="443.8" stroke="#000" stroke-width="1.3"/>
<line x1="600.5" y1="441.2" x2="600.5" y2="443.8" stroke="#000" stroke-width="1.3"/>
<line x1="353.3" y1="431.4" x2="350.7" y2="431.4" stroke="#000" stroke-width="1.3"/>
<line x1="353.3" y1="421.6" x2="350.7" y2="421.6" stroke="#000" stroke-width="1.3"/>
<line x1="353.3" y1="411.8" x2="350.7" y2="411.8" stroke="#000" stroke-width="1.3"/>
<line x1="353.3" y1="402.0" x2="350.7" y2="402.0" stroke="#000" stroke-width="1.3"/>
<line x1="353.3" y1="382.3" x2="350.7" y2="382.3" stroke="#000" stroke-width="1.3"/>
<line x1="353.3" y1="372.5" x2="350.7" y2="372.5" stroke="#000" stroke-width="1.3"/>
<line x1="353.3" y1="362.7" x2="350.7" y2="362.7" stroke="#000" stroke-width="1.3"/>
<line x1="353.3" y1="352.9" x2="350.7" y2="352.9" stroke="#000" stroke-width="1.3"/>
<line x1="353.3" y1="333.3" x2="350.7" y2="333.3" stroke="#000" stroke-width="1.3"/>
<line x1="353.3" y1="323.5" x2="350.7" y2="323.5" stroke="#000" stroke-width="1.3"/>
<line x1="353.3" y1="313.7" x2="350.7" y2="313.7" stroke="#000" stroke-width="1.3"/>
<line x1="353.3" y1="303.9" x2="350.7" y2="303.9" stroke="#000" stroke-width="1.3"/>
<line x1="353.3" y1="284.2" x2="350.7" y2="284.2" stroke="#000" stroke-width="1.3"/>
<line x1="353.3" y1="274.4" x2="350.7" y2="274.4" stroke="#000" stroke-width="1.3"/>
<line x1="353.3" y1="264.6" x2="350.7" y2="264.6" stroke="#000" stroke-width="1.3"/>
<line x1="353.3" y1="254.8" x2="350.7" y2="254.8" stroke="#000" stroke-width="1.3"/>
<line x1="353.3" y1="441.2" x2="353.3" y2="445.7" stroke="#000" stroke-width="1.5"/>
<text x="353.3" y="455.4" class="tk" text-anchor="middle">2</text>
<line x1="404.8" y1="441.2" x2="404.8" y2="445.7" stroke="#000" stroke-width="1.5"/>
<text x="404.8" y="455.4" class="tk" text-anchor="middle">4</text>
<line x1="456.3" y1="441.2" x2="456.3" y2="445.7" stroke="#000" stroke-width="1.5"/>
<text x="456.3" y="455.4" class="tk" text-anchor="middle">6</text>
<line x1="507.8" y1="441.2" x2="507.8" y2="445.7" stroke="#000" stroke-width="1.5"/>
<text x="507.8" y="455.4" class="tk" text-anchor="middle">8</text>
<line x1="559.3" y1="441.2" x2="559.3" y2="445.7" stroke="#000" stroke-width="1.5"/>
<text x="559.3" y="455.4" class="tk" text-anchor="middle">10</text>
<line x1="610.8" y1="441.2" x2="610.8" y2="445.7" stroke="#000" stroke-width="1.5"/>
<text x="610.8" y="455.4" class="tk" text-anchor="middle">12</text>
<line x1="353.3" y1="441.2" x2="348.8" y2="441.2" stroke="#000" stroke-width="1.5"/>
<text x="346.7" y="444.0" class="tk" text-anchor="end">0.00</text>
<line x1="353.3" y1="392.1" x2="348.8" y2="392.1" stroke="#000" stroke-width="1.5"/>
<text x="346.7" y="394.9" class="tk" text-anchor="end">0.02</text>
<line x1="353.3" y1="343.1" x2="348.8" y2="343.1" stroke="#000" stroke-width="1.5"/>
<text x="346.7" y="345.9" class="tk" text-anchor="end">0.04</text>
<line x1="353.3" y1="294.1" x2="348.8" y2="294.1" stroke="#000" stroke-width="1.5"/>
<text x="346.7" y="296.9" class="tk" text-anchor="end">0.06</text>
<line x1="353.3" y1="245.0" x2="348.8" y2="245.0" stroke="#000" stroke-width="1.5"/>
<text x="346.7" y="247.8" class="tk" text-anchor="end">0.08</text>
<line x1="48.6" y1="29.5" x2="69.8" y2="29.5" stroke="#000000" stroke-width="1.6"/>
<text x="72.3" y="32.8" class="lg">10 mV s<tspan class="sup" dy="-3.8">-1</tspan></text>
<line x1="48.6" y1="43.1" x2="69.8" y2="43.1" stroke="#0000ff" stroke-width="1.6"/>
<text x="72.3" y="46.4" class="lg">30 mV s<tspan class="sup" dy="-3.8">-1</tspan></text>
<line x1="48.6" y1="57.0" x2="69.8" y2="57.0" stroke="#008000" stroke-width="1.6"/>
<text x="72.3" y="60.3" class="lg">75 mV s<tspan class="sup" dy="-3.8">-1</tspan></text>
<line x1="48.6" y1="70.5" x2="69.8" y2="70.5" stroke="#8000ff" stroke-width="1.6"/>
<text x="72.3" y="73.8" class="lg">150 mV s<tspan class="sup" dy="-3.8">-1</tspan></text>
<line x1="48.6" y1="84.1" x2="69.8" y2="84.1" stroke="#800000" stroke-width="1.6"/>
<text x="72.3" y="87.4" class="lg">250 mV s<tspan class="sup" dy="-3.8">-1</tspan></text>
<line x1="156.3" y1="29.5" x2="176.9" y2="29.5" stroke="#ff0000" stroke-width="1.6"/>
<text x="179.6" y="32.8" class="lg">20 mV s<tspan class="sup" dy="-3.8">-1</tspan></text>
<line x1="156.3" y1="43.1" x2="176.9" y2="43.1" stroke="#ff00ff" stroke-width="1.6"/>
<text x="179.6" y="46.4" class="lg">50 mV s<tspan class="sup" dy="-3.8">-1</tspan></text>
<line x1="156.3" y1="57.0" x2="176.9" y2="57.0" stroke="#000080" stroke-width="1.6"/>
<text x="179.6" y="60.3" class="lg">100 mV s<tspan class="sup" dy="-3.8">-1</tspan></text>
<line x1="156.3" y1="70.5" x2="176.9" y2="70.5" stroke="#800080" stroke-width="1.6"/>
<text x="179.6" y="73.8" class="lg">200mV s<tspan class="sup" dy="-3.8">-1</tspan></text>
<line x1="372.4" y1="19.8" x2="392.9" y2="19.8" stroke="#000000" stroke-width="1.6"/>
<text x="395.6" y="23.1" class="lg">10 mV s<tspan class="sup" dy="-3.8">-1</tspan></text>
<line x1="444.3" y1="19.8" x2="465.2" y2="19.8" stroke="#ff0000" stroke-width="1.6"/>
<text x="468.2" y="23.1" class="lg">20 mV s<tspan class="sup" dy="-3.8">-1</tspan></text>
<line x1="514.8" y1="19.8" x2="535.5" y2="19.8" stroke="#0000ff" stroke-width="1.6"/>
<text x="538.3" y="23.1" class="lg">30 mV s<tspan class="sup" dy="-3.8">-1</tspan></text>
<line x1="372.4" y1="33.5" x2="392.9" y2="33.5" stroke="#ff00ff" stroke-width="1.6"/>
<text x="395.6" y="36.8" class="lg">50 mV s<tspan class="sup" dy="-3.8">-1</tspan></text>
<line x1="444.3" y1="33.5" x2="465.2" y2="33.5" stroke="#008000" stroke-width="1.6"/>
<text x="468.2" y="36.8" class="lg">75 mV s<tspan class="sup" dy="-3.8">-1</tspan></text>
<line x1="372.4" y1="47.1" x2="392.9" y2="47.1" stroke="#000080" stroke-width="1.6"/>
<text x="395.6" y="50.4" class="lg">100 mV s<tspan class="sup" dy="-3.8">-1</tspan></text>
<line x1="444.3" y1="47.1" x2="465.2" y2="47.1" stroke="#8000ff" stroke-width="1.6"/>
<text x="468.2" y="50.4" class="lg">150 mV s<tspan class="sup" dy="-3.8">-1</tspan></text>
<line x1="372.4" y1="60.8" x2="392.9" y2="60.8" stroke="#800080" stroke-width="1.6"/>
<text x="395.6" y="64.1" class="lg">200 mV s<tspan class="sup" dy="-3.8">-1</tspan></text>
<line x1="372.4" y1="74.4" x2="392.9" y2="74.4" stroke="#800000" stroke-width="1.6"/>
<text x="395.6" y="77.7" class="lg">250 mV s<tspan class="sup" dy="-3.8">-1</tspan></text>
<text x="45.8" y="22.4" class="pl">(a)</text>
<text x="354.6" y="24.3" class="pl">(b)</text>
<text x="64.8" y="260.4" class="pl">(c)</text>
<text x="355" y="260.6" class="pl">(d)</text>
<text x="75.3" y="197.2" style="font-size:10.3px" textLength="205" lengthAdjust="spacing">Reference electrode: Ag/AgCl/3.0 M KCl</text>
<text x="381.3" y="193.7" style="font-size:10.3px" textLength="204" lengthAdjust="spacing">Reference electrode: Ag/AgCl/3.0 M KCl</text>
<text x="108.6" y="235.9" class="ttl" textLength="121" lengthAdjust="spacing">Potential applied (V)</text>
<text x="421.2" y="235.9" class="ttl" textLength="121" lengthAdjust="spacing">Potential applied (V)</text>
<text transform="translate(15.4,146.6) rotate(-90)" class="ttl" textLength="68" lengthAdjust="spacing">Current (A)</text>
<text transform="translate(322.3,147) rotate(-90)" class="ttl" textLength="68" lengthAdjust="spacing">Current (A)</text>
<line x1="196.5" y1="254.7" x2="216.9" y2="254.7" stroke="#1a1a8c" stroke-width="1.6"/>
<circle cx="207" cy="254.7" r="2" fill="#1a1a8c"/>
<text x="219.8" y="258.2" class="lg" style="fill:#1a1a8c" textLength="65" lengthAdjust="spacingAndGlyphs">Before Cycling</text>
<line x1="196.5" y1="266.4" x2="216.9" y2="266.4" stroke="#8a1aff" stroke-width="1.6"/>
<polygon points="207.0,262.4 208.0,265.0 210.8,265.2 208.6,266.9 209.4,269.6 207.0,268.1 204.6,269.6 205.4,266.9 203.2,265.2 206.0,265.0" fill="#8a1aff"/>
<text x="219.8" y="269.9" class="lg" style="fill:#8a1aff" textLength="57.2" lengthAdjust="spacingAndGlyphs">After Cycling</text>
<text x="259.8" y="373.4" class="lg" style="fill:#1a1a8c;font-size:9.5px">(I)</text>
<text x="260.3" y="387.2" class="lg" style="fill:#8a1aff;font-size:9.5px">(II)</text>
<text x="120.7" y="473.6" class="ttl" style="font-size:12px" textLength="105" lengthAdjust="spacing">Scan rate (mV s<tspan dy="-4.5" style="font-size:7px">-1</tspan><tspan dy="4.5">)</tspan></text>
<text transform="translate(14.2,436.8) rotate(-90)" class="ttl" style="font-size:12px" textLength="168" lengthAdjust="spacing">Specific capacitance (F g<tspan dy="-5.5" style="font-size:7px">-1</tspan><tspan dy="5.5">)</tspan></text>
<text transform="translate(321.2,424.7) rotate(-90)" class="ttl" style="font-size:12px" textLength="147" lengthAdjust="spacing">Anodic peak current (A)</text>
<text x="409.8" y="471.3" class="ttl" style="font-size:12px" textLength="140.5" lengthAdjust="spacing">(Scan rate)<tspan dy="-4.5" style="font-size:6.5px">1/2</tspan><tspan dy="4.5"> (mV</tspan><tspan dy="-4.5" style="font-size:6.5px">1/2</tspan><tspan dy="4.5"> s</tspan><tspan dy="-4.5" style="font-size:6.5px">-1/2</tspan><tspan dy="4.5">)</tspan></text>
<text x="511.6" y="435.1" style="font-size:9.6px" textLength="85.4" lengthAdjust="spacing">R-square = 0.99188</text>
</svg>
</body></html>
